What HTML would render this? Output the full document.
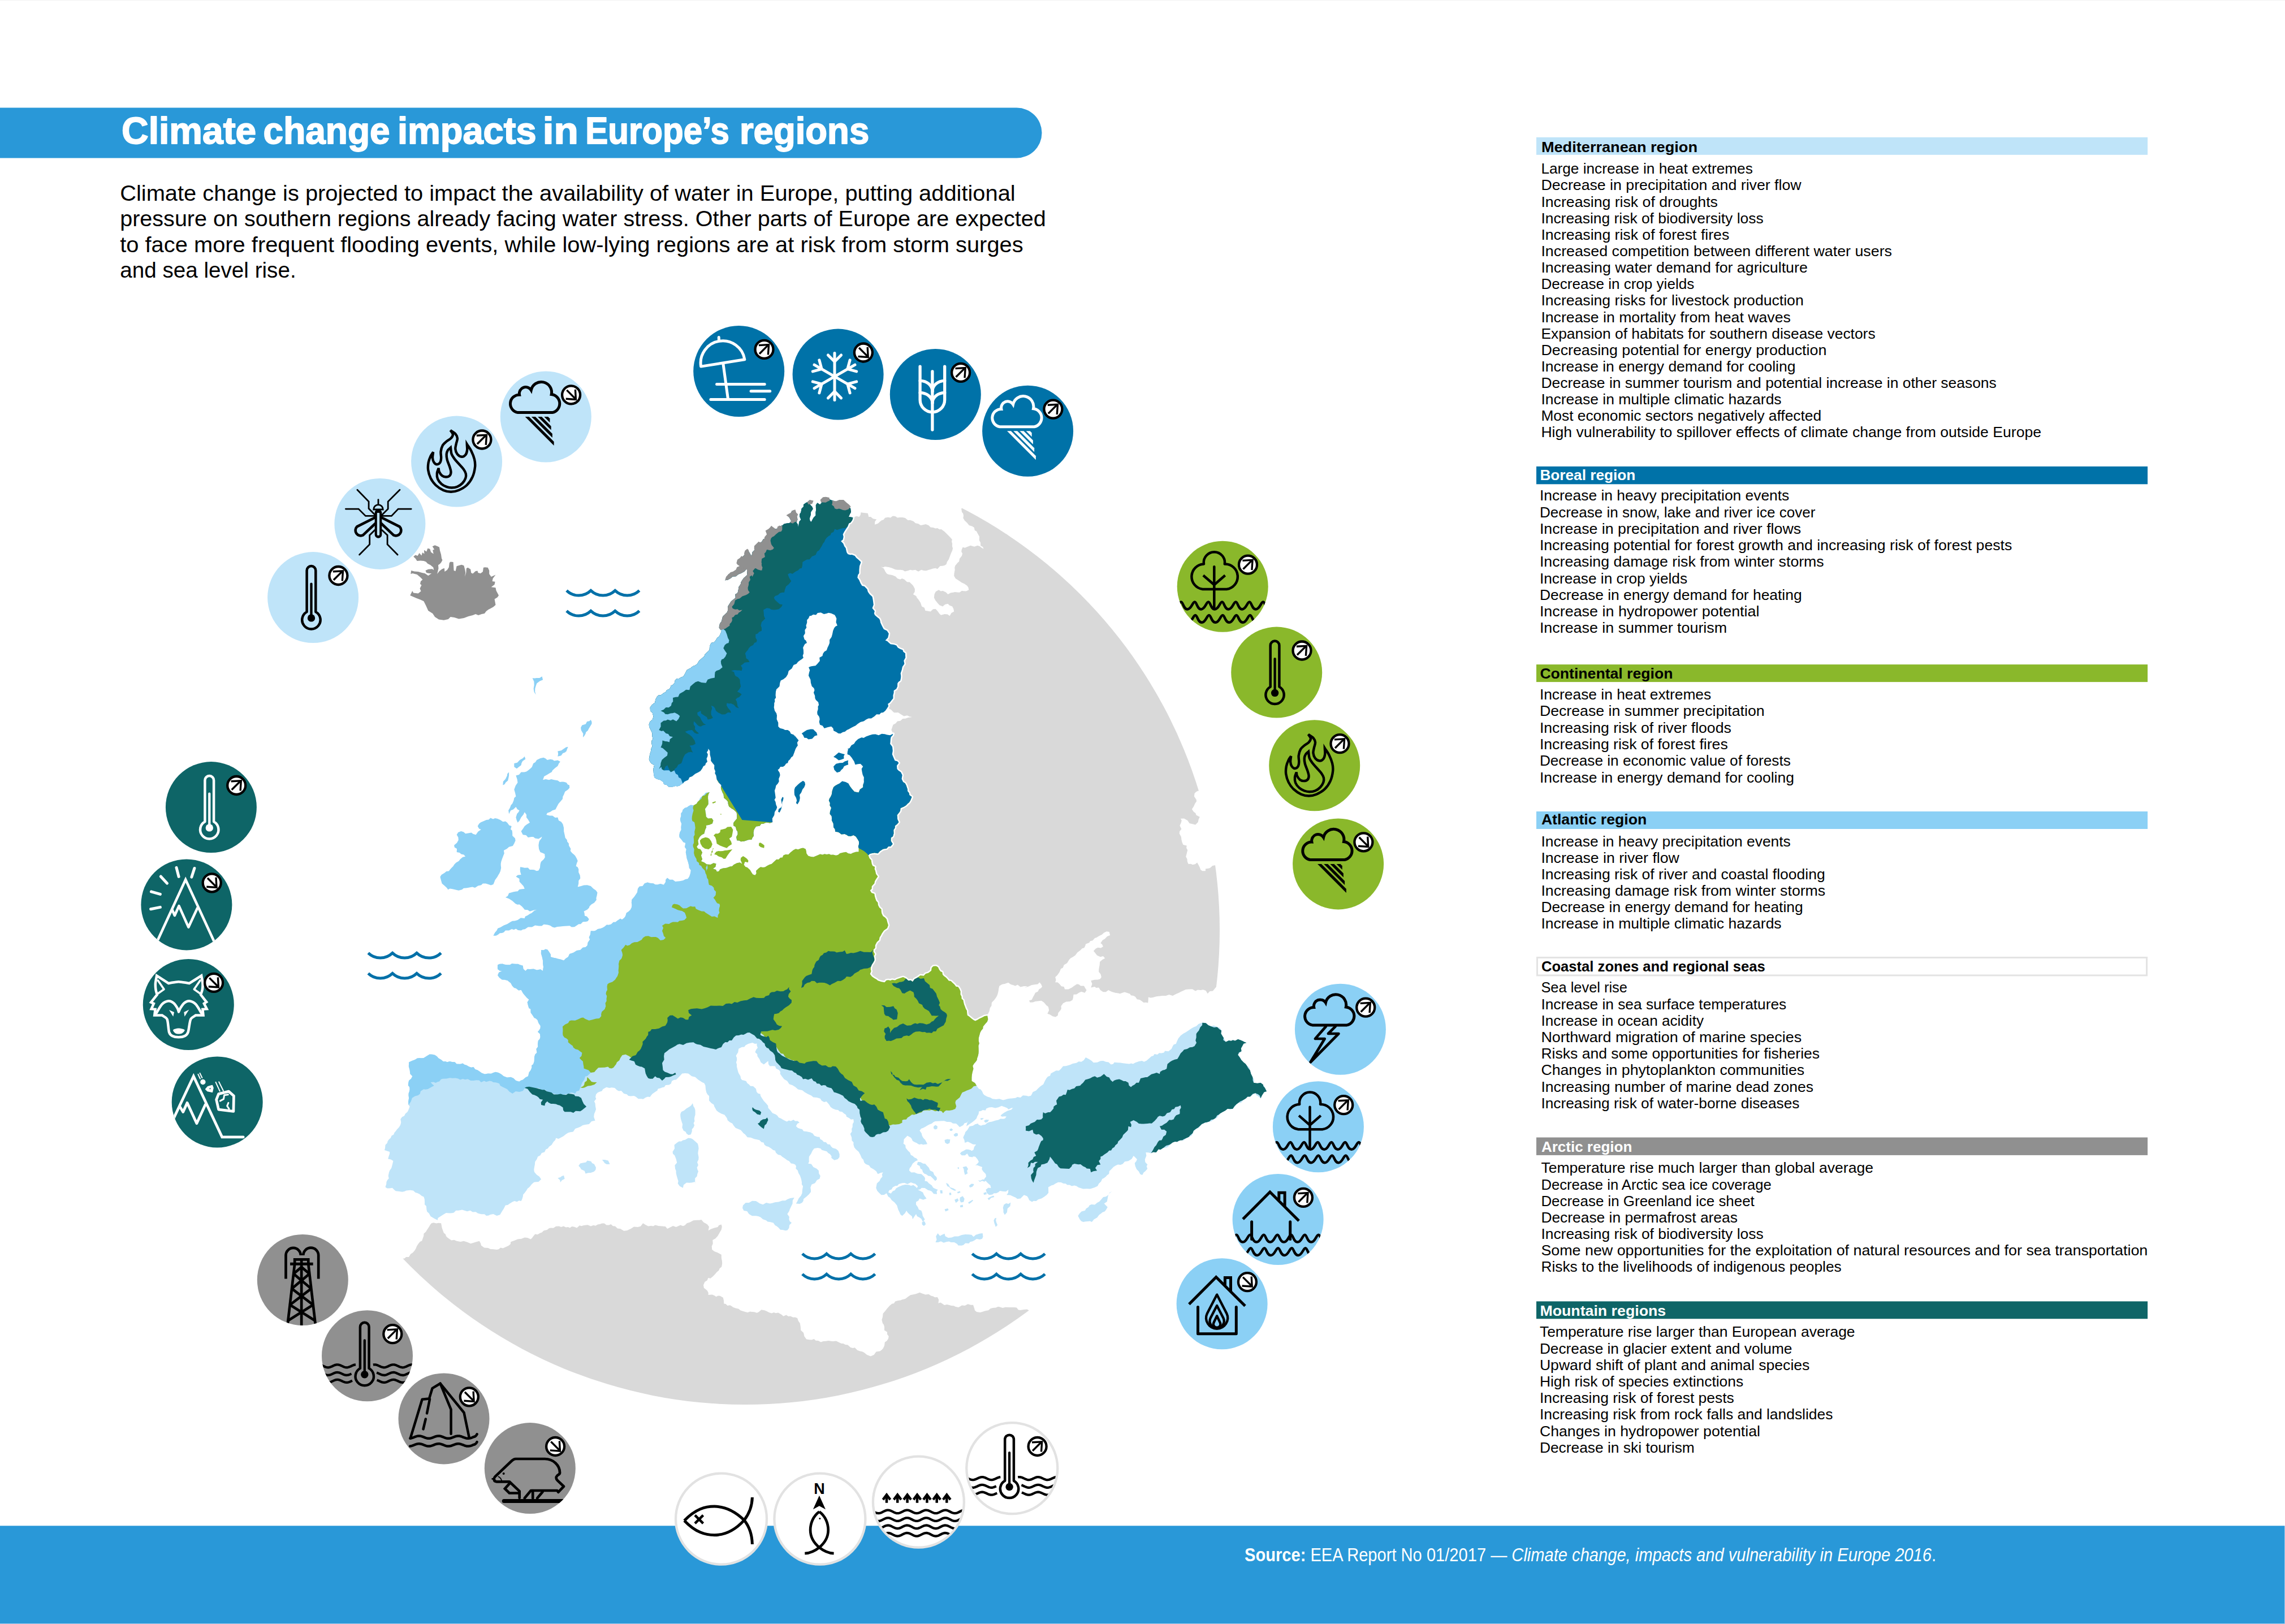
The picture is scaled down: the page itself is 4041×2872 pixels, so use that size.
<!DOCTYPE html>
<html lang="en"><head><meta charset="utf-8"><title>Climate change impacts in Europe’s regions</title>
<style>html,body{margin:0;padding:0;background:#fff}body{width:4041px;height:2872px;overflow:hidden}svg{display:block}text{font-family:"Liberation Sans", sans-serif;white-space:pre}</style></head><body>
<svg xmlns="http://www.w3.org/2000/svg" width="4041" height="2872" viewBox="0 0 4041 2872">
<rect width="4041" height="2872" fill="#fff"/>
<defs>
<clipPath id="globe"><circle cx="1318" cy="1645" r="839"/></clipPath>
<clipPath id="cscand"><path d="M1507.1,920 L1508.6,915.4 L1505.3,914.5 L1500.9,913.9 L1503,909.3 L1505.1,905.4 L1504,898.5 L1500,897.6 L1497,895.6 L1492.1,892.7 L1490.1,889.2 L1485.8,890.9 L1482.2,889.6 L1477.5,888 L1473.2,885.2 L1470.1,884.4 L1466.3,882.8 L1460.9,879.1 L1457.5,881.6 L1453.2,884 L1452.9,889.2 L1450.1,892.3 L1445.5,889.2 L1442.8,893 L1442.9,898.1 L1443.1,902 L1442.4,906.2 L1442.6,911.5 L1438.7,915.4 L1436.7,919 L1434.7,923.1 L1432.5,920.9 L1431.8,916.7 L1433.9,910.3 L1434.1,905.5 L1437.8,900 L1436.2,895.9 L1432.8,892.4 L1432.8,888.5 L1431.7,884.6 L1428.5,887.7 L1425.5,889 L1420.9,892.3 L1421,896 L1417.5,899.4 L1416.3,906.2 L1414.3,909 L1414.1,913.5 L1416.5,918.9 L1413.5,922.3 L1412.8,926 L1411.7,932.3 L1411,927.3 L1408.5,923.9 L1410.5,918.2 L1408.6,912.3 L1406.9,907.1 L1404.2,903.6 L1400.9,903.1 L1398.4,907.4 L1395.5,909.9 L1393.2,912.3 L1396.3,915.7 L1399.3,921.6 L1396.1,924.9 L1392.8,925.3 L1387,926.2 L1383.4,929.2 L1377.8,930.8 L1374.9,934.6 L1371.6,935.4 L1365.5,933.9 L1360.8,937.9 L1359.3,944.7 L1357.4,949.8 L1353.2,952.3 L1349.6,953.7 L1347,958.5 L1342.4,959.8 L1339.3,961.6 L1337.1,967.2 L1334.7,972.4 L1330.6,976.4 L1330.1,980.2 L1328.5,983.1 L1325.6,977.5 L1322.4,972.4 L1319.4,978.3 L1316.2,981.6 L1313.4,984.6 L1310.1,986.2 L1305.5,989.5 L1303.9,995.4 L1307.9,996.9 L1310.1,1001.6 L1306.2,1007.4 L1302.8,1010.4 L1297.8,1010.8 L1293.5,1013.6 L1288.5,1015.5 L1284.5,1020.8 L1282.4,1026.2 L1287,1025.5 L1291.6,1023.1 L1296,1019.5 L1301.4,1019.2 L1305.6,1015.7 L1310.1,1013.9 L1316.3,1010.8 L1319.1,1007.6 L1322.4,1004.7 L1321.5,1011.3 L1321,1017.3 L1317.8,1020.1 L1315.2,1022.2 L1313,1025.4 L1310.6,1029.3 L1310.1,1032.4 L1306.5,1038 L1305.5,1044.7 L1304.3,1048.7 L1300.4,1051 L1300.8,1057 L1297.4,1060 L1293.1,1063.2 L1289.9,1068.2 L1287.5,1072.1 L1287,1075.5 L1287.1,1079.7 L1285.7,1083.1 L1280.8,1087.8 L1278.3,1090.1 L1277.2,1093.8 L1276.2,1098.6 L1273.1,1102.7 L1271.6,1109.3 L1273.2,1112.7 L1276.2,1115.5 L1273.8,1121.7 L1271.6,1125.8 L1268.5,1127.8 L1265,1133.5 L1262.3,1136 L1257.7,1137 L1255,1143.1 L1254.7,1149.4 L1251.7,1152.6 L1246.9,1156.8 L1245.4,1160.7 L1242.3,1163.2 L1239.5,1165.7 L1236.1,1168.8 L1233.1,1174 L1229,1177 L1225.6,1178.1 L1220.8,1181.7 L1218.2,1183.1 L1214.6,1185 L1211.6,1190.9 L1208.5,1196.2 L1204.1,1197.9 L1200.8,1200.1 L1196.4,1200.3 L1193.4,1203.9 L1193.1,1207.3 L1190,1210.9 L1186.6,1212.4 L1185.3,1216.4 L1182.4,1219.2 L1179.2,1220.2 L1177.1,1223.9 L1174.1,1225.3 L1168.5,1229.4 L1165,1229.3 L1162,1232 L1159.2,1237.1 L1158.3,1242.6 L1153.1,1246.3 L1149.7,1251.1 L1150,1257.1 L1153.7,1260.6 L1155.6,1267 L1153.9,1272.4 L1149.4,1276.2 L1147.7,1281.1 L1148.1,1285.3 L1151,1291.6 L1153.5,1296.4 L1153.4,1301.7 L1154.6,1306.8 L1152.5,1310.1 L1152.4,1315.3 L1153.6,1319.8 L1151.7,1323.7 L1151,1328.5 L1149,1334.8 L1148.5,1339.2 L1147.7,1342.6 L1149.4,1347 L1152.2,1350.2 L1157.1,1353.2 L1155.6,1358.9 L1155.6,1365.5 L1156.4,1371.3 L1157.3,1375 L1161.7,1377.8 L1168,1379.6 L1172.9,1383 L1174.1,1387 L1179.2,1388.2 L1182.5,1391.4 L1189.4,1391.6 L1194.5,1390.1 L1198.2,1390.6 L1202.1,1389.3 L1204.8,1387 L1208,1385.3 L1210.2,1382.4 L1214.3,1380.5 L1217.2,1379.3 L1219.3,1374.7 L1224,1372.9 L1229.5,1368.6 L1235.1,1365.7 L1238.7,1363.4 L1241.8,1359.3 L1244,1354.9 L1247.2,1353.2 L1248.1,1350.1 L1251,1347 L1249.5,1341.7 L1251.4,1337.4 L1251.8,1333.7 L1249.9,1330.4 L1252.3,1327.1 L1252.6,1323.9 L1255.4,1327.9 L1255.6,1334.7 L1257.2,1340.9 L1257.2,1345.4 L1259.4,1348.6 L1263.3,1353.2 L1263.1,1359.4 L1265.1,1364.1 L1264.3,1367.4 L1266.4,1371.6 L1267.6,1378.4 L1271,1383.9 L1275.5,1388.6 L1274.8,1392.5 L1275.6,1396.3 L1277.6,1401.3 L1279.6,1404.9 L1280.2,1411 L1284.9,1414.7 L1287.5,1417.9 L1287.7,1421.7 L1289.2,1426.2 L1294.1,1430.1 L1297,1431.4 L1300.1,1434.3 L1302.6,1437 L1303.3,1440.9 L1303.2,1447.8 L1299.1,1452.5 L1297.2,1455.3 L1297,1460.1 L1301.1,1462.5 L1302.3,1467.7 L1304.5,1470.8 L1304.7,1475.5 L1302.2,1479.9 L1303.2,1486.2 L1307.4,1486.6 L1310.2,1488.3 L1315.5,1487.8 L1319.1,1486.8 L1322.9,1485.2 L1329.3,1484.7 L1330.7,1481.3 L1332.9,1478.6 L1332.4,1472.4 L1333.5,1467 L1337,1461.6 L1343.4,1460.7 L1346.3,1457 L1350.1,1456.8 L1355.1,1454.4 L1361.7,1455.5 L1366.3,1453.9 L1365.8,1447.4 L1369.3,1441.6 L1370,1436.1 L1373.1,1431.3 L1374.3,1427.6 L1372.4,1423.1 L1371.5,1417.9 L1369.6,1414.4 L1371.7,1410.7 L1370.9,1404.7 L1369.9,1398 L1371.4,1393.9 L1372.4,1389.3 L1375.6,1385.7 L1377.7,1382.1 L1377.2,1377.2 L1378.6,1373.9 L1379.6,1370.7 L1378.7,1366.5 L1375.5,1361.6 L1378.1,1359.6 L1380.1,1356 L1384.8,1356 L1387.8,1353.9 L1390.1,1350.4 L1393.2,1349.2 L1394.3,1345.6 L1397.1,1343.1 L1399.4,1339.2 L1402.2,1337.3 L1404.7,1330.8 L1406.9,1324.4 L1408.9,1321.1 L1410.9,1318.5 L1409.8,1313.3 L1412.4,1309.2 L1408,1304.1 L1404.7,1300 L1405.5,1303.3 L1403.9,1299.5 L1398.7,1297.5 L1396.8,1293.6 L1393.2,1291 L1388.4,1291 L1385.2,1289.2 L1379.3,1287.7 L1376.3,1284.8 L1376.3,1277.9 L1373.6,1272.1 L1374,1265.2 L1373.1,1261.6 L1370.1,1257.1 L1368.7,1251 L1369.2,1247 L1369.2,1243.6 L1370.4,1240.5 L1370,1236.4 L1372.2,1233.9 L1371.6,1229.4 L1372,1223.2 L1373.1,1219 L1375.3,1217 L1378.5,1213.8 L1379.3,1207.8 L1380.7,1203.6 L1385.4,1201.3 L1390.1,1197.6 L1393.2,1192.5 L1394.7,1186.5 L1400.3,1182.2 L1403.5,1176.1 L1408.6,1174 L1411.2,1170.5 L1414.9,1167.7 L1417.7,1165.9 L1420.9,1163.2 L1419.6,1159.8 L1421.1,1155.5 L1420.9,1149.4 L1420.1,1145.6 L1421.7,1142.1 L1423.6,1138.7 L1427,1137 L1425.3,1132.7 L1422.6,1130.7 L1420.9,1124.7 L1423.8,1120.1 L1423.4,1114 L1426.3,1109.9 L1425.5,1106.3 L1427.2,1101.2 L1427.2,1096.3 L1429.9,1093.5 L1431.7,1089.3 L1434.6,1088.9 L1438.2,1086.7 L1443.1,1087.6 L1445.9,1083.9 L1451.7,1083.2 L1457.1,1086 L1461.7,1084.9 L1465.3,1083.7 L1470.1,1084.7 L1476.1,1087.6 L1477.9,1090.5 L1479.4,1093.9 L1478.5,1100.6 L1480.9,1106.3 L1477.6,1107.8 L1475.3,1110.6 L1473.2,1115.5 L1472,1121.4 L1470.6,1126.5 L1467.1,1131.6 L1467.1,1137 L1465.7,1140.7 L1463.4,1145.6 L1461.9,1149.9 L1457.8,1152.4 L1455.4,1156 L1454.5,1160 L1449.2,1162.9 L1449.9,1168.8 L1445.5,1174 L1442.3,1177.2 L1438.2,1177.8 L1433.8,1178.6 L1430.1,1180.1 L1432.2,1185.3 L1430.9,1189.6 L1429.9,1194.8 L1431.7,1198.6 L1433.4,1202 L1433.9,1207.4 L1435.8,1213.7 L1439.4,1217.1 L1440.5,1220.4 L1438.9,1225 L1441.2,1230.6 L1441.4,1234.7 L1443,1238.1 L1447.1,1241.7 L1448.1,1246.8 L1446.5,1249.6 L1446.7,1254.1 L1445.2,1258.9 L1445.5,1263.3 L1448.7,1267.6 L1449.7,1271.8 L1448.7,1276.4 L1450.1,1281.7 L1454.7,1283.4 L1457.8,1287.9 L1464.1,1286 L1470.1,1284.8 L1473.4,1288 L1474.2,1292.2 L1478.9,1294.6 L1482.5,1297.1 L1486.4,1297.2 L1490.6,1294.8 L1494.2,1294 L1497.8,1291 L1501.2,1289.4 L1505.6,1287 L1509,1285.2 L1513.2,1283.3 L1516.7,1280.2 L1521.6,1277.1 L1527.9,1275.2 L1531.7,1272.5 L1535.9,1270.5 L1540.8,1270.6 L1546.2,1267 L1550.2,1263.3 L1555.4,1263.4 L1558.1,1260.6 L1561.9,1260.1 L1565.6,1257.1 L1568.8,1252.6 L1571.1,1248.7 L1570.2,1244.8 L1573.6,1242.5 L1576.6,1238.5 L1579.5,1235 L1579.4,1229.4 L1580.6,1225.3 L1580.6,1221.2 L1585.1,1218.2 L1587.1,1214 L1587.2,1208.6 L1588.8,1206 L1592.1,1203.6 L1593,1199.2 L1593.3,1195.5 L1592.6,1190.8 L1594.8,1184.3 L1595.8,1179.2 L1599.4,1174 L1598.3,1168.2 L1601.3,1163.1 L1601,1159.1 L1601,1155.5 L1597.3,1152.6 L1596.4,1149.4 L1591.9,1147.8 L1587.9,1145.6 L1585.2,1141.6 L1581,1140.1 L1574.9,1139.2 L1571.5,1136.3 L1569.2,1134.1 L1565.6,1132.4 L1570.2,1127.8 L1571.1,1123.7 L1571.8,1120.4 L1568.6,1115.5 L1562.9,1112.8 L1560.8,1109 L1559.4,1106.3 L1557,1100.9 L1556.3,1097 L1554.9,1094.2 L1551.6,1091.7 L1547.1,1087.8 L1545.8,1084.8 L1546.8,1080.7 L1542.5,1075.5 L1544.8,1069.4 L1544,1063.2 L1543.4,1059.3 L1542.5,1055.2 L1537.9,1050.9 L1534.9,1046.7 L1533.5,1041.9 L1528.6,1037 L1524.5,1035.9 L1522,1031.9 L1519.3,1025.7 L1516.3,1021.6 L1517.2,1016.8 L1519.4,1013.7 L1519.4,1007.8 L1520,1001 L1521.6,996.8 L1522.5,993.9 L1517.9,989.6 L1514.3,986.6 L1511.7,983.1 L1506.6,980.9 L1503.4,981.2 L1499.4,980.1 L1497.4,977 L1496.5,973.4 L1495.6,969.3 L1493.2,966.2 L1491.2,961.2 L1487.1,957 L1490.5,954.6 L1491.7,949.3 L1490.6,945.1 L1493.2,940 L1496,935.7 L1499.4,930.8 L1501.2,925.6 L1504.3,924Z"/></clipPath>
<clipPath id="cmain"><path d="M1579.4,1297.7 L1574,1300.2 L1568.9,1299.5 L1564.5,1298.2 L1559.4,1297.7 L1553.9,1300.3 L1548.3,1298.4 L1543,1298.7 L1537.9,1300.2 L1531.7,1302.6 L1527.4,1304.9 L1523.6,1304.3 L1517.6,1307 L1513.2,1311 L1510.3,1315.5 L1505.7,1318.1 L1502.6,1322.9 L1497.8,1324.8 L1500.2,1324.6 L1498.8,1329.5 L1498.6,1333.9 L1502.5,1335.6 L1506.3,1340 L1508.5,1343.4 L1510.4,1346.2 L1512.5,1352.3 L1516.9,1351.3 L1521.7,1350.8 L1526.3,1355.4 L1523.7,1359.8 L1524.8,1366.2 L1525.8,1370.5 L1527.9,1374.7 L1527.7,1378.8 L1527.9,1383.1 L1526.3,1388.3 L1526.3,1392.3 L1520.9,1396.1 L1518.6,1401.6 L1514,1400.8 L1510.9,1400 L1506.7,1395.3 L1503.3,1390.8 L1500.4,1385.4 L1495.6,1383.1 L1489.4,1381.6 L1484.6,1385.4 L1480.2,1387.7 L1476.4,1390.1 L1474,1392.3 L1471.8,1398.4 L1470.9,1404.7 L1468.9,1409.2 L1467,1412 L1465.8,1415.7 L1467.9,1420.1 L1467.5,1424.6 L1470.1,1428.8 L1467.9,1435.4 L1467.6,1439.5 L1470.8,1443.4 L1471,1447.3 L1470.9,1450.8 L1473.8,1456.4 L1474,1463.1 L1476.7,1466.4 L1477.1,1470.8 L1482.2,1471.5 L1484.8,1472.9 L1487.9,1475.5 L1493.7,1474.9 L1496.8,1476.3 L1500.2,1478.5 L1504.8,1478.7 L1509.4,1477 L1513.6,1479.5 L1517.1,1484.7 L1519.1,1488.6 L1519,1493 L1517.8,1497 L1518.6,1500.1 L1518.6,1506.2 L1513.8,1506.4 L1508.2,1508.2 L1504.9,1510.1 L1500.2,1509.3 L1496.2,1506.7 L1491.4,1507.4 L1485.4,1509 L1482.2,1511.8 L1478.5,1512.8 L1473.3,1511.4 L1469.4,1511.8 L1466.3,1510.3 L1462.2,1510.9 L1458.1,1510.3 L1454.8,1511.4 L1450.4,1510.5 L1444.8,1513 L1438.7,1515.6 L1434,1514.9 L1429.3,1513.4 L1426.3,1509.3 L1425.9,1505.4 L1424.8,1501.6 L1420.5,1499.4 L1417.1,1500.1 L1411.3,1502.2 L1407.2,1501.2 L1403.2,1503.2 L1397.9,1507.6 L1394.2,1511.2 L1389.4,1510.9 L1385.5,1512.6 L1383.7,1516.5 L1380.2,1516.7 L1377,1520.1 L1373.3,1519.8 L1369.5,1523.2 L1364.7,1527.8 L1360.7,1529 L1356.8,1530.9 L1352.8,1533.4 L1349.3,1533.9 L1345.1,1533.2 L1341.8,1535.5 L1337,1540.1 L1337.6,1544.5 L1335.5,1547.8 L1331.3,1546.3 L1329.3,1543.2 L1326.5,1538.6 L1321.6,1533.9 L1318.4,1532.9 L1315.5,1529.3 L1317.8,1523 L1321.6,1520.1 L1317.5,1518.2 L1315.5,1515.5 L1313.3,1518.6 L1309.3,1520.1 L1310.9,1523.7 L1312.4,1527.8 L1308.6,1525.2 L1303.2,1526.3 L1297.8,1529.1 L1294.7,1532 L1290.9,1532.4 L1284.9,1534.8 L1278.5,1535.5 L1273.5,1537.2 L1271.3,1540.7 L1267.8,1541.6 L1266.2,1538 L1260.9,1536.3 L1265.4,1532.9 L1266.5,1527.4 L1262,1526.3 L1256.5,1529.1 L1249.8,1528.5 L1245.4,1525.2 L1239.9,1523 L1242.1,1519.6 L1239.9,1513 L1242.1,1507.4 L1238.8,1501.9 L1234.3,1500.8 L1232.1,1497.5 L1235.4,1493 L1234.3,1486.4 L1236.2,1482.3 L1237.7,1479.7 L1241,1476.4 L1245.4,1474.2 L1247.1,1467.5 L1249.2,1463.1 L1248.7,1459.8 L1254.3,1458.7 L1259.8,1456.5 L1261.5,1450.9 L1258.7,1447 L1252.1,1447.6 L1248.7,1444.3 L1248.2,1439 L1247.6,1435.4 L1246.9,1430.6 L1249.8,1426.5 L1252.7,1422.2 L1252.6,1416.6 L1252.1,1412.3 L1252.1,1407.7 L1253.3,1403.8 L1254.8,1401.1 L1248,1401.9 L1245.1,1405.6 L1242.1,1407.7 L1238.1,1411.5 L1236.5,1415.5 L1233.5,1418.4 L1232.1,1421 L1226.6,1424.3 L1221.7,1423.5 L1217.7,1425.4 L1215.3,1427.4 L1211.1,1428.8 L1207.5,1431.9 L1206.6,1435.4 L1204.3,1438.6 L1204.4,1443.2 L1202.8,1448.2 L1203.3,1452 L1205.2,1456.4 L1204.4,1463.1 L1204.7,1467.4 L1202.2,1472 L1201.2,1476.9 L1201.6,1480.8 L1205.5,1485.3 L1208.3,1489.2 L1212.2,1490.8 L1211.6,1494.9 L1210.8,1497.7 L1213.8,1501.9 L1212.7,1506.9 L1213.8,1513 L1214.6,1517.9 L1216.6,1524.1 L1218.3,1530.2 L1218.8,1535.1 L1221.8,1539.1 L1221,1544 L1220.2,1547.1 L1218.8,1550.7 L1216.3,1554.2 L1212.2,1555.1 L1207.8,1557.3 L1201.1,1558.4 L1194.2,1559 L1189.7,1555.7 L1184.3,1555.8 L1180,1552.4 L1177.2,1555.9 L1177.1,1559.7 L1173.9,1564.7 L1168.1,1562.9 L1162.3,1564.4 L1158.7,1564.3 L1155.4,1562.2 L1149.3,1561.7 L1145.2,1560.5 L1139.9,1562.3 L1136.5,1567 L1130.8,1567.8 L1128,1571.5 L1127,1577.9 L1124.4,1581.9 L1121.5,1586.3 L1117.3,1591 L1116.8,1596.3 L1117.4,1600.7 L1116.9,1604.7 L1114.8,1609 L1111.6,1611.9 L1107.8,1614.6 L1106.2,1620.1 L1103.9,1623.2 L1100,1626.3 L1097.1,1624.6 L1091.5,1628.2 L1088.4,1630.8 L1084.8,1630.8 L1080.8,1634.5 L1076.5,1635.8 L1072.9,1635.5 L1069.4,1638.5 L1066.2,1640.4 L1062.3,1641.9 L1057.1,1643.1 L1053.6,1645.6 L1050.6,1646.6 L1044.8,1646.2 L1043.8,1652.9 L1041.6,1657.8 L1043.2,1661.6 L1039.6,1666.7 L1038.6,1672.3 L1035.5,1674.9 L1030.6,1675.7 L1026.3,1680 L1019.9,1681 L1014,1684.7 L1011,1685.7 L1007.2,1687.1 L1004.8,1692.3 L1000.5,1695.1 L997.1,1698.5 L991.2,1696.4 L986.3,1695.4 L983.3,1694.4 L979.2,1693.7 L974,1692.3 L974,1687.9 L970.9,1683.1 L968.1,1679.3 L964.7,1678.5 L961.6,1680.2 L957.1,1680 L956.8,1686.2 L958.6,1692.3 L960.1,1699 L960.1,1704.7 L961,1709.9 L960.3,1714 L960.1,1717 L955.9,1714.2 L949.4,1715.4 L943.8,1713.4 L937,1713.9 L932.7,1713.8 L929.3,1717 L925.5,1713.5 L924.7,1707.7 L919.4,1706.3 L916.3,1704.7 L912.4,1704.7 L908.7,1704.4 L905.4,1704.1 L901.8,1706.2 L897,1706.2 L892.6,1705.8 L888.9,1704.4 L883.7,1704.7 L880.1,1706.2 L879.9,1710.6 L880.1,1713.9 L884.1,1717 L887.8,1717 L882.2,1719.7 L880.1,1724.7 L883.1,1729 L887.8,1732.4 L892.4,1732.8 L897.6,1734.1 L900.6,1736.6 L903.2,1738.5 L905.9,1743.6 L909.2,1746.9 L912.4,1747.8 L917.2,1751.5 L921.7,1750.8 L924.9,1756.4 L927.8,1760.1 L931.9,1764.8 L935.5,1767.8 L932.5,1772.6 L934,1778.5 L935.4,1782.9 L938.4,1784.6 L938.6,1790.9 L941.7,1795.3 L944.7,1800.1 L947.6,1801.2 L950.6,1804.1 L952.4,1809.3 L955.8,1814.2 L955.5,1818.6 L953.2,1822.2 L950.9,1824.7 L954.9,1828.4 L955.5,1833.9 L954.5,1837.6 L951.8,1840.3 L950.9,1846.3 L951.2,1851.3 L948.4,1855.1 L949.4,1861.7 L946.4,1864.6 L945,1869.1 L944.9,1872.3 L944.7,1877 L943,1881.9 L940.1,1884.3 L940.5,1887.8 L938.6,1892.4 L935.6,1896.4 L934,1903.2 L929.6,1905.2 L924.7,1909.4 L921.1,1910.8 L918.3,1912.7 L912.4,1910.9 L908,1906.7 L903.2,1904.7 L897,1905.6 L890.9,1903.2 L885.8,1899.3 L881.6,1897.1 L876.4,1895.8 L872.4,1897.1 L868.5,1898.8 L863.2,1898.6 L857.2,1899.5 L851.8,1897.5 L848.1,1894.7 L844.7,1892.4 L840.4,1890.9 L837.4,1887 L833.4,1887.8 L829.3,1886.3 L825,1883.8 L821.5,1882.7 L818.3,1880.6 L813.9,1881.7 L807.5,1881.6 L804.4,1878.2 L799.5,1878 L795.4,1877 L790.8,1878.2 L787.7,1876.9 L784,1877.2 L780.1,1874 L775.3,1871.2 L772.8,1868.2 L769.1,1865.8 L764.7,1864.7 L759.8,1864.4 L755.2,1867.3 L749.3,1870.9 L745,1871.2 L742.2,1870.9 L737.9,1871.5 L733.9,1874 L728.5,1876 L723.1,1878.6 L723.1,1882 L722.8,1885.7 L724.6,1892.4 L725.4,1899.3 L729.3,1903.2 L727.2,1907.6 L723.1,1910.9 L722.1,1915.4 L721.8,1919.5 L724.2,1922.6 L724.6,1926.3 L723.9,1930 L722.6,1933.7 L722.5,1937.3 L723.1,1941.7 L722.1,1948.2 L722.3,1953 L724.6,1957.1 L722.2,1963.3 L720.5,1966.5 L716.9,1969.4 L714.9,1973.6 L711.1,1975.3 L708.3,1979.3 L709.3,1984.8 L708.2,1989.3 L705.7,1993.5 L702.1,1997.3 L700,2000.2 L697.5,2003 L696.2,2006.4 L692.5,2008.5 L690.8,2012.5 L687.9,2015.1 L685.6,2018.2 L684.8,2021.6 L681.5,2024.8 L681,2030.4 L680,2034 L684.6,2035.6 L689.2,2037.1 L689,2040.5 L687.8,2044 L686.2,2049.4 L691.2,2050.6 L695.4,2053.1 L693.9,2059.5 L692.3,2065.4 L689.2,2070 L687.9,2073.5 L686.7,2079.4 L687.7,2083.9 L685.4,2086.5 L683.5,2090.1 L683.2,2094.1 L681.5,2099.3 L684.6,2101.6 L688.6,2101.6 L693.9,2100.8 L697,2104.1 L699.8,2106.2 L706.2,2106.9 L711.3,2107.7 L715.2,2106.9 L718.5,2105.4 L725.4,2104.7 L730.8,2105.4 L734.7,2109.1 L737.6,2109.7 L741.6,2111.6 L745.9,2115 L749.4,2116.6 L750.8,2120.8 L751.1,2126.4 L750.9,2129.9 L753.9,2133.1 L754.4,2139.3 L755.4,2143 L758.5,2145.4 L761.7,2151.2 L767.7,2154.7 L773.9,2157.7 L774.5,2154.1 L778.4,2151.6 L783.1,2148.5 L788.9,2145.1 L795.4,2145.4 L799.6,2145.2 L802.7,2144.6 L806.3,2140.7 L810.8,2140.8 L817.2,2139.5 L821.5,2140.8 L826.2,2142.3 L831.6,2140.8 L836,2143.4 L841.5,2143.2 L844.7,2145.4 L848,2146.4 L851.6,2147.3 L856.8,2147.2 L860.1,2150 L864.2,2149.6 L867,2147.9 L872.4,2147 L878.6,2150 L884.3,2148.3 L887.8,2142.3 L891.2,2137 L893.9,2131.6 L898,2130.9 L901,2128.7 L906.3,2125.4 L909.8,2124.1 L914.2,2125.2 L917.9,2123.3 L921.7,2123.9 L923.4,2120.6 L924.7,2116.2 L925.2,2112.4 L927.7,2109.7 L930.9,2105.4 L933.1,2101.8 L935.5,2100.1 L937.9,2097.5 L940.1,2094.6 L944.3,2090.7 L948,2090.3 L952.4,2090 L957.1,2085.4 L953.6,2080.6 L949.4,2077.7 L945,2072.7 L944.3,2068.8 L944.7,2065.4 L945.9,2059.3 L946.3,2054.6 L949.4,2050 L951.1,2045.4 L955.5,2043.3 L958,2038.9 L963,2037.5 L965.2,2032.7 L969,2030.9 L970.9,2027.9 L975.5,2024.7 L978.7,2019.6 L982.1,2016 L983.2,2012.5 L987.6,2013.9 L991.5,2012.1 L996.5,2009.3 L1000.8,2005.8 L1004.8,2003.3 L1008.5,2002.3 L1013.6,2001.6 L1017.3,1996.1 L1023.2,1994 L1027.1,1992.2 L1030.5,1989.9 L1035,1989.1 L1041.7,1987.9 L1046.2,1983.1 L1052.5,1981.7 L1050.2,1975.2 L1050.9,1969.8 L1052.5,1966.3 L1054,1961.8 L1052.9,1955.5 L1052.6,1951.2 L1050.9,1947.8 L1054.3,1943.3 L1053.1,1940 L1054,1935.5 L1056.6,1932.4 L1059.5,1930.9 L1064.4,1929.5 L1066.3,1926.3 L1069.7,1924.2 L1072.5,1922.8 L1077.7,1924.1 L1081.7,1923.2 L1087.2,1924 L1091,1927.8 L1094.4,1929.5 L1098.7,1929.1 L1103.3,1934 L1108.6,1935.3 L1111.3,1938 L1115.6,1938.6 L1121.2,1937.9 L1124.7,1939.7 L1128.8,1943.3 L1134.1,1943.2 L1137.5,1943.8 L1141.6,1941.1 L1145.6,1939.6 L1149.4,1940.1 L1153.4,1934.8 L1158.7,1930.9 L1162.4,1928.8 L1163.6,1925.4 L1167.9,1924.4 L1171,1923.2 L1174.7,1922.5 L1177.1,1919.1 L1183.3,1918.6 L1186.6,1916.6 L1188.2,1911.8 L1192,1909.8 L1195.6,1909.4 L1198.8,1906.5 L1202.2,1903 L1206.4,1898.6 L1211.8,1897.9 L1217.2,1898.6 L1220.2,1900.7 L1223.3,1903.3 L1229.5,1904.7 L1234.5,1909.2 L1238,1911.4 L1241.8,1914 L1245.3,1915.5 L1247.4,1919.5 L1248,1926.3 L1249.2,1931.8 L1251,1935.3 L1254.1,1938.2 L1254.1,1941.7 L1253.9,1946.2 L1258,1950.7 L1262.3,1953.5 L1263.3,1957.1 L1265.6,1960.9 L1267.1,1963.7 L1270.4,1966.4 L1275.7,1969.4 L1281.3,1971.5 L1285.4,1977.1 L1286.8,1981.2 L1291,1984.8 L1295.1,1986.8 L1297.4,1990.5 L1300.9,1994.8 L1306.4,1997.1 L1310,1998.5 L1312.3,2000.9 L1314.7,2004 L1317.8,2006.2 L1321.8,2011.2 L1327.7,2011.7 L1333.9,2014.2 L1337.7,2015 L1343.1,2016.3 L1346.8,2019.9 L1350.4,2020.4 L1351.9,2024.4 L1355.4,2027 L1359.1,2028.1 L1363.8,2030.9 L1367.5,2033.9 L1370.8,2034.7 L1372.1,2038.6 L1376,2041.9 L1380.5,2043.1 L1383.1,2045.5 L1388.5,2049 L1392,2051.7 L1395.4,2053.2 L1399,2057.6 L1402.8,2057.9 L1406.2,2059.4 L1408,2062.5 L1407.3,2066.5 L1410.8,2070.1 L1412.1,2074.5 L1414.8,2079 L1417,2085.5 L1418,2091 L1417.9,2094.6 L1420.1,2097.8 L1419.6,2100.6 L1418.9,2104.7 L1418.5,2110.2 L1416.7,2114.3 L1412.4,2119.4 L1409.9,2125 L1407.7,2128.6 L1414.3,2129 L1418.5,2127.1 L1420.6,2124.1 L1421.1,2120.2 L1426.2,2116.3 L1430.8,2112 L1434.1,2107.8 L1433.9,2104 L1433.3,2100 L1435.4,2094.8 L1441.4,2092.3 L1444.7,2087.1 L1449.5,2084.5 L1450.8,2079.4 L1448.3,2075.5 L1447.8,2070.1 L1443.9,2066.6 L1438.5,2064 L1434.7,2058.6 L1429.3,2057.8 L1430.8,2054.6 L1430.6,2050.8 L1430.8,2045.5 L1434.3,2040.5 L1437,2034.7 L1440,2030.9 L1446.2,2030.1 L1451.1,2030.9 L1453.4,2033.7 L1457,2034.7 L1462.2,2036.2 L1464.5,2038.9 L1467.8,2040.9 L1470.5,2044.5 L1470.3,2047.7 L1475.5,2051.7 L1481.6,2050.1 L1484.6,2046.3 L1484.7,2040.9 L1482.6,2035.2 L1478.5,2031.7 L1472.5,2029.9 L1469.6,2027.3 L1467.8,2024 L1463.6,2023.6 L1460.7,2020 L1456.8,2019.4 L1453.9,2016.3 L1450.5,2014.6 L1449.4,2010.8 L1445.4,2010.4 L1440.1,2008.6 L1437.3,2004.5 L1433.2,2002.6 L1429.6,2001.7 L1426.2,2000.9 L1421.2,2000.6 L1418.7,1996.9 L1415.4,1996.3 L1411,1994.7 L1407.7,1991.6 L1410.2,1987.1 L1413.9,1985.5 L1410.8,1982.4 L1406.1,1982.5 L1403.5,1980.3 L1398.5,1982.4 L1395.2,1981.5 L1391.5,1983.6 L1386.2,1980.9 L1381.2,1977.9 L1377,1976.3 L1374.8,1973.1 L1371.8,1970.7 L1366.2,1968.6 L1362.1,1963.3 L1358.5,1959.3 L1358.3,1955.5 L1355.5,1952.1 L1350.8,1947 L1347.1,1941.5 L1345,1938.1 L1344.6,1934.7 L1340.6,1933.7 L1338.1,1930.9 L1336.9,1925.5 L1332,1920.9 L1326.9,1920.6 L1324.6,1917.8 L1321.4,1915.6 L1319.6,1912.1 L1316.6,1910.9 L1312.3,1910.1 L1310.1,1907.2 L1309.5,1903.2 L1306.2,1897.8 L1305.2,1894.9 L1304.2,1890.9 L1302.9,1886.1 L1303.1,1882.4 L1301.9,1878.8 L1303.2,1874.8 L1303.1,1870.8 L1301.5,1867 L1303.5,1863.7 L1305.3,1860.9 L1306.2,1854.7 L1312,1851.8 L1316.3,1851.4 L1318.5,1848.5 L1323.2,1846.1 L1326.7,1844.9 L1330.8,1843.9 L1335.1,1846.1 L1338.5,1845.4 L1338.4,1848.7 L1340,1853.1 L1337.4,1856.1 L1335.4,1860.8 L1339.2,1864.2 L1339.5,1867.9 L1343.1,1873.1 L1345.5,1878.7 L1350.8,1882.4 L1354.5,1879.6 L1358.5,1876.2 L1359,1882.1 L1361.6,1885.4 L1366.7,1885.3 L1370.8,1885.4 L1372.6,1889.7 L1377.8,1892.2 L1380.1,1895.8 L1379.6,1899.1 L1383.1,1903.9 L1386.7,1908.6 L1392.2,1911.8 L1395.8,1917.2 L1401.6,1919.3 L1406.4,1922.3 L1411.3,1926.5 L1415.6,1927.6 L1418.7,1927.9 L1423.1,1931.6 L1428.8,1934.8 L1434.8,1937.4 L1438.4,1940.4 L1444.7,1940.9 L1450.6,1942.8 L1453,1946.4 L1457.3,1949.1 L1461.6,1948 L1466.2,1953.2 L1468.9,1957.7 L1472.8,1960.6 L1477.7,1962.6 L1482.2,1962.9 L1484.7,1965.5 L1489.3,1966.2 L1492.3,1969.1 L1496.2,1971.5 L1497,1974.7 L1502.1,1977.6 L1504.9,1979.8 L1509.3,1979.3 L1509.9,1984.3 L1507.8,1988.1 L1507.7,1992.9 L1506.2,1996.3 L1506.5,2001.2 L1503.7,2005.3 L1506.2,2011.7 L1506.5,2016.9 L1509.5,2020.3 L1509.3,2024 L1510.9,2029.3 L1513.8,2032.7 L1518.7,2036.9 L1521.6,2042.4 L1523.9,2047.9 L1526.9,2050.9 L1528.3,2056.1 L1531.2,2058.7 L1537,2060.9 L1539.5,2064.8 L1544.5,2067.5 L1549.6,2071.3 L1552.4,2076.3 L1557.7,2074.1 L1561.7,2073.2 L1559.8,2076.7 L1560.5,2081.1 L1557.3,2084.4 L1555.5,2088.6 L1550.8,2092.8 L1550.1,2096.6 L1549.3,2100.9 L1551.4,2106 L1553.9,2108.8 L1558.6,2113.2 L1563.6,2113.1 L1567.8,2110.2 L1570.9,2116.3 L1574.1,2118.2 L1577,2122.5 L1581.8,2126.3 L1586.3,2131.7 L1587.2,2135 L1588.5,2139.2 L1590.9,2144 L1592.2,2147.6 L1595.5,2150.2 L1600.3,2145.8 L1603.2,2140.9 L1604.7,2143.8 L1607.8,2147.1 L1612.8,2151 L1614,2156.3 L1617.1,2151.3 L1620.1,2147.1 L1621.9,2151.1 L1626.3,2153.3 L1629.4,2155.4 L1631,2158.8 L1634,2164 L1633.4,2159.5 L1635.5,2156.3 L1633.3,2152.8 L1631.7,2149.9 L1631.1,2145.4 L1629.4,2140.9 L1624.9,2139.1 L1623.1,2134.5 L1619.9,2130.2 L1620.1,2125.5 L1624,2123.6 L1626.3,2119.4 L1632.7,2121.8 L1638.6,2119.4 L1636.1,2116.3 L1634,2113.2 L1632.2,2108.7 L1629.1,2107 L1623.2,2104 L1627,2103.6 L1629.9,2100.7 L1635.5,2100.9 L1641.2,2104.7 L1644.6,2105.4 L1647.8,2107.1 L1651.2,2111.2 L1657.1,2111.7 L1656.4,2107.1 L1658.6,2104 L1653.4,2102 L1650.2,2100.2 L1647.8,2096.3 L1642.8,2092.7 L1639.6,2089.2 L1635.5,2088.6 L1636,2083.5 L1634.1,2080.4 L1629.4,2076.3 L1625.1,2076.1 L1622.2,2075.4 L1617.1,2073.2 L1611.6,2073.5 L1607.8,2070.1 L1608.8,2065.8 L1611.3,2063 L1614,2057.8 L1619.1,2053.5 L1623.2,2051.7 L1620.8,2048.4 L1617.4,2047.2 L1614.2,2044.2 L1610.9,2042.4 L1609.1,2038.1 L1606.2,2035.4 L1601.7,2030.1 L1601.2,2025 L1597.6,2022.4 L1598.3,2019.2 L1598.6,2014.7 L1601.6,2011.7 L1604.7,2008.6 L1610.2,2011.6 L1612.3,2013.8 L1614,2017.8 L1617.9,2020.1 L1620.9,2021.2 L1626.3,2024 L1629.2,2023.2 L1633.3,2024.5 L1638.6,2020.9 L1636.4,2016.8 L1632.5,2011.7 L1630.7,2008.5 L1629.7,2004.2 L1626.3,1999.3 L1629.4,1995.8 L1632.5,1994.7 L1636.4,1992.8 L1639.5,1990.8 L1643.7,1988.5 L1647.8,1987 L1650.7,1984.6 L1653.9,1983.1 L1658.2,1982.7 L1663.2,1982.4 L1669.6,1982.2 L1674.6,1984 L1678.6,1983.9 L1681.9,1984.5 L1685.1,1986.7 L1690.9,1987 L1693.7,1989.5 L1697.1,1993.2 L1703.3,1990.1 L1705.8,1986.3 L1709.4,1985.5 L1714,1980.9 L1710.9,1984.6 L1709.5,1989.6 L1709,1993.1 L1706.3,1996.3 L1706.2,2000.3 L1704.7,2004.5 L1704.8,2008 L1703.3,2011.7 L1705.4,2016.1 L1706.3,2020.9 L1711.5,2019 L1715.6,2020.9 L1720.8,2023.8 L1726.3,2024 L1722.9,2028.2 L1721.7,2033.2 L1716.4,2036.8 L1712.5,2039.4 L1714.2,2043.3 L1718.7,2045 L1724.8,2045.5 L1728.8,2050.2 L1731,2054.7 L1728.4,2058.1 L1724.8,2060.9 L1727.8,2060.6 L1731.8,2062.1 L1737.1,2064 L1736.3,2067.6 L1738.4,2071.3 L1743.3,2076.3 L1744,2080.7 L1740.2,2085.5 L1743.1,2088.3 L1746.4,2091.7 L1751.4,2096.2 L1752.5,2100.9 L1747.8,2100.4 L1743.3,2104 L1745.6,2110.3 L1749.4,2113.2 L1755,2112.5 L1757.7,2110.2 L1761.7,2110.2 L1765.5,2108.5 L1768.3,2106.1 L1774.1,2107.1 L1779,2107.3 L1783.3,2104 L1782.9,2109.5 L1780.2,2113.2 L1786.5,2113.4 L1792.5,2116.3 L1796,2117.7 L1799.3,2120.3 L1804.8,2119.4 L1807.7,2116.5 L1811,2113.2 L1816.6,2115.4 L1818.6,2118.8 L1820.2,2122.5 L1825.1,2125.4 L1827.9,2123.7 L1832.5,2124 L1836,2121.2 L1841.8,2119.4 L1846.3,2116.8 L1851,2113.2 L1854.2,2109.6 L1854.1,2104 L1853.9,2099.4 L1859.8,2096.2 L1863,2095.6 L1866.2,2093.3 L1871.4,2090.8 L1876.5,2090.9 L1880.5,2092.9 L1884.7,2093.3 L1887.5,2095.4 L1891.6,2095.5 L1895.4,2097.5 L1900.1,2096.4 L1903.7,2097.4 L1907.5,2100.1 L1912.3,2101.6 L1915.5,2102.5 L1922.3,2102.3 L1927.8,2102.5 L1931.3,2101.6 L1935.9,2100.1 L1941.1,2097.6 L1943.2,2093.3 L1947.2,2089.6 L1949.2,2085 L1952.6,2083.2 L1955.5,2081 L1957.9,2078.3 L1961.2,2076 L1961.9,2071.1 L1964.7,2068.6 L1969.2,2063.7 L1972.6,2061.4 L1977,2059.4 L1981.6,2060 L1985.5,2058.6 L1989.1,2054.2 L1995.5,2053.3 L2001.4,2049.6 L2004.7,2044 L2008.1,2047.3 L2010.9,2050.2 L2009.5,2053.4 L2006.7,2056.9 L2007.8,2062.5 L2010.1,2067.8 L2014,2071.7 L2016.4,2076.4 L2020.1,2077.9 L2022.6,2073.6 L2025.5,2071.2 L2029.2,2066.9 L2027.7,2062.4 L2029.4,2059.4 L2025.3,2055.2 L2024.8,2050.2 L2027.4,2043.8 L2026.3,2037.9 L2030.9,2038.2 L2035.5,2039.4 L2039.1,2037.5 L2044.8,2037.9 L2048.7,2032.6 L2052.7,2033.2 L2057.1,2030.2 L2063.6,2029.2 L2067.1,2026.8 L2069.4,2024 L2073.8,2020.6 L2078,2018.9 L2081.7,2019.4 L2084.8,2017.5 L2088.4,2016.4 L2093.4,2016.7 L2097.1,2013.2 L2102.8,2010.5 L2107.2,2008.4 L2109.4,2004 L2110.9,1999.8 L2115.8,1996.3 L2120,1994.6 L2121.7,1991.7 L2125.3,1987.9 L2131,1985.5 L2134.2,1984.7 L2138.4,1983.6 L2142.7,1983.1 L2146.4,1979.4 L2152.1,1977.1 L2155.1,1972.4 L2157.3,1969.5 L2161.7,1967.1 L2166.7,1964.2 L2171,1960.9 L2175.6,1961.8 L2180.2,1960.9 L2183.7,1957.1 L2186.4,1953.2 L2190.6,1950 L2194.5,1950.5 L2198.7,1945.5 L2203.7,1942.2 L2206.4,1939.6 L2211,1939.4 L2215.2,1936.1 L2220.2,1933.2 L2221.4,1936.4 L2225.1,1938.8 L2229.5,1942.4 L2232.5,1936.3 L2235.5,1931.4 L2240.2,1930.1 L2237.2,1924 L2233.9,1918.2 L2229.5,1914.7 L2223.6,1915.8 L2217.2,1914.7 L2218,1909.9 L2215.6,1905.5 L2212.6,1899.4 L2211,1893.2 L2209.4,1888.1 L2204.8,1883.9 L2202.9,1881.4 L2199.4,1878.8 L2195.6,1874.7 L2193,1869.8 L2189.4,1865.5 L2192.4,1862.1 L2195.6,1859.3 L2194.8,1854.1 L2197.1,1850.1 L2199.3,1845.7 L2204.8,1843.9 L2202,1842.9 L2198.2,1841.3 L2193,1839 L2189.4,1837.8 L2184.2,1840.5 L2180.2,1839.3 L2177.3,1840.8 L2173.2,1840.1 L2167.9,1842.4 L2164.7,1836.3 L2161.7,1831.6 L2159.4,1828.1 L2160.2,1822.4 L2157.1,1817.5 L2152.5,1816.2 L2146.7,1813.4 L2141.6,1814.8 L2137.1,1813.1 L2133.1,1809.3 L2126.3,1808.5 L2119.8,1810.8 L2115.6,1814.7 L2110.6,1816.7 L2106.3,1819.3 L2101.7,1822.6 L2097.1,1825.5 L2092.5,1827.9 L2087.9,1831.6 L2083.8,1836.6 L2081.7,1840.9 L2079.7,1846 L2075.8,1847.3 L2074,1850.1 L2071.7,1855.1 L2066.3,1859.3 L2060.3,1858.6 L2058.4,1861.5 L2054,1862.4 L2050,1862.2 L2046.8,1865 L2041.7,1863.9 L2039.8,1866.9 L2036,1868.2 L2032.5,1871.6 L2027.6,1875.8 L2023.2,1877.8 L2019.6,1876.1 L2014.2,1877 L2007.8,1879.3 L2003.7,1881.5 L2000.6,1880.4 L1997.1,1881.4 L1992.4,1880.9 L1986.1,1880.2 L1981.6,1879.6 L1977,1879.3 L1970.7,1878.8 L1968.5,1881.8 L1964.7,1882.4 L1960.5,1878.5 L1955.5,1877.8 L1951.1,1876.1 L1946.3,1876.3 L1940.5,1878.7 L1933.9,1879.3 L1930.2,1875.8 L1926.3,1873.2 L1920.1,1870.1 L1916.6,1875 L1912.4,1877.8 L1907.7,1877.3 L1903.6,1879.7 L1897,1880.9 L1892.8,1883.1 L1888.6,1884.2 L1884.9,1885.3 L1880.1,1885.5 L1875.8,1890.7 L1872.5,1893.5 L1867.8,1893.2 L1862.4,1896.3 L1858.5,1898.3 L1857,1902.4 L1853,1903.9 L1850.5,1906.9 L1847.8,1911.7 L1845.2,1917.5 L1840.1,1920.9 L1835.7,1924.9 L1832.4,1928.6 L1826.5,1931.2 L1824.7,1935.2 L1823.1,1937.8 L1818.9,1938.7 L1815.1,1937.8 L1809,1937.3 L1804.7,1940.9 L1799.3,1939.9 L1795.8,1941.7 L1789.3,1942.4 L1785.4,1942.8 L1781,1943.6 L1778.1,1944.6 L1773.9,1945.5 L1767.3,1943.2 L1761.6,1944 L1755.1,1943.2 L1751.3,1941 L1746.2,1939.4 L1741.1,1936.8 L1738.8,1934.4 L1736.9,1930.1 L1734.2,1926.6 L1731.1,1925.4 L1727.7,1920.9 L1724.3,1915.3 L1718.5,1911.7 L1718.5,1905.5 L1718.9,1900.7 L1719.7,1896.4 L1721.5,1890.1 L1720.3,1885.1 L1722.5,1881.3 L1725.4,1878.1 L1727.7,1874.7 L1728.1,1871.5 L1729.6,1867.5 L1730.6,1862.7 L1730.8,1859.3 L1730.7,1854.2 L1730.5,1849.2 L1731.9,1845.3 L1730.8,1840.9 L1730.9,1835.4 L1732.5,1829.7 L1733.5,1826.1 L1735.4,1822.4 L1738.4,1818.9 L1738.6,1815.4 L1743.1,1810.1 L1745.9,1807 L1747.4,1802.4 L1746.2,1796.2 L1741.3,1797 L1737.1,1799.3 L1731.7,1801.8 L1728.5,1803.7 L1724.8,1805.5 L1721.8,1804 L1718.7,1801.7 L1714,1797.8 L1710.7,1795.5 L1710.1,1790.7 L1710,1787.4 L1707.9,1783.9 L1706.4,1779.8 L1705,1776.3 L1704.1,1772.5 L1703.3,1768.6 L1700.6,1766.5 L1700.3,1761.9 L1698.4,1758.7 L1698.6,1753.2 L1696.8,1749 L1694.3,1745.2 L1690.6,1744.7 L1687.9,1740.9 L1684.3,1737.7 L1681.6,1735.1 L1677.8,1734.5 L1675.5,1731.6 L1672.6,1728.5 L1669.1,1725.9 L1666.9,1723.6 L1666.3,1719.3 L1663.2,1717.9 L1660.8,1714.7 L1658.9,1710.4 L1655.5,1708.5 L1650.7,1708.7 L1647.8,1711.6 L1647,1716.8 L1641.7,1720.8 L1637.1,1722.1 L1633.6,1725.7 L1627.5,1725 L1623.2,1728.5 L1617.2,1731.7 L1614,1736.2 L1610.7,1733.7 L1606.3,1734.2 L1601.7,1730.1 L1597.1,1728.1 L1592.4,1729.6 L1586.3,1731.6 L1582.8,1733.6 L1577.9,1732.7 L1574.6,1733.9 L1570.9,1733.2 L1567.6,1733.7 L1564.4,1737.3 L1558.6,1736.2 L1552.6,1734.3 L1549.9,1731.9 L1546.3,1730.1 L1542,1727 L1538.6,1722.4 L1540.6,1717.6 L1539.8,1714.3 L1540.1,1710.1 L1541.9,1705.7 L1544.7,1701.5 L1546.4,1698.1 L1546.3,1694.7 L1545.5,1690.7 L1547.3,1687.3 L1544.8,1683 L1544.7,1679.3 L1547.7,1676.5 L1547.8,1671.6 L1550.7,1665.9 L1554.8,1662.3 L1555.5,1657.7 L1557.7,1654.5 L1559.4,1651 L1563.2,1645.4 L1568.9,1641.4 L1570.9,1636.2 L1569.4,1631.6 L1567.8,1625.4 L1565.1,1622.5 L1561.5,1619.9 L1559.3,1615.6 L1558.6,1611.6 L1558.5,1608.1 L1555,1604.9 L1552.8,1600.6 L1552.4,1596.2 L1549.5,1592.9 L1547.7,1587.7 L1546.8,1584.4 L1546.3,1580.8 L1541.3,1578.9 L1538.6,1574.6 L1541.5,1572.1 L1541.7,1567.3 L1546.3,1562.3 L1547,1558.4 L1549,1555 L1552.4,1550 L1549.2,1545.8 L1547.9,1540.1 L1546.6,1536.7 L1547.2,1533.1 L1543.3,1531.3 L1541.7,1527.8 L1540.6,1521 L1537.7,1517.9 L1535.6,1512.4 L1538.1,1510 L1542.1,1508.9 L1546.6,1508.2 L1552.5,1509.3 L1556.3,1505.1 L1561.7,1501.6 L1568,1500.5 L1571,1497 L1575.1,1496.8 L1578.7,1492.4 L1575.5,1487.3 L1575.6,1481.6 L1579,1479.3 L1580.5,1474.1 L1580.2,1467.8 L1582.7,1464 L1582.7,1460.4 L1586.5,1457.5 L1589.4,1453.9 L1587.1,1449 L1587,1445.2 L1586.4,1441.6 L1590,1436.9 L1592,1434.1 L1592.5,1429.3 L1598.8,1426.4 L1602.6,1424.1 L1604.8,1421.6 L1607.9,1419.1 L1610,1415.5 L1612.5,1409.3 L1608.3,1406.2 L1607.5,1402.2 L1605,1399.2 L1604.8,1395.4 L1602.6,1388.9 L1600.6,1385.2 L1597.1,1383.1 L1594.5,1377.5 L1595.6,1370.8 L1593,1365.5 L1588.9,1362.8 L1586.4,1360 L1586,1353.9 L1589.4,1349.3 L1586.8,1346.3 L1582.5,1345.3 L1580.2,1340 L1577.7,1333.9 L1578.7,1327.7 L1578,1320.8 L1574.1,1315.4 L1574.5,1312.1 L1574.8,1308 L1575.5,1303.6 L1578.7,1300Z"/></clipPath>
</defs>
<g clip-path="url(#globe)">
<path d="M1508.6,915.4 L1514.5,912.8 L1519.4,913.9 L1521.7,910.8 L1522.5,906.2 L1528.5,906.9 L1534.8,907.7 L1536.3,913.9 L1539.9,913.9 L1543.8,917.2 L1550.2,918.5 L1547.3,922.5 L1547.1,927.7 L1552.7,925.8 L1556.2,922.5 L1559.4,920 L1562.5,919.3 L1565.1,915.7 L1570.2,914.8 L1574.8,915.4 L1578.9,912.6 L1583.2,913 L1587.1,915.4 L1591.5,915 L1595.9,915.1 L1600.8,916.1 L1605.6,920 L1609.6,919.8 L1615.2,921.7 L1619.1,925.3 L1624.1,926.2 L1628.2,929.1 L1632,928.3 L1637.1,927 L1642.5,929.3 L1645.7,932.6 L1650.5,932.9 L1654.3,934.5 L1657.9,933.9 L1661.4,936.3 L1664.7,936.1 L1670.2,940 L1675,944.8 L1679.5,949.3 L1683.8,954 L1683,957.7 L1684.1,961.6 L1683.9,966 L1685,969.6 L1684.2,973.4 L1682.5,977 L1681.2,980.2 L1679.9,983.8 L1677.9,989.3 L1674.8,993.7 L1673.6,998.1 L1670.2,1000.1 L1667,1000.8 L1662.7,1001 L1659.8,1004.1 L1657.9,1006.2 L1654.4,1004.7 L1649.9,1005.6 L1645.5,1006.9 L1642.5,1007.8 L1638,1009.3 L1633.4,1008.9 L1629.3,1007.8 L1624.1,1010.8 L1618.8,1007.8 L1613.8,1008.5 L1609.6,1007.8 L1605.6,1009.3 L1600.3,1010.4 L1596.6,1008.3 L1592.5,1007.8 L1587.1,1007.8 L1583.4,1007.2 L1579.5,1005.4 L1575.4,1004.1 L1571.7,1003.1 L1565,1002.1 L1561.8,1003.6 L1557.9,1002.2 L1563.1,1005.6 L1565.6,1010.8 L1568.3,1014.5 L1571.6,1015.9 L1577.9,1017 L1583.8,1019.5 L1587.1,1023.1 L1592.1,1024.7 L1595.1,1023.1 L1599.4,1024.7 L1604.2,1029.3 L1608.7,1029.6 L1611.7,1032.4 L1614.9,1035.8 L1617.9,1041.6 L1617.7,1046.8 L1614.8,1050.9 L1620.2,1053.9 L1621.6,1057.3 L1624.1,1060.1 L1627.9,1065.8 L1630.2,1072.4 L1634.8,1074.8 L1636.4,1080.1 L1640.5,1080.4 L1645.6,1081.6 L1650.1,1077.3 L1654.8,1077 L1658.9,1081.8 L1661.5,1085.4 L1664.1,1087.8 L1670.6,1085.9 L1675.9,1086.4 L1679.5,1089.3 L1682.5,1084 L1687.2,1081.6 L1686.3,1076.7 L1684.1,1072.4 L1679,1070.6 L1676.4,1067.8 L1671.2,1068.9 L1667.2,1072.4 L1661.5,1070.2 L1657.9,1066.2 L1654.3,1061.7 L1651.8,1057 L1652.5,1051.1 L1654.8,1046.2 L1660.2,1043.2 L1663.9,1045.5 L1667.2,1044.7 L1673,1047.5 L1676.4,1050.9 L1681.5,1048.3 L1685.6,1047.8 L1688.7,1046.9 L1693.3,1047.5 L1696.9,1047.7 L1701,1044.7 L1704.2,1045.3 L1708.5,1045.5 L1713.3,1043.2 L1712.5,1039.1 L1710.3,1035.7 L1705.6,1032.4 L1700.3,1030 L1694.9,1026.2 L1689.8,1023.1 L1687.2,1018.5 L1687.5,1013.8 L1688.7,1007.8 L1688.3,1004.1 L1689.2,1000.5 L1693.3,995.4 L1696.1,993 L1697,987.9 L1701,983.1 L1702.1,978.8 L1700.2,975.8 L1700.7,972 L1702.6,967.7 L1706.5,968.8 L1710.6,966.9 L1716.4,964.7 L1723,966.7 L1728.7,964.7 L1732.7,965.9 L1735.2,968.3 L1739.5,970.8 L1738.2,967.3 L1734.2,965.1 L1734.1,959.8 L1731.8,955.4 L1732.1,949.1 L1728.7,943.1 L1727,939.6 L1723.8,938 L1722.8,933 L1719.5,930.8 L1713.8,929.1 L1710.2,924.6 L1705.9,920.5 L1703.3,916.1 L1704.1,912.3 L1703.2,908.1 L1701,905.6 L1700.2,899.8 L1703.9,894.1 L1707,891.2 L1707.4,887 L1706.3,882.9 L1706.8,879.5 L1708.9,874.9 L1708.3,870.7 L1709.8,867.9 L1710.4,863.6 L1707.6,859.9 L1707,855.3 L1710.1,850.2 L1711.7,845.6 L1709.7,840.4 L1710.5,833.7 L1711.1,827.7 L1714.2,822.4 L1712.3,817.2 L1715.2,814.5 L1715.3,810 L1718,805.3 L1720,800 L1724.5,800.3 L1728.4,802.3 L1731.8,801.8 L1736,802.6 L1740,802.4 L1742.7,799.3 L1747.3,800.3 L1751.5,800.1 L1758,800.9 L1762.2,802 L1764.9,803.8 L1768.6,804.2 L1771.9,805.5 L1776.2,804.6 L1780,803.1 L1785.7,802.5 L1789.6,800.2 L1793.7,801 L1799.9,800.4 L1804.6,800 L1809,799.3 L1813.2,801.2 L1818,804 L1821.8,804.2 L1827.4,805.3 L1833.5,802.9 L1840.5,803.8 L1847.8,800.2 L1853.8,802.8 L1862.1,801.6 L1865.1,803.3 L1869.3,804.1 L1875.5,803 L1879.6,801.9 L1885.1,801.3 L1888.9,801.1 L1893.9,803.1 L1898.3,804.5 L1901.7,802.7 L1908.5,802.6 L1911.7,802.2 L1916.2,803.7 L1919.2,803.7 L1923.5,803.2 L1926.5,801.8 L1931,801.1 L1937.4,801.4 L1943.6,798.2 L1946.9,797.2 L1951.9,798.1 L1955.6,798.7 L1959.3,799 L1965.4,800.5 L1969.6,798.4 L1974.9,797.6 L1979.5,798.7 L1985.5,797.3 L1989.9,796.3 L1998.3,795.7 L2004.6,798.5 L2011.1,799.3 L2016.4,801.2 L2021.1,802.3 L2025.5,801.5 L2032.6,804.6 L2039.8,802.9 L2044.1,800.4 L2050.1,800.7 L2054.5,800.8 L2058.7,802 L2062.6,800.5 L2066,801.3 L2073.5,800.9 L2079.4,797.6 L2085,797.4 L2088.8,799 L2093.2,801.3 L2097.4,802.1 L2104.4,801.9 L2110.5,803.8 L2116.7,800.7 L2121,801.7 L2125.4,800.3 L2130.1,799.1 L2135.1,801.3 L2140.9,800.2 L2145.6,801.4 L2150.1,799.3 L2157,797 L2165.2,797.8 L2172.6,797.2 L2176.7,796.5 L2180.4,797.3 L2184.5,797.7 L2187.6,799.5 L2192.9,802.2 L2198.4,800.4 L2203.1,799.2 L2206.6,798.4 L2213.1,795.4 L2219,796.6 L2224.6,798.1 L2228.6,798.8 L2236.6,798.2 L2244,801.2 L2248.9,801.3 L2254.6,800.6 L2258.8,800.4 L2263.2,800.7 L2269.3,799.5 L2276,800.3 L2282.8,801 L2288.9,801.6 L2293.7,800.3 L2300,800 L2299.5,805 L2296.8,810.9 L2296.4,814.7 L2296.8,818.5 L2297.5,822.4 L2297.5,826.7 L2297.6,833.6 L2296.9,838.8 L2296,845.4 L2295.1,850.9 L2295.8,856.2 L2297.5,860.7 L2296.9,865.3 L2297.4,869.5 L2296.4,875 L2298.8,878.9 L2297.8,884.8 L2298.7,889.1 L2297.7,894.4 L2296.8,901.4 L2296.6,905.7 L2295.8,911.8 L2297.1,917.5 L2298.2,922.2 L2298.1,928.9 L2299.1,934.6 L2299.9,938.5 L2298.9,943.1 L2299.4,947.5 L2301.3,951.5 L2301,957 L2302.2,961.1 L2301.2,964.7 L2301.6,971.1 L2302.1,975.8 L2301,979.9 L2302.5,986.7 L2304.1,993.3 L2302.4,998.5 L2299.4,1003.1 L2299.7,1009.4 L2300.4,1015.2 L2302.6,1021.7 L2301.6,1026.7 L2300.4,1030.7 L2299.8,1033.8 L2300,1037.9 L2299.6,1042.8 L2302.8,1046.7 L2301.3,1052.9 L2300.9,1056.2 L2300.6,1060.7 L2303.5,1066.7 L2302.6,1072.4 L2304.1,1076 L2303.3,1081.5 L2303.4,1088.7 L2304.3,1094 L2303.7,1099.5 L2304.8,1103.6 L2300.9,1110.3 L2301.9,1117.3 L2305.4,1124.6 L2304.8,1133.2 L2304.3,1139.8 L2303.7,1147.1 L2303,1152.3 L2305.3,1157.2 L2304.1,1162.7 L2303.6,1169.8 L2300.6,1174.5 L2300.3,1178.7 L2302,1184.9 L2302,1191.9 L2302,1197.3 L2301.4,1201.2 L2301.7,1207.9 L2301.4,1212.3 L2299,1215.3 L2301.9,1220.5 L2300.4,1226.7 L2300.2,1234.1 L2303.1,1238.8 L2305,1244.3 L2301.9,1251.6 L2302.5,1257.4 L2304,1261.9 L2302.4,1265.7 L2301.9,1270.3 L2302,1277 L2302.7,1282.6 L2300.2,1286 L2299.6,1291.3 L2299.7,1297.3 L2299.4,1300.3 L2299,1304.5 L2299.3,1311.4 L2299.1,1318.5 L2300.9,1324.1 L2300.1,1330.4 L2301.5,1335.4 L2303.5,1341.5 L2302.2,1346.1 L2300.1,1349.8 L2300.4,1353.2 L2300.6,1358.8 L2299.9,1362.6 L2303.1,1366.8 L2302.6,1371.9 L2302.7,1378 L2301.8,1383.1 L2299.1,1388.9 L2300,1398 L2295.9,1398.9 L2292.8,1397.6 L2288,1397.7 L2284.8,1399.7 L2280.6,1400.3 L2276.6,1399.1 L2272.6,1398.5 L2268.4,1396.5 L2263,1395.4 L2257.4,1395.8 L2253.3,1393.3 L2249.1,1393.4 L2245.1,1394.7 L2242.2,1395.9 L2238.1,1396.9 L2233.8,1395.2 L2229.7,1396.3 L2224.2,1398.1 L2217.6,1399.4 L2213.3,1399.6 L2210,1398.7 L2205.4,1400.6 L2201.7,1399.9 L2198.1,1401 L2193.7,1401 L2188.6,1399.9 L2185.3,1401.8 L2179.3,1402.1 L2174.2,1399 L2169.9,1399.1 L2165.1,1398 L2161.1,1399.1 L2155.2,1399.7 L2148.9,1397 L2144.9,1395.3 L2141.2,1396.6 L2135.3,1395 L2130.2,1398 L2125.3,1399.9 L2118.7,1398.5 L2115.1,1400.4 L2112.5,1403.2 L2111.9,1408.4 L2115.6,1413.9 L2116.1,1417.2 L2113.5,1420.8 L2111,1426.2 L2107.9,1430.9 L2111.2,1435.9 L2114.2,1437.7 L2115.6,1441.6 L2121.8,1444.7 L2119.7,1449.2 L2118.7,1454 L2114.1,1458.6 L2107.9,1457 L2103.6,1455.9 L2100.2,1450.9 L2094.1,1447.5 L2087.9,1447.8 L2089.8,1451.1 L2088.7,1455 L2086.4,1460.1 L2089.4,1466.3 L2086.2,1469.9 L2085.7,1474 L2088.9,1479.9 L2089.4,1484.8 L2090.8,1490.2 L2092.5,1494 L2098.7,1495.5 L2098.1,1499.5 L2100.2,1503.2 L2098.7,1509.4 L2097.2,1514.9 L2099.4,1519 L2099.9,1524.2 L2101.8,1527.9 L2106,1527.7 L2109.2,1529.3 L2113.7,1528.3 L2117.2,1525.4 L2119.5,1529.5 L2121.8,1534 L2123.3,1538.2 L2126.4,1540.2 L2131.9,1540.2 L2131.9,1536.5 L2138.7,1535.6 L2141.2,1533.9 L2144.3,1530.9 L2148.9,1530.3 L2155.3,1528.6 L2158.9,1531.2 L2162.6,1531 L2168,1532.1 L2173.2,1532.6 L2178.3,1531.1 L2183.1,1529.5 L2188.9,1529 L2195.6,1530.6 L2201.3,1531.7 L2206.7,1532.6 L2211.9,1531.1 L2216.5,1532.5 L2223.2,1532 L2229.4,1534.1 L2234.9,1532.1 L2239.6,1534.1 L2243.1,1533 L2249,1534 L2253.7,1535 L2260,1533.5 L2265.3,1533.5 L2272.1,1532.5 L2276.6,1531.5 L2281.5,1531.8 L2285.6,1529.1 L2289.3,1528.5 L2294.1,1529.6 L2300,1530 L2297.8,1536.2 L2297.7,1542.8 L2298.1,1546.2 L2295.6,1550 L2298.3,1555.9 L2299.7,1561.8 L2297.5,1565.5 L2296,1568.1 L2295.6,1571.8 L2297.9,1576.2 L2297.9,1580.4 L2298.5,1583.2 L2296.2,1588.8 L2297.3,1592.5 L2298.8,1596.3 L2297.7,1600.1 L2297.7,1605.4 L2298.4,1611 L2298.8,1615.3 L2296.2,1621.7 L2297.4,1627.1 L2295.9,1632.9 L2296,1636.4 L2298.8,1640.2 L2299.9,1644.1 L2299,1647.9 L2298.1,1653.4 L2295.6,1659.5 L2297.1,1663.6 L2298.2,1666.6 L2297.7,1670.9 L2297.6,1676.3 L2294.8,1679.9 L2295,1683.2 L2297.6,1689.2 L2298.4,1694.6 L2298.7,1699 L2296.7,1703 L2297.4,1708.5 L2299.3,1712.5 L2298.9,1716.8 L2299,1723.6 L2300,1728.2 L2301.2,1732.4 L2299.8,1736.9 L2300.7,1741.3 L2300,1745 L2295,1745.4 L2290.5,1747.4 L2286.9,1748.3 L2283.2,1746.3 L2278.7,1744.5 L2275.1,1745.1 L2271.5,1746.1 L2267.7,1745.9 L2261.5,1748.1 L2257.2,1748.8 L2253.7,1746.6 L2249.5,1745.1 L2244,1745 L2239.3,1746.5 L2234.7,1745.5 L2231.3,1747.8 L2226.3,1747.2 L2221.6,1746.4 L2218.5,1746.9 L2213.5,1746.2 L2210.3,1746.4 L2206.1,1745.4 L2199.6,1745 L2195,1742.5 L2190.9,1745 L2185.5,1744.4 L2182,1744.2 L2177.7,1741.9 L2171.6,1744.2 L2167.1,1745 L2160.7,1743.6 L2157,1742.8 L2152.6,1743.4 L2149,1747.6 L2144.9,1752.6 L2139.6,1753 L2135.6,1757.3 L2132.6,1752 L2127.8,1750.3 L2123.3,1751.1 L2118.3,1750.5 L2114.1,1752.6 L2108.6,1749.3 L2101.8,1749.6 L2096.7,1750.1 L2092.5,1752 L2088.5,1753.8 L2084.8,1755.7 L2079.5,1758.1 L2074,1761 L2067.5,1758.9 L2061.7,1761 L2055.4,1761.1 L2051.4,1761.4 L2046.3,1761.9 L2042.9,1762.7 L2038.9,1764.1 L2034.8,1764.6 L2030.9,1763.4 L2030.7,1768.3 L2030.3,1773.6 L2026.4,1772.7 L2022.5,1772.9 L2018.6,1770 L2015.5,1768 L2010.9,1767.2 L2007.8,1762.8 L2004.7,1761.1 L2000.1,1760.3 L1998.1,1757.5 L1994.2,1756.3 L1988.9,1754.5 L1984.8,1755.7 L1980.8,1757.3 L1977.6,1756.6 L1972.4,1755.7 L1966.2,1754 L1960.1,1751.1 L1955.8,1754.3 L1950.9,1754.2 L1946,1750.9 L1943.2,1746.5 L1938.6,1747.1 L1936,1744.9 L1929.3,1746.5 L1931.5,1740 L1929.3,1734.2 L1935.5,1732.8 L1941.6,1732.6 L1945.4,1731.4 L1947.8,1728 L1946.5,1722.7 L1943.2,1718.8 L1943.2,1715 L1943.7,1711.5 L1944.7,1706.5 L1945.1,1701 L1949.3,1697.2 L1954.8,1694.2 L1960.1,1695.7 L1955.3,1695.8 L1950.9,1691.1 L1946,1692.3 L1940.1,1689.5 L1937.2,1685.8 L1933.9,1681.8 L1937.9,1677.4 L1941.6,1675.7 L1946.8,1676.5 L1950.9,1674.1 L1949.1,1670 L1946.3,1668 L1949.8,1662.8 L1954,1660.3 L1958,1656.1 L1963.2,1654.1 L1961.7,1647.9 L1957,1647.3 L1952.4,1649.5 L1948.8,1652.7 L1943.2,1655.6 L1939.4,1658.1 L1936.1,1658.9 L1932.4,1663.3 L1928.1,1664.2 L1926.2,1667.3 L1920.1,1669.5 L1919.2,1672.7 L1917.4,1676.3 L1913.7,1677.3 L1910.9,1680.3 L1905.3,1684.4 L1901.6,1689.5 L1897.1,1692.6 L1893.1,1694.8 L1890.8,1697.2 L1889.1,1700.1 L1887.1,1703.3 L1881.6,1706.5 L1879.8,1711.6 L1876.1,1713.2 L1873.9,1718.8 L1870,1724.4 L1866.2,1728 L1867.5,1733 L1866.2,1737.2 L1870.3,1737.3 L1873.9,1740.3 L1877,1744.3 L1881.6,1744.9 L1883.1,1749.6 L1889.6,1749.5 L1895.5,1746.5 L1900,1743.3 L1904.7,1740.3 L1908.2,1740.9 L1911.1,1743.4 L1917,1743.4 L1919.2,1747.4 L1921.6,1751.1 L1918.5,1755.7 L1912.4,1753.7 L1907.8,1755.7 L1903.9,1758.6 L1898.5,1758.8 L1897.8,1764.7 L1896.7,1768.5 L1892.4,1771.1 L1885.5,1771.4 L1880.1,1774.2 L1876.5,1779.3 L1876.9,1783.7 L1875.4,1786.5 L1871.4,1791.3 L1870.8,1795.7 L1866.7,1798.4 L1861.6,1797.3 L1856.8,1794.2 L1852.3,1792.7 L1855.2,1786.7 L1853.9,1780.4 L1850.4,1777.7 L1846.2,1772.7 L1841.8,1769.7 L1837.2,1770.2 L1830.8,1771.1 L1826.8,1772.5 L1821.6,1772.7 L1820,1769.6 L1824.7,1767.9 L1827.5,1762.3 L1829.4,1759.1 L1830.8,1755.7 L1835.6,1753.5 L1837.4,1749.4 L1840.9,1747.5 L1843.1,1744.9 L1841.3,1740.7 L1838.5,1737.2 L1835.3,1740.5 L1831.2,1741.1 L1824.6,1741.9 L1818.5,1744.8 L1812.3,1746.5 L1817,1743.9 L1810.8,1743.9 L1804.7,1745.4 L1799.7,1741.6 L1795.5,1743.6 L1792.3,1742.3 L1787.7,1741 L1783.1,1737.7 L1777.6,1739.7 L1772.3,1740.8 L1767.3,1743.7 L1766.2,1748.5 L1765.7,1752.6 L1764.8,1756.6 L1763.7,1759.9 L1761.6,1763.9 L1758.3,1768.6 L1753.9,1773.1 L1753.4,1778.7 L1750.8,1782.4 L1749.5,1788.6 L1747.4,1792.8 L1746.2,1796.2 L1741.2,1798.9 L1734.4,1798.2 L1728.8,1801.1 L1725.8,1802 L1721.6,1802.9 L1717.4,1807.3 L1712.7,1808.7 L1707.2,1809.8 L1703.2,1811.1 L1700.2,1811.7 L1698.5,1809.1 L1694.7,1807 L1691.2,1803.5 L1686.1,1801.6 L1680.6,1799 L1677.8,1793.7 L1672.8,1792.7 L1669,1787.8 L1664,1784.6 L1660.9,1781.3 L1654.7,1778.1 L1649.5,1775.8 L1645.1,1772.4 L1640.2,1769.7 L1638.6,1765.5 L1634.6,1764.3 L1629.6,1765.1 L1625.1,1767.1 L1621.4,1765.7 L1617.4,1764.2 L1613.8,1765.7 L1608.1,1764 L1603.9,1764.5 L1600,1763 L1594.3,1764.8 L1590,1763.3 L1585.8,1761.8 L1583,1760 L1577,1759.3 L1572.5,1760.6 L1567.2,1758.6 L1563.8,1756.9 L1560.8,1755.3 L1556.6,1755.7 L1553.1,1754.4 L1546.9,1751.5 L1542.2,1749.3 L1538.1,1746.3 L1533.9,1747 L1530.2,1742.1 L1530,1736.3 L1530.1,1732.7 L1530.7,1727.5 L1531.4,1723.9 L1529.1,1719.7 L1527.6,1714.3 L1528.5,1710.1 L1527.8,1703.9 L1527.7,1700.3 L1527.3,1695.8 L1528.4,1691.3 L1530,1688.3 L1528.9,1683.1 L1531,1679.8 L1527.4,1673.8 L1528,1670 L1525.7,1666.1 L1524.5,1660.7 L1527.4,1656 L1528.7,1651.2 L1530.2,1648.3 L1527.8,1642.3 L1530.8,1638.7 L1530.6,1634.2 L1531.5,1629.7 L1529.3,1625.6 L1528.4,1621.6 L1528.9,1616.1 L1529.5,1611.1 L1529.3,1607.3 L1529.2,1602.2 L1529.7,1598.7 L1527.3,1592.2 L1529,1586.4 L1527.8,1580.8 L1524.7,1577.3 L1522.4,1572.6 L1522.7,1568.8 L1522.6,1565.3 L1523,1561 L1522.6,1557.7 L1521.9,1553.9 L1521.6,1550 L1521.8,1546.1 L1524.5,1542.6 L1523.2,1535.8 L1524.8,1530.9 L1528,1528.6 L1529.3,1525.2 L1529.7,1520.2 L1530.4,1514.8 L1534,1512.7 L1536.3,1510.4 L1539,1507.3 L1541.9,1502.3 L1543.6,1497 L1546.8,1494.4 L1549.6,1489.5 L1552.4,1486.3 L1555.6,1484.7 L1556.8,1479 L1555.1,1475.2 L1555.2,1470.4 L1551.8,1464.6 L1552.9,1459.2 L1551.3,1456.2 L1550,1452.6 L1551.1,1449.1 L1550.3,1444 L1551.2,1437.7 L1551,1432.2 L1552.8,1428.5 L1551.1,1423.7 L1548,1420.9 L1547.2,1415.6 L1546.2,1411.3 L1547.3,1405.7 L1545.1,1401.3 L1544.5,1397.9 L1546.4,1392.3 L1550.7,1389.3 L1550.5,1385.5 L1551.7,1382.1 L1549.4,1376.8 L1550.6,1372.4 L1551,1368 L1554.3,1365.3 L1554.4,1361.2 L1555.2,1357.6 L1554.5,1353.8 L1556.2,1349.2 L1559.4,1345.9 L1559.7,1341 L1560.4,1336.9 L1561.7,1330.8 L1564.9,1327.7 L1565.1,1323 L1566.6,1319.7 L1567,1315.7 L1570.2,1310.5 L1571.2,1305.7 L1577.4,1302.8 L1579.4,1297.7 L1578,1294.2 L1576.3,1291 L1577.8,1286.4 L1579.4,1281.7 L1583.9,1279.2 L1587.1,1275.6 L1592.4,1274.8 L1596.4,1270.9 L1601.4,1270.7 L1605.9,1269.1 L1610.1,1268.6 L1613.3,1267.9 L1608.4,1267.3 L1604.4,1265.3 L1598.5,1266.5 L1593.3,1263.3 L1588.3,1259.9 L1584.4,1260.3 L1581,1260.2 L1576.3,1255.6 L1573,1253.5 L1570.3,1251.3 L1566.1,1249.8 L1563.1,1247.7 L1559.4,1247.3 L1555.4,1248.6 L1550.2,1244.8 L1550.8,1240.3 L1555.2,1236.4 L1558.8,1230.5 L1557.4,1224.4 L1559.7,1219.6 L1558.1,1214.9 L1559.8,1210.3 L1562.3,1207.9 L1565.3,1204.3 L1568.1,1200 L1568.8,1195.2 L1571.4,1190.8 L1575.2,1186.9 L1574.8,1182.4 L1576.2,1179.5 L1579.3,1173.6 L1581,1167.8 L1575.8,1163.4 L1574.7,1158.8 L1571.5,1155.3 L1571.8,1151.2 L1567.7,1146.7 L1564.6,1141.3 L1560.9,1138.4 L1558.2,1134.8 L1556.3,1131 L1555.8,1127.2 L1553.4,1124.5 L1550.2,1121.7 L1546.6,1117.9 L1544,1115.1 L1543.5,1110 L1541.5,1106.4 L1541,1102.1 L1541.6,1096.8 L1537.2,1092.5 L1536.4,1086.6 L1533.3,1082.4 L1532.4,1078.2 L1534.2,1075.1 L1533.1,1071.7 L1529.2,1068.7 L1525.5,1064.7 L1522.4,1062.3 L1521.9,1057.5 L1519.2,1051.9 L1519.5,1048.7 L1519.4,1044.7 L1518.8,1039.9 L1517.6,1035 L1513.8,1030.5 L1511.3,1024.7 L1508.8,1018.4 L1505.7,1013.9 L1503.5,1007.4 L1505.3,1003.7 L1504,998.5 L1501.2,996.5 L1499.2,993.3 L1498,988.5 L1496.1,983.8 L1494.8,980.7 L1495.9,976.7 L1493,971.3 L1492.9,965.7 L1489.7,962.6 L1485.2,958.7 L1482.5,952.3 L1481.9,947.1 L1482.1,943.8 L1484.2,940.1 L1485.6,933.7 L1488.6,927.7 L1494.8,926.9 L1499.2,925.4 L1502.8,922.4 L1507.1,920Z" fill="#d9d9d9" />
<path d="M715.4,2225.5 L718.1,2222.9 L723.1,2222.9 L726.2,2217.8 L730.1,2215.3 L733.5,2211.3 L735.7,2207.6 L737,2203.9 L739.5,2200 L742.7,2196.1 L746.3,2194.2 L747.6,2190.3 L749.3,2185.4 L749.4,2181.7 L753.2,2178.3 L755.5,2174.4 L758.5,2170.1 L760.8,2165.9 L763.1,2163.3 L766.6,2162.3 L771.8,2163.4 L775.3,2162.7 L780.1,2163.3 L781,2168.3 L781.6,2171.6 L783.5,2176.8 L784.9,2180.6 L787.7,2182.4 L789,2186.2 L791.2,2188.5 L795.4,2191.6 L798.4,2193.6 L803,2192.7 L807.8,2194.7 L814.5,2196 L820.1,2194.7 L826.4,2196.8 L832.4,2199.3 L837.5,2197.8 L841.4,2196.6 L847.8,2194.7 L850.1,2198.9 L850.9,2202.4 L856.2,2206.6 L863.2,2207 L867.4,2209 L872.1,2209.2 L878.6,2210.1 L881.8,2209.2 L885.3,2206.6 L889.4,2207.6 L893.9,2205.5 L899.7,2202.7 L902.9,2199.9 L903.2,2196.2 L909.4,2193.9 L915.5,2191.6 L922.1,2190.8 L927.8,2188.5 L932.8,2189 L938.6,2191.6 L940.8,2189.6 L943.2,2186.2 L946.3,2182.4 L950.6,2183.2 L955.3,2180.6 L958.4,2179.5 L961.7,2176.2 L967.6,2174.9 L970.9,2172.2 L974,2171.6 L978.6,2171.8 L983.2,2168.8 L988.7,2168.4 L992.5,2170.1 L996.5,2168.6 L1000.9,2170.5 L1004.7,2170.1 L1007.8,2171.6 L1011.3,2168.9 L1015.1,2169.4 L1020.2,2171.6 L1024.9,2167.2 L1028.2,2168.2 L1032.5,2167 L1039.3,2166.2 L1044.8,2168.5 L1049.7,2166.7 L1053.1,2167.7 L1057.1,2165.4 L1061.2,2164.7 L1064.5,2163.5 L1068.7,2163.5 L1072.5,2166.4 L1077,2166.6 L1080.4,2165 L1083.9,2168.3 L1087.9,2168.5 L1092.1,2172.5 L1097.1,2173.1 L1099.9,2174.7 L1103.3,2176.8 L1109.2,2175.9 L1115.6,2173.1 L1121.1,2169.6 L1127.9,2170.1 L1132.9,2168.7 L1137.1,2163.3 L1141.4,2166.1 L1146.4,2168.5 L1151.7,2167.7 L1155.1,2168.5 L1158.7,2166.4 L1164.6,2168 L1171,2168.5 L1176.7,2168.9 L1180.2,2173.1 L1186.2,2170 L1190.3,2168.1 L1195.6,2170.1 L1200.2,2167.9 L1203.3,2166.4 L1207.8,2168.2 L1211,2167 L1214.8,2163.2 L1220.2,2161.4 L1226.3,2158.2 L1232.6,2157.7 L1236.9,2157.8 L1240.3,2157.1 L1244.5,2161.7 L1247.9,2163.4 L1251,2165.4 L1254,2169.4 L1252.6,2176.2 L1256.9,2173.8 L1263.3,2171.6 L1269.4,2169.9 L1271.4,2166.8 L1275.7,2165.4 L1276.8,2169.5 L1275.7,2174.7 L1272.6,2179.9 L1269.5,2185.4 L1265.3,2190.2 L1260.3,2193.1 L1260.7,2199.6 L1258.7,2203.9 L1259.3,2209.9 L1263.3,2213.1 L1269.7,2215.6 L1275.7,2218.7 L1275.9,2225.3 L1276.9,2230 L1277.2,2234.7 L1276.1,2240.6 L1272.8,2243 L1271,2247 L1267.8,2249.5 L1264.7,2253.2 L1260.3,2257.8 L1256.5,2260.7 L1252.3,2260.1 L1250.8,2264.3 L1246.4,2267 L1244,2272.5 L1244.9,2277.8 L1248,2279.9 L1250.8,2282.5 L1252.7,2286.2 L1252.6,2290.1 L1259.4,2289.4 L1263.7,2291.2 L1266.4,2293.2 L1269.8,2291.5 L1273.4,2291.8 L1278.7,2294.7 L1280,2299.9 L1280.3,2305.5 L1283.5,2305.9 L1286.5,2309 L1291,2308.2 L1294.1,2310.1 L1296.7,2312.1 L1301.1,2313.5 L1306.4,2314.7 L1309.3,2317.3 L1312.9,2318.6 L1318.8,2320.3 L1322.3,2321 L1326.3,2319.6 L1330.2,2320 L1334.1,2320.3 L1338.5,2321.8 L1341.8,2320.3 L1346.5,2316.3 L1352.9,2317.4 L1356.1,2318.9 L1360,2320.9 L1364.5,2322.5 L1368.7,2320.9 L1371.7,2322.2 L1376.2,2321.6 L1382.1,2324.7 L1385.4,2327.8 L1390.4,2325.4 L1394.3,2327.9 L1397.6,2327.5 L1402.7,2329.7 L1406.1,2329.6 L1410.1,2330.9 L1411.9,2336.2 L1414.7,2340.1 L1415.8,2346.3 L1416.2,2352.4 L1421.1,2356.9 L1422.4,2363.2 L1426.3,2368.4 L1431.6,2369.3 L1435.3,2369.5 L1439.6,2368 L1442.7,2370.7 L1447,2370.9 L1451.7,2373.4 L1455.9,2372 L1460,2371.8 L1465.5,2370.9 L1469.8,2371.8 L1473,2371.9 L1478.8,2371.4 L1483.9,2374 L1488.1,2375.9 L1491.3,2376.1 L1495,2378.1 L1499.3,2378.6 L1504.2,2383 L1508.2,2383.9 L1511.7,2383.2 L1516.2,2387.8 L1520.9,2389.4 L1524.8,2390.3 L1528,2391.7 L1533.2,2396.1 L1539.7,2398.6 L1545.5,2396.1 L1549.5,2390.6 L1556.3,2389.4 L1559.6,2387.1 L1561.6,2384.7 L1564,2380.1 L1564.8,2373.7 L1568.6,2370.9 L1571,2367.2 L1571.7,2363.2 L1568.9,2359.5 L1569,2355.7 L1564,2352.4 L1564,2346.6 L1563.1,2342.9 L1560.9,2340.1 L1559.4,2334 L1560.9,2329.3 L1561.6,2323 L1565.5,2318.6 L1568.7,2314.2 L1573.2,2309.3 L1577.3,2305.8 L1581,2305.1 L1583.1,2301.6 L1588.6,2300.1 L1592.6,2299.6 L1595.6,2298.3 L1600.9,2297 L1605.8,2293.3 L1610.2,2290.2 L1614.1,2289.4 L1619.9,2288.3 L1626.3,2285.8 L1631.7,2287.8 L1636.7,2289.5 L1642.3,2288.7 L1646.4,2291.4 L1650.2,2292.4 L1653.2,2294.3 L1657.9,2293.9 L1660.2,2298.8 L1659.4,2304.7 L1663.2,2303.6 L1666.5,2305.5 L1670.1,2307.9 L1674.8,2306.9 L1679,2307.9 L1682.1,2309 L1686.5,2309.3 L1690.2,2310.9 L1695.2,2311.9 L1701.1,2308.4 L1706.3,2308.9 L1711.7,2306.2 L1716.8,2307.7 L1721,2307.8 L1723.2,2314 L1723.9,2317.2 L1727.1,2320.1 L1733.3,2321 L1738.5,2319.6 L1742.4,2318.3 L1747.9,2317.2 L1751.8,2313.9 L1756,2313.1 L1761.4,2312.5 L1765.2,2310.8 L1768.5,2311.6 L1773.3,2313 L1778.1,2311.7 L1784.9,2312.1 L1790.5,2312 L1793.9,2312 L1797.9,2312.4 L1800.7,2316.2 L1804.1,2317 L1810.6,2315.9 L1816.4,2315.5 L1820.1,2317.8 L1825,2317 L1828.9,2317.9 L1833.7,2316.5 L1838.6,2318.3 L1843.4,2317.4 L1848.6,2317.6 L1852.3,2318.8 L1858.9,2320.8 L1861.7,2324 L1864.8,2324.6 L1870.4,2325.7 L1875.3,2327.8 L1879,2327.5 L1884.3,2328.5 L1890.1,2327.8 L1894.5,2328.3 L1900,2330 L1899.6,2335.1 L1901.9,2338.2 L1901,2342.9 L1902.3,2347.6 L1900.2,2353.1 L1901.4,2359.2 L1903,2362.6 L1902.3,2366.9 L1900.9,2373.6 L1901.3,2379.5 L1900.3,2383 L1897.8,2386 L1899.5,2389.5 L1899.5,2394.2 L1898.7,2398.5 L1898.7,2403.6 L1898.1,2410.1 L1901,2416.3 L1899.6,2420.3 L1898.6,2423.3 L1899.4,2428.8 L1898.8,2433.2 L1895.7,2438.4 L1897.7,2444.6 L1897.8,2451.2 L1897.6,2457.1 L1896.7,2464 L1896,2467 L1895.2,2471.4 L1898.6,2477.4 L1897.8,2482.2 L1898.3,2488.1 L1900,2492.1 L1900.5,2495.6 L1898.3,2499.1 L1900.1,2502.1 L1899.9,2506.6 L1898.3,2509.9 L1897.4,2514.9 L1899.1,2518.4 L1899.1,2522.4 L1896.3,2527.5 L1897.6,2532.2 L1899.9,2538.2 L1898.8,2542.5 L1899.1,2545.9 L1901.4,2549.1 L1901.5,2553.1 L1902.6,2557.8 L1899.9,2563.7 L1902,2567.1 L1903.2,2570.5 L1901,2575.7 L1902,2579.7 L1899.2,2583.7 L1899.9,2589.8 L1901.7,2595.5 L1900,2600 L1890,2598.4 L1883.2,2599.6 L1872.3,2600.6 L1863.2,2598.8 L1853.7,2601.3 L1844.6,2598.8 L1837.6,2601.2 L1828.3,2600.8 L1820.2,2599.3 L1811.9,2599.9 L1804.5,2602.4 L1798.4,2600.2 L1792.3,2599.1 L1783.3,2598.7 L1778.7,2601 L1771.8,2600.5 L1760.9,2599.9 L1748,2598.7 L1738.6,2601.9 L1730.9,2601.7 L1724.6,2598.6 L1718.1,2599.7 L1710.7,2600.2 L1702.7,2599.7 L1696.4,2598.1 L1688.8,2598.5 L1680.4,2596.6 L1669.9,2598.9 L1661.3,2600.2 L1652.7,2600.5 L1645.3,2598.2 L1635.9,2600.3 L1627.3,2601.8 L1618.6,2600.1 L1608.1,2601.3 L1597.5,2599.4 L1587,2600.6 L1577.5,2598.3 L1567.1,2596.3 L1554.1,2597.9 L1543.2,2597.9 L1529.7,2595.7 L1519.9,2594.8 L1508.6,2597.6 L1498.2,2600.5 L1485.7,2600.6 L1477.9,2600.5 L1468.6,2598.4 L1463.1,2597.2 L1455.5,2596.6 L1445.6,2599.3 L1436.1,2598.3 L1427.8,2598.1 L1421.8,2598.7 L1411.7,2597.4 L1401.5,2597.7 L1389.3,2596.2 L1381,2599.2 L1367.9,2599.6 L1357,2597.1 L1348.7,2595.6 L1340.5,2596.3 L1334,2599 L1325.3,2599.3 L1315.3,2600.6 L1302.8,2598.8 L1288.8,2598.1 L1278,2597.9 L1265.5,2598.8 L1247.8,2602.2 L1237.7,2600.8 L1226.6,2601.5 L1215.2,2600.1 L1204.5,2601.6 L1192.7,2600.7 L1182.9,2601.9 L1172.5,2602.7 L1158.5,2603.6 L1141.8,2605 L1122.6,2602.6 L1107.2,2605.6 L1093.6,2604.1 L1081.7,2603.3 L1066,2601.5 L1053.6,2602.4 L1044.9,2602.8 L1036.2,2603.2 L1026.4,2602.1 L1011.3,2603.2 L1000.8,2602.9 L989.6,2600.5 L980.6,2599.8 L972.2,2597 L959.5,2598.8 L947.8,2601.4 L938.6,2602 L928.3,2601.5 L917.3,2600.4 L909,2598.4 L897.8,2599.3 L880.8,2598.5 L868,2602.2 L855.4,2600.4 L840.3,2600.2 L831.1,2598.6 L821.4,2601.1 L815.3,2598.3 L806.5,2599.4 L797.7,2601.3 L786.2,2600.6 L772.7,2604.5 L757.6,2603.5 L748.9,2603.5 L742.7,2602.7 L735.5,2604.3 L728.1,2602 L717.8,2599.6 L708,2602.2 L697.1,2601.9 L685.7,2601.9 L671.7,2602.6 L658.9,2599.9 L647.8,2602.4 L635.1,2601.1 L624.8,2599.6 L616,2603 L608.9,2601.3 L600,2600 L599.7,2593.5 L601.2,2588.7 L602.8,2584.3 L603.7,2580.3 L601.5,2576.1 L601.4,2572.1 L599.9,2565.8 L598.9,2560.1 L598.8,2555.3 L598.2,2550.8 L599.2,2544.1 L599.8,2539.3 L600.5,2532.7 L598.8,2527 L600.5,2523.5 L601.4,2520.1 L600.1,2514.5 L599.5,2510.5 L601.9,2504.5 L600.5,2500.6 L601.4,2497.1 L601.9,2492.8 L602.2,2489.9 L602.9,2486 L601.5,2482.1 L602.3,2475.7 L603.9,2470.3 L604.2,2463.5 L602,2459 L601.5,2453.9 L602.8,2450.5 L601.4,2446.8 L600.4,2441.2 L602.1,2437.1 L601.3,2433.8 L601.7,2429 L603.6,2422.8 L601.2,2416.4 L598.5,2411.2 L597.4,2406.8 L599.7,2402.8 L601.4,2397.2 L602.3,2394.2 L602.7,2390.1 L601,2383.5 L601.6,2378.3 L601.1,2374.2 L600.8,2369.1 L600.1,2365.3 L599.4,2361.6 L599.5,2355.4 L601.7,2351.1 L601.6,2344.9 L600.7,2341.5 L598.9,2337.7 L600.2,2333.7 L601.9,2328.5 L601,2324.2 L600.9,2319.6 L600,2315.5 L602.1,2310.6 L602.6,2307.7 L601.9,2303.5 L599.4,2301.3 L598.1,2297.4 L598.8,2291.5 L596.8,2287.7 L596.2,2283.6 L598.8,2277.8 L599.1,2273.4 L599.8,2267.5 L598.6,2262.9 L601.4,2257.5 L602.8,2250.7 L602.5,2245.5 L603.4,2241.7 L602.3,2238.1 L599.9,2233.5 L600.1,2227.9 L600.3,2223.7 L602.8,2220.6 L600.3,2216.7 L601.4,2211.6 L602.2,2206.4 L600,2200 L605.2,2198.1 L609.3,2198.7 L611.7,2201.2 L616,2203.4 L619.2,2205 L622.9,2207.2 L627.5,2208.8 L633.9,2207.4 L637.3,2206.2 L641.7,2208.4 L645,2210.9 L648.2,2212.2 L652.3,2212.1 L655.1,2214 L660.7,2212 L663.9,2213.6 L668.4,2212.1 L673.9,2216.3 L679,2218.4 L682.4,2221 L685.7,2220.2 L689.4,2221.6 L695.6,2222.9 L699.8,2225.2 L704.3,2224.2 L709.1,2226.1Z" fill="#d9d9d9" />
</g>
<path d="M1579.4,1297.7 L1574,1300.2 L1568.9,1299.5 L1564.5,1298.2 L1559.4,1297.7 L1553.9,1300.3 L1548.3,1298.4 L1543,1298.7 L1537.9,1300.2 L1531.7,1302.6 L1527.4,1304.9 L1523.6,1304.3 L1517.6,1307 L1513.2,1311 L1510.3,1315.5 L1505.7,1318.1 L1502.6,1322.9 L1497.8,1324.8 L1500.2,1324.6 L1498.8,1329.5 L1498.6,1333.9 L1502.5,1335.6 L1506.3,1340 L1508.5,1343.4 L1510.4,1346.2 L1512.5,1352.3 L1516.9,1351.3 L1521.7,1350.8 L1526.3,1355.4 L1523.7,1359.8 L1524.8,1366.2 L1525.8,1370.5 L1527.9,1374.7 L1527.7,1378.8 L1527.9,1383.1 L1526.3,1388.3 L1526.3,1392.3 L1520.9,1396.1 L1518.6,1401.6 L1514,1400.8 L1510.9,1400 L1506.7,1395.3 L1503.3,1390.8 L1500.4,1385.4 L1495.6,1383.1 L1489.4,1381.6 L1484.6,1385.4 L1480.2,1387.7 L1476.4,1390.1 L1474,1392.3 L1471.8,1398.4 L1470.9,1404.7 L1468.9,1409.2 L1467,1412 L1465.8,1415.7 L1467.9,1420.1 L1467.5,1424.6 L1470.1,1428.8 L1467.9,1435.4 L1467.6,1439.5 L1470.8,1443.4 L1471,1447.3 L1470.9,1450.8 L1473.8,1456.4 L1474,1463.1 L1476.7,1466.4 L1477.1,1470.8 L1482.2,1471.5 L1484.8,1472.9 L1487.9,1475.5 L1493.7,1474.9 L1496.8,1476.3 L1500.2,1478.5 L1504.8,1478.7 L1509.4,1477 L1513.6,1479.5 L1517.1,1484.7 L1519.1,1488.6 L1519,1493 L1517.8,1497 L1518.6,1500.1 L1518.6,1506.2 L1513.8,1506.4 L1508.2,1508.2 L1504.9,1510.1 L1500.2,1509.3 L1496.2,1506.7 L1491.4,1507.4 L1485.4,1509 L1482.2,1511.8 L1478.5,1512.8 L1473.3,1511.4 L1469.4,1511.8 L1466.3,1510.3 L1462.2,1510.9 L1458.1,1510.3 L1454.8,1511.4 L1450.4,1510.5 L1444.8,1513 L1438.7,1515.6 L1434,1514.9 L1429.3,1513.4 L1426.3,1509.3 L1425.9,1505.4 L1424.8,1501.6 L1420.5,1499.4 L1417.1,1500.1 L1411.3,1502.2 L1407.2,1501.2 L1403.2,1503.2 L1397.9,1507.6 L1394.2,1511.2 L1389.4,1510.9 L1385.5,1512.6 L1383.7,1516.5 L1380.2,1516.7 L1377,1520.1 L1373.3,1519.8 L1369.5,1523.2 L1364.7,1527.8 L1360.7,1529 L1356.8,1530.9 L1352.8,1533.4 L1349.3,1533.9 L1345.1,1533.2 L1341.8,1535.5 L1337,1540.1 L1337.6,1544.5 L1335.5,1547.8 L1331.3,1546.3 L1329.3,1543.2 L1326.5,1538.6 L1321.6,1533.9 L1318.4,1532.9 L1315.5,1529.3 L1317.8,1523 L1321.6,1520.1 L1317.5,1518.2 L1315.5,1515.5 L1313.3,1518.6 L1309.3,1520.1 L1310.9,1523.7 L1312.4,1527.8 L1308.6,1525.2 L1303.2,1526.3 L1297.8,1529.1 L1294.7,1532 L1290.9,1532.4 L1284.9,1534.8 L1278.5,1535.5 L1273.5,1537.2 L1271.3,1540.7 L1267.8,1541.6 L1266.2,1538 L1260.9,1536.3 L1265.4,1532.9 L1266.5,1527.4 L1262,1526.3 L1256.5,1529.1 L1249.8,1528.5 L1245.4,1525.2 L1239.9,1523 L1242.1,1519.6 L1239.9,1513 L1242.1,1507.4 L1238.8,1501.9 L1234.3,1500.8 L1232.1,1497.5 L1235.4,1493 L1234.3,1486.4 L1236.2,1482.3 L1237.7,1479.7 L1241,1476.4 L1245.4,1474.2 L1247.1,1467.5 L1249.2,1463.1 L1248.7,1459.8 L1254.3,1458.7 L1259.8,1456.5 L1261.5,1450.9 L1258.7,1447 L1252.1,1447.6 L1248.7,1444.3 L1248.2,1439 L1247.6,1435.4 L1246.9,1430.6 L1249.8,1426.5 L1252.7,1422.2 L1252.6,1416.6 L1252.1,1412.3 L1252.1,1407.7 L1253.3,1403.8 L1254.8,1401.1 L1248,1401.9 L1245.1,1405.6 L1242.1,1407.7 L1238.1,1411.5 L1236.5,1415.5 L1233.5,1418.4 L1232.1,1421 L1226.6,1424.3 L1221.7,1423.5 L1217.7,1425.4 L1215.3,1427.4 L1211.1,1428.8 L1207.5,1431.9 L1206.6,1435.4 L1204.3,1438.6 L1204.4,1443.2 L1202.8,1448.2 L1203.3,1452 L1205.2,1456.4 L1204.4,1463.1 L1204.7,1467.4 L1202.2,1472 L1201.2,1476.9 L1201.6,1480.8 L1205.5,1485.3 L1208.3,1489.2 L1212.2,1490.8 L1211.6,1494.9 L1210.8,1497.7 L1213.8,1501.9 L1212.7,1506.9 L1213.8,1513 L1214.6,1517.9 L1216.6,1524.1 L1218.3,1530.2 L1218.8,1535.1 L1221.8,1539.1 L1221,1544 L1220.2,1547.1 L1218.8,1550.7 L1216.3,1554.2 L1212.2,1555.1 L1207.8,1557.3 L1201.1,1558.4 L1194.2,1559 L1189.7,1555.7 L1184.3,1555.8 L1180,1552.4 L1177.2,1555.9 L1177.1,1559.7 L1173.9,1564.7 L1168.1,1562.9 L1162.3,1564.4 L1158.7,1564.3 L1155.4,1562.2 L1149.3,1561.7 L1145.2,1560.5 L1139.9,1562.3 L1136.5,1567 L1130.8,1567.8 L1128,1571.5 L1127,1577.9 L1124.4,1581.9 L1121.5,1586.3 L1117.3,1591 L1116.8,1596.3 L1117.4,1600.7 L1116.9,1604.7 L1114.8,1609 L1111.6,1611.9 L1107.8,1614.6 L1106.2,1620.1 L1103.9,1623.2 L1100,1626.3 L1097.1,1624.6 L1091.5,1628.2 L1088.4,1630.8 L1084.8,1630.8 L1080.8,1634.5 L1076.5,1635.8 L1072.9,1635.5 L1069.4,1638.5 L1066.2,1640.4 L1062.3,1641.9 L1057.1,1643.1 L1053.6,1645.6 L1050.6,1646.6 L1044.8,1646.2 L1043.8,1652.9 L1041.6,1657.8 L1043.2,1661.6 L1039.6,1666.7 L1038.6,1672.3 L1035.5,1674.9 L1030.6,1675.7 L1026.3,1680 L1019.9,1681 L1014,1684.7 L1011,1685.7 L1007.2,1687.1 L1004.8,1692.3 L1000.5,1695.1 L997.1,1698.5 L991.2,1696.4 L986.3,1695.4 L983.3,1694.4 L979.2,1693.7 L974,1692.3 L974,1687.9 L970.9,1683.1 L968.1,1679.3 L964.7,1678.5 L961.6,1680.2 L957.1,1680 L956.8,1686.2 L958.6,1692.3 L960.1,1699 L960.1,1704.7 L961,1709.9 L960.3,1714 L960.1,1717 L955.9,1714.2 L949.4,1715.4 L943.8,1713.4 L937,1713.9 L932.7,1713.8 L929.3,1717 L925.5,1713.5 L924.7,1707.7 L919.4,1706.3 L916.3,1704.7 L912.4,1704.7 L908.7,1704.4 L905.4,1704.1 L901.8,1706.2 L897,1706.2 L892.6,1705.8 L888.9,1704.4 L883.7,1704.7 L880.1,1706.2 L879.9,1710.6 L880.1,1713.9 L884.1,1717 L887.8,1717 L882.2,1719.7 L880.1,1724.7 L883.1,1729 L887.8,1732.4 L892.4,1732.8 L897.6,1734.1 L900.6,1736.6 L903.2,1738.5 L905.9,1743.6 L909.2,1746.9 L912.4,1747.8 L917.2,1751.5 L921.7,1750.8 L924.9,1756.4 L927.8,1760.1 L931.9,1764.8 L935.5,1767.8 L932.5,1772.6 L934,1778.5 L935.4,1782.9 L938.4,1784.6 L938.6,1790.9 L941.7,1795.3 L944.7,1800.1 L947.6,1801.2 L950.6,1804.1 L952.4,1809.3 L955.8,1814.2 L955.5,1818.6 L953.2,1822.2 L950.9,1824.7 L954.9,1828.4 L955.5,1833.9 L954.5,1837.6 L951.8,1840.3 L950.9,1846.3 L951.2,1851.3 L948.4,1855.1 L949.4,1861.7 L946.4,1864.6 L945,1869.1 L944.9,1872.3 L944.7,1877 L943,1881.9 L940.1,1884.3 L940.5,1887.8 L938.6,1892.4 L935.6,1896.4 L934,1903.2 L929.6,1905.2 L924.7,1909.4 L921.1,1910.8 L918.3,1912.7 L912.4,1910.9 L908,1906.7 L903.2,1904.7 L897,1905.6 L890.9,1903.2 L885.8,1899.3 L881.6,1897.1 L876.4,1895.8 L872.4,1897.1 L868.5,1898.8 L863.2,1898.6 L857.2,1899.5 L851.8,1897.5 L848.1,1894.7 L844.7,1892.4 L840.4,1890.9 L837.4,1887 L833.4,1887.8 L829.3,1886.3 L825,1883.8 L821.5,1882.7 L818.3,1880.6 L813.9,1881.7 L807.5,1881.6 L804.4,1878.2 L799.5,1878 L795.4,1877 L790.8,1878.2 L787.7,1876.9 L784,1877.2 L780.1,1874 L775.3,1871.2 L772.8,1868.2 L769.1,1865.8 L764.7,1864.7 L759.8,1864.4 L755.2,1867.3 L749.3,1870.9 L745,1871.2 L742.2,1870.9 L737.9,1871.5 L733.9,1874 L728.5,1876 L723.1,1878.6 L723.1,1882 L722.8,1885.7 L724.6,1892.4 L725.4,1899.3 L729.3,1903.2 L727.2,1907.6 L723.1,1910.9 L722.1,1915.4 L721.8,1919.5 L724.2,1922.6 L724.6,1926.3 L723.9,1930 L722.6,1933.7 L722.5,1937.3 L723.1,1941.7 L722.1,1948.2 L722.3,1953 L724.6,1957.1 L722.2,1963.3 L720.5,1966.5 L716.9,1969.4 L714.9,1973.6 L711.1,1975.3 L708.3,1979.3 L709.3,1984.8 L708.2,1989.3 L705.7,1993.5 L702.1,1997.3 L700,2000.2 L697.5,2003 L696.2,2006.4 L692.5,2008.5 L690.8,2012.5 L687.9,2015.1 L685.6,2018.2 L684.8,2021.6 L681.5,2024.8 L681,2030.4 L680,2034 L684.6,2035.6 L689.2,2037.1 L689,2040.5 L687.8,2044 L686.2,2049.4 L691.2,2050.6 L695.4,2053.1 L693.9,2059.5 L692.3,2065.4 L689.2,2070 L687.9,2073.5 L686.7,2079.4 L687.7,2083.9 L685.4,2086.5 L683.5,2090.1 L683.2,2094.1 L681.5,2099.3 L684.6,2101.6 L688.6,2101.6 L693.9,2100.8 L697,2104.1 L699.8,2106.2 L706.2,2106.9 L711.3,2107.7 L715.2,2106.9 L718.5,2105.4 L725.4,2104.7 L730.8,2105.4 L734.7,2109.1 L737.6,2109.7 L741.6,2111.6 L745.9,2115 L749.4,2116.6 L750.8,2120.8 L751.1,2126.4 L750.9,2129.9 L753.9,2133.1 L754.4,2139.3 L755.4,2143 L758.5,2145.4 L761.7,2151.2 L767.7,2154.7 L773.9,2157.7 L774.5,2154.1 L778.4,2151.6 L783.1,2148.5 L788.9,2145.1 L795.4,2145.4 L799.6,2145.2 L802.7,2144.6 L806.3,2140.7 L810.8,2140.8 L817.2,2139.5 L821.5,2140.8 L826.2,2142.3 L831.6,2140.8 L836,2143.4 L841.5,2143.2 L844.7,2145.4 L848,2146.4 L851.6,2147.3 L856.8,2147.2 L860.1,2150 L864.2,2149.6 L867,2147.9 L872.4,2147 L878.6,2150 L884.3,2148.3 L887.8,2142.3 L891.2,2137 L893.9,2131.6 L898,2130.9 L901,2128.7 L906.3,2125.4 L909.8,2124.1 L914.2,2125.2 L917.9,2123.3 L921.7,2123.9 L923.4,2120.6 L924.7,2116.2 L925.2,2112.4 L927.7,2109.7 L930.9,2105.4 L933.1,2101.8 L935.5,2100.1 L937.9,2097.5 L940.1,2094.6 L944.3,2090.7 L948,2090.3 L952.4,2090 L957.1,2085.4 L953.6,2080.6 L949.4,2077.7 L945,2072.7 L944.3,2068.8 L944.7,2065.4 L945.9,2059.3 L946.3,2054.6 L949.4,2050 L951.1,2045.4 L955.5,2043.3 L958,2038.9 L963,2037.5 L965.2,2032.7 L969,2030.9 L970.9,2027.9 L975.5,2024.7 L978.7,2019.6 L982.1,2016 L983.2,2012.5 L987.6,2013.9 L991.5,2012.1 L996.5,2009.3 L1000.8,2005.8 L1004.8,2003.3 L1008.5,2002.3 L1013.6,2001.6 L1017.3,1996.1 L1023.2,1994 L1027.1,1992.2 L1030.5,1989.9 L1035,1989.1 L1041.7,1987.9 L1046.2,1983.1 L1052.5,1981.7 L1050.2,1975.2 L1050.9,1969.8 L1052.5,1966.3 L1054,1961.8 L1052.9,1955.5 L1052.6,1951.2 L1050.9,1947.8 L1054.3,1943.3 L1053.1,1940 L1054,1935.5 L1056.6,1932.4 L1059.5,1930.9 L1064.4,1929.5 L1066.3,1926.3 L1069.7,1924.2 L1072.5,1922.8 L1077.7,1924.1 L1081.7,1923.2 L1087.2,1924 L1091,1927.8 L1094.4,1929.5 L1098.7,1929.1 L1103.3,1934 L1108.6,1935.3 L1111.3,1938 L1115.6,1938.6 L1121.2,1937.9 L1124.7,1939.7 L1128.8,1943.3 L1134.1,1943.2 L1137.5,1943.8 L1141.6,1941.1 L1145.6,1939.6 L1149.4,1940.1 L1153.4,1934.8 L1158.7,1930.9 L1162.4,1928.8 L1163.6,1925.4 L1167.9,1924.4 L1171,1923.2 L1174.7,1922.5 L1177.1,1919.1 L1183.3,1918.6 L1186.6,1916.6 L1188.2,1911.8 L1192,1909.8 L1195.6,1909.4 L1198.8,1906.5 L1202.2,1903 L1206.4,1898.6 L1211.8,1897.9 L1217.2,1898.6 L1220.2,1900.7 L1223.3,1903.3 L1229.5,1904.7 L1234.5,1909.2 L1238,1911.4 L1241.8,1914 L1245.3,1915.5 L1247.4,1919.5 L1248,1926.3 L1249.2,1931.8 L1251,1935.3 L1254.1,1938.2 L1254.1,1941.7 L1253.9,1946.2 L1258,1950.7 L1262.3,1953.5 L1263.3,1957.1 L1265.6,1960.9 L1267.1,1963.7 L1270.4,1966.4 L1275.7,1969.4 L1281.3,1971.5 L1285.4,1977.1 L1286.8,1981.2 L1291,1984.8 L1295.1,1986.8 L1297.4,1990.5 L1300.9,1994.8 L1306.4,1997.1 L1310,1998.5 L1312.3,2000.9 L1314.7,2004 L1317.8,2006.2 L1321.8,2011.2 L1327.7,2011.7 L1333.9,2014.2 L1337.7,2015 L1343.1,2016.3 L1346.8,2019.9 L1350.4,2020.4 L1351.9,2024.4 L1355.4,2027 L1359.1,2028.1 L1363.8,2030.9 L1367.5,2033.9 L1370.8,2034.7 L1372.1,2038.6 L1376,2041.9 L1380.5,2043.1 L1383.1,2045.5 L1388.5,2049 L1392,2051.7 L1395.4,2053.2 L1399,2057.6 L1402.8,2057.9 L1406.2,2059.4 L1408,2062.5 L1407.3,2066.5 L1410.8,2070.1 L1412.1,2074.5 L1414.8,2079 L1417,2085.5 L1418,2091 L1417.9,2094.6 L1420.1,2097.8 L1419.6,2100.6 L1418.9,2104.7 L1418.5,2110.2 L1416.7,2114.3 L1412.4,2119.4 L1409.9,2125 L1407.7,2128.6 L1414.3,2129 L1418.5,2127.1 L1420.6,2124.1 L1421.1,2120.2 L1426.2,2116.3 L1430.8,2112 L1434.1,2107.8 L1433.9,2104 L1433.3,2100 L1435.4,2094.8 L1441.4,2092.3 L1444.7,2087.1 L1449.5,2084.5 L1450.8,2079.4 L1448.3,2075.5 L1447.8,2070.1 L1443.9,2066.6 L1438.5,2064 L1434.7,2058.6 L1429.3,2057.8 L1430.8,2054.6 L1430.6,2050.8 L1430.8,2045.5 L1434.3,2040.5 L1437,2034.7 L1440,2030.9 L1446.2,2030.1 L1451.1,2030.9 L1453.4,2033.7 L1457,2034.7 L1462.2,2036.2 L1464.5,2038.9 L1467.8,2040.9 L1470.5,2044.5 L1470.3,2047.7 L1475.5,2051.7 L1481.6,2050.1 L1484.6,2046.3 L1484.7,2040.9 L1482.6,2035.2 L1478.5,2031.7 L1472.5,2029.9 L1469.6,2027.3 L1467.8,2024 L1463.6,2023.6 L1460.7,2020 L1456.8,2019.4 L1453.9,2016.3 L1450.5,2014.6 L1449.4,2010.8 L1445.4,2010.4 L1440.1,2008.6 L1437.3,2004.5 L1433.2,2002.6 L1429.6,2001.7 L1426.2,2000.9 L1421.2,2000.6 L1418.7,1996.9 L1415.4,1996.3 L1411,1994.7 L1407.7,1991.6 L1410.2,1987.1 L1413.9,1985.5 L1410.8,1982.4 L1406.1,1982.5 L1403.5,1980.3 L1398.5,1982.4 L1395.2,1981.5 L1391.5,1983.6 L1386.2,1980.9 L1381.2,1977.9 L1377,1976.3 L1374.8,1973.1 L1371.8,1970.7 L1366.2,1968.6 L1362.1,1963.3 L1358.5,1959.3 L1358.3,1955.5 L1355.5,1952.1 L1350.8,1947 L1347.1,1941.5 L1345,1938.1 L1344.6,1934.7 L1340.6,1933.7 L1338.1,1930.9 L1336.9,1925.5 L1332,1920.9 L1326.9,1920.6 L1324.6,1917.8 L1321.4,1915.6 L1319.6,1912.1 L1316.6,1910.9 L1312.3,1910.1 L1310.1,1907.2 L1309.5,1903.2 L1306.2,1897.8 L1305.2,1894.9 L1304.2,1890.9 L1302.9,1886.1 L1303.1,1882.4 L1301.9,1878.8 L1303.2,1874.8 L1303.1,1870.8 L1301.5,1867 L1303.5,1863.7 L1305.3,1860.9 L1306.2,1854.7 L1312,1851.8 L1316.3,1851.4 L1318.5,1848.5 L1323.2,1846.1 L1326.7,1844.9 L1330.8,1843.9 L1335.1,1846.1 L1338.5,1845.4 L1338.4,1848.7 L1340,1853.1 L1337.4,1856.1 L1335.4,1860.8 L1339.2,1864.2 L1339.5,1867.9 L1343.1,1873.1 L1345.5,1878.7 L1350.8,1882.4 L1354.5,1879.6 L1358.5,1876.2 L1359,1882.1 L1361.6,1885.4 L1366.7,1885.3 L1370.8,1885.4 L1372.6,1889.7 L1377.8,1892.2 L1380.1,1895.8 L1379.6,1899.1 L1383.1,1903.9 L1386.7,1908.6 L1392.2,1911.8 L1395.8,1917.2 L1401.6,1919.3 L1406.4,1922.3 L1411.3,1926.5 L1415.6,1927.6 L1418.7,1927.9 L1423.1,1931.6 L1428.8,1934.8 L1434.8,1937.4 L1438.4,1940.4 L1444.7,1940.9 L1450.6,1942.8 L1453,1946.4 L1457.3,1949.1 L1461.6,1948 L1466.2,1953.2 L1468.9,1957.7 L1472.8,1960.6 L1477.7,1962.6 L1482.2,1962.9 L1484.7,1965.5 L1489.3,1966.2 L1492.3,1969.1 L1496.2,1971.5 L1497,1974.7 L1502.1,1977.6 L1504.9,1979.8 L1509.3,1979.3 L1509.9,1984.3 L1507.8,1988.1 L1507.7,1992.9 L1506.2,1996.3 L1506.5,2001.2 L1503.7,2005.3 L1506.2,2011.7 L1506.5,2016.9 L1509.5,2020.3 L1509.3,2024 L1510.9,2029.3 L1513.8,2032.7 L1518.7,2036.9 L1521.6,2042.4 L1523.9,2047.9 L1526.9,2050.9 L1528.3,2056.1 L1531.2,2058.7 L1537,2060.9 L1539.5,2064.8 L1544.5,2067.5 L1549.6,2071.3 L1552.4,2076.3 L1557.7,2074.1 L1561.7,2073.2 L1559.8,2076.7 L1560.5,2081.1 L1557.3,2084.4 L1555.5,2088.6 L1550.8,2092.8 L1550.1,2096.6 L1549.3,2100.9 L1551.4,2106 L1553.9,2108.8 L1558.6,2113.2 L1563.6,2113.1 L1567.8,2110.2 L1570.9,2116.3 L1574.1,2118.2 L1577,2122.5 L1581.8,2126.3 L1586.3,2131.7 L1587.2,2135 L1588.5,2139.2 L1590.9,2144 L1592.2,2147.6 L1595.5,2150.2 L1600.3,2145.8 L1603.2,2140.9 L1604.7,2143.8 L1607.8,2147.1 L1612.8,2151 L1614,2156.3 L1617.1,2151.3 L1620.1,2147.1 L1621.9,2151.1 L1626.3,2153.3 L1629.4,2155.4 L1631,2158.8 L1634,2164 L1633.4,2159.5 L1635.5,2156.3 L1633.3,2152.8 L1631.7,2149.9 L1631.1,2145.4 L1629.4,2140.9 L1624.9,2139.1 L1623.1,2134.5 L1619.9,2130.2 L1620.1,2125.5 L1624,2123.6 L1626.3,2119.4 L1632.7,2121.8 L1638.6,2119.4 L1636.1,2116.3 L1634,2113.2 L1632.2,2108.7 L1629.1,2107 L1623.2,2104 L1627,2103.6 L1629.9,2100.7 L1635.5,2100.9 L1641.2,2104.7 L1644.6,2105.4 L1647.8,2107.1 L1651.2,2111.2 L1657.1,2111.7 L1656.4,2107.1 L1658.6,2104 L1653.4,2102 L1650.2,2100.2 L1647.8,2096.3 L1642.8,2092.7 L1639.6,2089.2 L1635.5,2088.6 L1636,2083.5 L1634.1,2080.4 L1629.4,2076.3 L1625.1,2076.1 L1622.2,2075.4 L1617.1,2073.2 L1611.6,2073.5 L1607.8,2070.1 L1608.8,2065.8 L1611.3,2063 L1614,2057.8 L1619.1,2053.5 L1623.2,2051.7 L1620.8,2048.4 L1617.4,2047.2 L1614.2,2044.2 L1610.9,2042.4 L1609.1,2038.1 L1606.2,2035.4 L1601.7,2030.1 L1601.2,2025 L1597.6,2022.4 L1598.3,2019.2 L1598.6,2014.7 L1601.6,2011.7 L1604.7,2008.6 L1610.2,2011.6 L1612.3,2013.8 L1614,2017.8 L1617.9,2020.1 L1620.9,2021.2 L1626.3,2024 L1629.2,2023.2 L1633.3,2024.5 L1638.6,2020.9 L1636.4,2016.8 L1632.5,2011.7 L1630.7,2008.5 L1629.7,2004.2 L1626.3,1999.3 L1629.4,1995.8 L1632.5,1994.7 L1636.4,1992.8 L1639.5,1990.8 L1643.7,1988.5 L1647.8,1987 L1650.7,1984.6 L1653.9,1983.1 L1658.2,1982.7 L1663.2,1982.4 L1669.6,1982.2 L1674.6,1984 L1678.6,1983.9 L1681.9,1984.5 L1685.1,1986.7 L1690.9,1987 L1693.7,1989.5 L1697.1,1993.2 L1703.3,1990.1 L1705.8,1986.3 L1709.4,1985.5 L1714,1980.9 L1710.9,1984.6 L1709.5,1989.6 L1709,1993.1 L1706.3,1996.3 L1706.2,2000.3 L1704.7,2004.5 L1704.8,2008 L1703.3,2011.7 L1705.4,2016.1 L1706.3,2020.9 L1711.5,2019 L1715.6,2020.9 L1720.8,2023.8 L1726.3,2024 L1722.9,2028.2 L1721.7,2033.2 L1716.4,2036.8 L1712.5,2039.4 L1714.2,2043.3 L1718.7,2045 L1724.8,2045.5 L1728.8,2050.2 L1731,2054.7 L1728.4,2058.1 L1724.8,2060.9 L1727.8,2060.6 L1731.8,2062.1 L1737.1,2064 L1736.3,2067.6 L1738.4,2071.3 L1743.3,2076.3 L1744,2080.7 L1740.2,2085.5 L1743.1,2088.3 L1746.4,2091.7 L1751.4,2096.2 L1752.5,2100.9 L1747.8,2100.4 L1743.3,2104 L1745.6,2110.3 L1749.4,2113.2 L1755,2112.5 L1757.7,2110.2 L1761.7,2110.2 L1765.5,2108.5 L1768.3,2106.1 L1774.1,2107.1 L1779,2107.3 L1783.3,2104 L1782.9,2109.5 L1780.2,2113.2 L1786.5,2113.4 L1792.5,2116.3 L1796,2117.7 L1799.3,2120.3 L1804.8,2119.4 L1807.7,2116.5 L1811,2113.2 L1816.6,2115.4 L1818.6,2118.8 L1820.2,2122.5 L1825.1,2125.4 L1827.9,2123.7 L1832.5,2124 L1836,2121.2 L1841.8,2119.4 L1846.3,2116.8 L1851,2113.2 L1854.2,2109.6 L1854.1,2104 L1853.9,2099.4 L1859.8,2096.2 L1863,2095.6 L1866.2,2093.3 L1871.4,2090.8 L1876.5,2090.9 L1880.5,2092.9 L1884.7,2093.3 L1887.5,2095.4 L1891.6,2095.5 L1895.4,2097.5 L1900.1,2096.4 L1903.7,2097.4 L1907.5,2100.1 L1912.3,2101.6 L1915.5,2102.5 L1922.3,2102.3 L1927.8,2102.5 L1931.3,2101.6 L1935.9,2100.1 L1941.1,2097.6 L1943.2,2093.3 L1947.2,2089.6 L1949.2,2085 L1952.6,2083.2 L1955.5,2081 L1957.9,2078.3 L1961.2,2076 L1961.9,2071.1 L1964.7,2068.6 L1969.2,2063.7 L1972.6,2061.4 L1977,2059.4 L1981.6,2060 L1985.5,2058.6 L1989.1,2054.2 L1995.5,2053.3 L2001.4,2049.6 L2004.7,2044 L2008.1,2047.3 L2010.9,2050.2 L2009.5,2053.4 L2006.7,2056.9 L2007.8,2062.5 L2010.1,2067.8 L2014,2071.7 L2016.4,2076.4 L2020.1,2077.9 L2022.6,2073.6 L2025.5,2071.2 L2029.2,2066.9 L2027.7,2062.4 L2029.4,2059.4 L2025.3,2055.2 L2024.8,2050.2 L2027.4,2043.8 L2026.3,2037.9 L2030.9,2038.2 L2035.5,2039.4 L2039.1,2037.5 L2044.8,2037.9 L2048.7,2032.6 L2052.7,2033.2 L2057.1,2030.2 L2063.6,2029.2 L2067.1,2026.8 L2069.4,2024 L2073.8,2020.6 L2078,2018.9 L2081.7,2019.4 L2084.8,2017.5 L2088.4,2016.4 L2093.4,2016.7 L2097.1,2013.2 L2102.8,2010.5 L2107.2,2008.4 L2109.4,2004 L2110.9,1999.8 L2115.8,1996.3 L2120,1994.6 L2121.7,1991.7 L2125.3,1987.9 L2131,1985.5 L2134.2,1984.7 L2138.4,1983.6 L2142.7,1983.1 L2146.4,1979.4 L2152.1,1977.1 L2155.1,1972.4 L2157.3,1969.5 L2161.7,1967.1 L2166.7,1964.2 L2171,1960.9 L2175.6,1961.8 L2180.2,1960.9 L2183.7,1957.1 L2186.4,1953.2 L2190.6,1950 L2194.5,1950.5 L2198.7,1945.5 L2203.7,1942.2 L2206.4,1939.6 L2211,1939.4 L2215.2,1936.1 L2220.2,1933.2 L2221.4,1936.4 L2225.1,1938.8 L2229.5,1942.4 L2232.5,1936.3 L2235.5,1931.4 L2240.2,1930.1 L2237.2,1924 L2233.9,1918.2 L2229.5,1914.7 L2223.6,1915.8 L2217.2,1914.7 L2218,1909.9 L2215.6,1905.5 L2212.6,1899.4 L2211,1893.2 L2209.4,1888.1 L2204.8,1883.9 L2202.9,1881.4 L2199.4,1878.8 L2195.6,1874.7 L2193,1869.8 L2189.4,1865.5 L2192.4,1862.1 L2195.6,1859.3 L2194.8,1854.1 L2197.1,1850.1 L2199.3,1845.7 L2204.8,1843.9 L2202,1842.9 L2198.2,1841.3 L2193,1839 L2189.4,1837.8 L2184.2,1840.5 L2180.2,1839.3 L2177.3,1840.8 L2173.2,1840.1 L2167.9,1842.4 L2164.7,1836.3 L2161.7,1831.6 L2159.4,1828.1 L2160.2,1822.4 L2157.1,1817.5 L2152.5,1816.2 L2146.7,1813.4 L2141.6,1814.8 L2137.1,1813.1 L2133.1,1809.3 L2126.3,1808.5 L2119.8,1810.8 L2115.6,1814.7 L2110.6,1816.7 L2106.3,1819.3 L2101.7,1822.6 L2097.1,1825.5 L2092.5,1827.9 L2087.9,1831.6 L2083.8,1836.6 L2081.7,1840.9 L2079.7,1846 L2075.8,1847.3 L2074,1850.1 L2071.7,1855.1 L2066.3,1859.3 L2060.3,1858.6 L2058.4,1861.5 L2054,1862.4 L2050,1862.2 L2046.8,1865 L2041.7,1863.9 L2039.8,1866.9 L2036,1868.2 L2032.5,1871.6 L2027.6,1875.8 L2023.2,1877.8 L2019.6,1876.1 L2014.2,1877 L2007.8,1879.3 L2003.7,1881.5 L2000.6,1880.4 L1997.1,1881.4 L1992.4,1880.9 L1986.1,1880.2 L1981.6,1879.6 L1977,1879.3 L1970.7,1878.8 L1968.5,1881.8 L1964.7,1882.4 L1960.5,1878.5 L1955.5,1877.8 L1951.1,1876.1 L1946.3,1876.3 L1940.5,1878.7 L1933.9,1879.3 L1930.2,1875.8 L1926.3,1873.2 L1920.1,1870.1 L1916.6,1875 L1912.4,1877.8 L1907.7,1877.3 L1903.6,1879.7 L1897,1880.9 L1892.8,1883.1 L1888.6,1884.2 L1884.9,1885.3 L1880.1,1885.5 L1875.8,1890.7 L1872.5,1893.5 L1867.8,1893.2 L1862.4,1896.3 L1858.5,1898.3 L1857,1902.4 L1853,1903.9 L1850.5,1906.9 L1847.8,1911.7 L1845.2,1917.5 L1840.1,1920.9 L1835.7,1924.9 L1832.4,1928.6 L1826.5,1931.2 L1824.7,1935.2 L1823.1,1937.8 L1818.9,1938.7 L1815.1,1937.8 L1809,1937.3 L1804.7,1940.9 L1799.3,1939.9 L1795.8,1941.7 L1789.3,1942.4 L1785.4,1942.8 L1781,1943.6 L1778.1,1944.6 L1773.9,1945.5 L1767.3,1943.2 L1761.6,1944 L1755.1,1943.2 L1751.3,1941 L1746.2,1939.4 L1741.1,1936.8 L1738.8,1934.4 L1736.9,1930.1 L1734.2,1926.6 L1731.1,1925.4 L1727.7,1920.9 L1724.3,1915.3 L1718.5,1911.7 L1718.5,1905.5 L1718.9,1900.7 L1719.7,1896.4 L1721.5,1890.1 L1720.3,1885.1 L1722.5,1881.3 L1725.4,1878.1 L1727.7,1874.7 L1728.1,1871.5 L1729.6,1867.5 L1730.6,1862.7 L1730.8,1859.3 L1730.7,1854.2 L1730.5,1849.2 L1731.9,1845.3 L1730.8,1840.9 L1730.9,1835.4 L1732.5,1829.7 L1733.5,1826.1 L1735.4,1822.4 L1738.4,1818.9 L1738.6,1815.4 L1743.1,1810.1 L1745.9,1807 L1747.4,1802.4 L1746.2,1796.2 L1741.3,1797 L1737.1,1799.3 L1731.7,1801.8 L1728.5,1803.7 L1724.8,1805.5 L1721.8,1804 L1718.7,1801.7 L1714,1797.8 L1710.7,1795.5 L1710.1,1790.7 L1710,1787.4 L1707.9,1783.9 L1706.4,1779.8 L1705,1776.3 L1704.1,1772.5 L1703.3,1768.6 L1700.6,1766.5 L1700.3,1761.9 L1698.4,1758.7 L1698.6,1753.2 L1696.8,1749 L1694.3,1745.2 L1690.6,1744.7 L1687.9,1740.9 L1684.3,1737.7 L1681.6,1735.1 L1677.8,1734.5 L1675.5,1731.6 L1672.6,1728.5 L1669.1,1725.9 L1666.9,1723.6 L1666.3,1719.3 L1663.2,1717.9 L1660.8,1714.7 L1658.9,1710.4 L1655.5,1708.5 L1650.7,1708.7 L1647.8,1711.6 L1647,1716.8 L1641.7,1720.8 L1637.1,1722.1 L1633.6,1725.7 L1627.5,1725 L1623.2,1728.5 L1617.2,1731.7 L1614,1736.2 L1610.7,1733.7 L1606.3,1734.2 L1601.7,1730.1 L1597.1,1728.1 L1592.4,1729.6 L1586.3,1731.6 L1582.8,1733.6 L1577.9,1732.7 L1574.6,1733.9 L1570.9,1733.2 L1567.6,1733.7 L1564.4,1737.3 L1558.6,1736.2 L1552.6,1734.3 L1549.9,1731.9 L1546.3,1730.1 L1542,1727 L1538.6,1722.4 L1540.6,1717.6 L1539.8,1714.3 L1540.1,1710.1 L1541.9,1705.7 L1544.7,1701.5 L1546.4,1698.1 L1546.3,1694.7 L1545.5,1690.7 L1547.3,1687.3 L1544.8,1683 L1544.7,1679.3 L1547.7,1676.5 L1547.8,1671.6 L1550.7,1665.9 L1554.8,1662.3 L1555.5,1657.7 L1557.7,1654.5 L1559.4,1651 L1563.2,1645.4 L1568.9,1641.4 L1570.9,1636.2 L1569.4,1631.6 L1567.8,1625.4 L1565.1,1622.5 L1561.5,1619.9 L1559.3,1615.6 L1558.6,1611.6 L1558.5,1608.1 L1555,1604.9 L1552.8,1600.6 L1552.4,1596.2 L1549.5,1592.9 L1547.7,1587.7 L1546.8,1584.4 L1546.3,1580.8 L1541.3,1578.9 L1538.6,1574.6 L1541.5,1572.1 L1541.7,1567.3 L1546.3,1562.3 L1547,1558.4 L1549,1555 L1552.4,1550 L1549.2,1545.8 L1547.9,1540.1 L1546.6,1536.7 L1547.2,1533.1 L1543.3,1531.3 L1541.7,1527.8 L1540.6,1521 L1537.7,1517.9 L1535.6,1512.4 L1538.1,1510 L1542.1,1508.9 L1546.6,1508.2 L1552.5,1509.3 L1556.3,1505.1 L1561.7,1501.6 L1568,1500.5 L1571,1497 L1575.1,1496.8 L1578.7,1492.4 L1575.5,1487.3 L1575.6,1481.6 L1579,1479.3 L1580.5,1474.1 L1580.2,1467.8 L1582.7,1464 L1582.7,1460.4 L1586.5,1457.5 L1589.4,1453.9 L1587.1,1449 L1587,1445.2 L1586.4,1441.6 L1590,1436.9 L1592,1434.1 L1592.5,1429.3 L1598.8,1426.4 L1602.6,1424.1 L1604.8,1421.6 L1607.9,1419.1 L1610,1415.5 L1612.5,1409.3 L1608.3,1406.2 L1607.5,1402.2 L1605,1399.2 L1604.8,1395.4 L1602.6,1388.9 L1600.6,1385.2 L1597.1,1383.1 L1594.5,1377.5 L1595.6,1370.8 L1593,1365.5 L1588.9,1362.8 L1586.4,1360 L1586,1353.9 L1589.4,1349.3 L1586.8,1346.3 L1582.5,1345.3 L1580.2,1340 L1577.7,1333.9 L1578.7,1327.7 L1578,1320.8 L1574.1,1315.4 L1574.5,1312.1 L1574.8,1308 L1575.5,1303.6 L1578.7,1300Z" fill="#fff" stroke="#fff" stroke-width="5" stroke-linejoin="round"/>
<path d="M1507.1,920 L1508.6,915.4 L1505.3,914.5 L1500.9,913.9 L1503,909.3 L1505.1,905.4 L1504,898.5 L1500,897.6 L1497,895.6 L1492.1,892.7 L1490.1,889.2 L1485.8,890.9 L1482.2,889.6 L1477.5,888 L1473.2,885.2 L1470.1,884.4 L1466.3,882.8 L1460.9,879.1 L1457.5,881.6 L1453.2,884 L1452.9,889.2 L1450.1,892.3 L1445.5,889.2 L1442.8,893 L1442.9,898.1 L1443.1,902 L1442.4,906.2 L1442.6,911.5 L1438.7,915.4 L1436.7,919 L1434.7,923.1 L1432.5,920.9 L1431.8,916.7 L1433.9,910.3 L1434.1,905.5 L1437.8,900 L1436.2,895.9 L1432.8,892.4 L1432.8,888.5 L1431.7,884.6 L1428.5,887.7 L1425.5,889 L1420.9,892.3 L1421,896 L1417.5,899.4 L1416.3,906.2 L1414.3,909 L1414.1,913.5 L1416.5,918.9 L1413.5,922.3 L1412.8,926 L1411.7,932.3 L1411,927.3 L1408.5,923.9 L1410.5,918.2 L1408.6,912.3 L1406.9,907.1 L1404.2,903.6 L1400.9,903.1 L1398.4,907.4 L1395.5,909.9 L1393.2,912.3 L1396.3,915.7 L1399.3,921.6 L1396.1,924.9 L1392.8,925.3 L1387,926.2 L1383.4,929.2 L1377.8,930.8 L1374.9,934.6 L1371.6,935.4 L1365.5,933.9 L1360.8,937.9 L1359.3,944.7 L1357.4,949.8 L1353.2,952.3 L1349.6,953.7 L1347,958.5 L1342.4,959.8 L1339.3,961.6 L1337.1,967.2 L1334.7,972.4 L1330.6,976.4 L1330.1,980.2 L1328.5,983.1 L1325.6,977.5 L1322.4,972.4 L1319.4,978.3 L1316.2,981.6 L1313.4,984.6 L1310.1,986.2 L1305.5,989.5 L1303.9,995.4 L1307.9,996.9 L1310.1,1001.6 L1306.2,1007.4 L1302.8,1010.4 L1297.8,1010.8 L1293.5,1013.6 L1288.5,1015.5 L1284.5,1020.8 L1282.4,1026.2 L1287,1025.5 L1291.6,1023.1 L1296,1019.5 L1301.4,1019.2 L1305.6,1015.7 L1310.1,1013.9 L1316.3,1010.8 L1319.1,1007.6 L1322.4,1004.7 L1321.5,1011.3 L1321,1017.3 L1317.8,1020.1 L1315.2,1022.2 L1313,1025.4 L1310.6,1029.3 L1310.1,1032.4 L1306.5,1038 L1305.5,1044.7 L1304.3,1048.7 L1300.4,1051 L1300.8,1057 L1297.4,1060 L1293.1,1063.2 L1289.9,1068.2 L1287.5,1072.1 L1287,1075.5 L1287.1,1079.7 L1285.7,1083.1 L1280.8,1087.8 L1278.3,1090.1 L1277.2,1093.8 L1276.2,1098.6 L1273.1,1102.7 L1271.6,1109.3 L1273.2,1112.7 L1276.2,1115.5 L1273.8,1121.7 L1271.6,1125.8 L1268.5,1127.8 L1265,1133.5 L1262.3,1136 L1257.7,1137 L1255,1143.1 L1254.7,1149.4 L1251.7,1152.6 L1246.9,1156.8 L1245.4,1160.7 L1242.3,1163.2 L1239.5,1165.7 L1236.1,1168.8 L1233.1,1174 L1229,1177 L1225.6,1178.1 L1220.8,1181.7 L1218.2,1183.1 L1214.6,1185 L1211.6,1190.9 L1208.5,1196.2 L1204.1,1197.9 L1200.8,1200.1 L1196.4,1200.3 L1193.4,1203.9 L1193.1,1207.3 L1190,1210.9 L1186.6,1212.4 L1185.3,1216.4 L1182.4,1219.2 L1179.2,1220.2 L1177.1,1223.9 L1174.1,1225.3 L1168.5,1229.4 L1165,1229.3 L1162,1232 L1159.2,1237.1 L1158.3,1242.6 L1153.1,1246.3 L1149.7,1251.1 L1150,1257.1 L1153.7,1260.6 L1155.6,1267 L1153.9,1272.4 L1149.4,1276.2 L1147.7,1281.1 L1148.1,1285.3 L1151,1291.6 L1153.5,1296.4 L1153.4,1301.7 L1154.6,1306.8 L1152.5,1310.1 L1152.4,1315.3 L1153.6,1319.8 L1151.7,1323.7 L1151,1328.5 L1149,1334.8 L1148.5,1339.2 L1147.7,1342.6 L1149.4,1347 L1152.2,1350.2 L1157.1,1353.2 L1155.6,1358.9 L1155.6,1365.5 L1156.4,1371.3 L1157.3,1375 L1161.7,1377.8 L1168,1379.6 L1172.9,1383 L1174.1,1387 L1179.2,1388.2 L1182.5,1391.4 L1189.4,1391.6 L1194.5,1390.1 L1198.2,1390.6 L1202.1,1389.3 L1204.8,1387 L1208,1385.3 L1210.2,1382.4 L1214.3,1380.5 L1217.2,1379.3 L1219.3,1374.7 L1224,1372.9 L1229.5,1368.6 L1235.1,1365.7 L1238.7,1363.4 L1241.8,1359.3 L1244,1354.9 L1247.2,1353.2 L1248.1,1350.1 L1251,1347 L1249.5,1341.7 L1251.4,1337.4 L1251.8,1333.7 L1249.9,1330.4 L1252.3,1327.1 L1252.6,1323.9 L1255.4,1327.9 L1255.6,1334.7 L1257.2,1340.9 L1257.2,1345.4 L1259.4,1348.6 L1263.3,1353.2 L1263.1,1359.4 L1265.1,1364.1 L1264.3,1367.4 L1266.4,1371.6 L1267.6,1378.4 L1271,1383.9 L1275.5,1388.6 L1274.8,1392.5 L1275.6,1396.3 L1277.6,1401.3 L1279.6,1404.9 L1280.2,1411 L1284.9,1414.7 L1287.5,1417.9 L1287.7,1421.7 L1289.2,1426.2 L1294.1,1430.1 L1297,1431.4 L1300.1,1434.3 L1302.6,1437 L1303.3,1440.9 L1303.2,1447.8 L1299.1,1452.5 L1297.2,1455.3 L1297,1460.1 L1301.1,1462.5 L1302.3,1467.7 L1304.5,1470.8 L1304.7,1475.5 L1302.2,1479.9 L1303.2,1486.2 L1307.4,1486.6 L1310.2,1488.3 L1315.5,1487.8 L1319.1,1486.8 L1322.9,1485.2 L1329.3,1484.7 L1330.7,1481.3 L1332.9,1478.6 L1332.4,1472.4 L1333.5,1467 L1337,1461.6 L1343.4,1460.7 L1346.3,1457 L1350.1,1456.8 L1355.1,1454.4 L1361.7,1455.5 L1366.3,1453.9 L1365.8,1447.4 L1369.3,1441.6 L1370,1436.1 L1373.1,1431.3 L1374.3,1427.6 L1372.4,1423.1 L1371.5,1417.9 L1369.6,1414.4 L1371.7,1410.7 L1370.9,1404.7 L1369.9,1398 L1371.4,1393.9 L1372.4,1389.3 L1375.6,1385.7 L1377.7,1382.1 L1377.2,1377.2 L1378.6,1373.9 L1379.6,1370.7 L1378.7,1366.5 L1375.5,1361.6 L1378.1,1359.6 L1380.1,1356 L1384.8,1356 L1387.8,1353.9 L1390.1,1350.4 L1393.2,1349.2 L1394.3,1345.6 L1397.1,1343.1 L1399.4,1339.2 L1402.2,1337.3 L1404.7,1330.8 L1406.9,1324.4 L1408.9,1321.1 L1410.9,1318.5 L1409.8,1313.3 L1412.4,1309.2 L1408,1304.1 L1404.7,1300 L1405.5,1303.3 L1403.9,1299.5 L1398.7,1297.5 L1396.8,1293.6 L1393.2,1291 L1388.4,1291 L1385.2,1289.2 L1379.3,1287.7 L1376.3,1284.8 L1376.3,1277.9 L1373.6,1272.1 L1374,1265.2 L1373.1,1261.6 L1370.1,1257.1 L1368.7,1251 L1369.2,1247 L1369.2,1243.6 L1370.4,1240.5 L1370,1236.4 L1372.2,1233.9 L1371.6,1229.4 L1372,1223.2 L1373.1,1219 L1375.3,1217 L1378.5,1213.8 L1379.3,1207.8 L1380.7,1203.6 L1385.4,1201.3 L1390.1,1197.6 L1393.2,1192.5 L1394.7,1186.5 L1400.3,1182.2 L1403.5,1176.1 L1408.6,1174 L1411.2,1170.5 L1414.9,1167.7 L1417.7,1165.9 L1420.9,1163.2 L1419.6,1159.8 L1421.1,1155.5 L1420.9,1149.4 L1420.1,1145.6 L1421.7,1142.1 L1423.6,1138.7 L1427,1137 L1425.3,1132.7 L1422.6,1130.7 L1420.9,1124.7 L1423.8,1120.1 L1423.4,1114 L1426.3,1109.9 L1425.5,1106.3 L1427.2,1101.2 L1427.2,1096.3 L1429.9,1093.5 L1431.7,1089.3 L1434.6,1088.9 L1438.2,1086.7 L1443.1,1087.6 L1445.9,1083.9 L1451.7,1083.2 L1457.1,1086 L1461.7,1084.9 L1465.3,1083.7 L1470.1,1084.7 L1476.1,1087.6 L1477.9,1090.5 L1479.4,1093.9 L1478.5,1100.6 L1480.9,1106.3 L1477.6,1107.8 L1475.3,1110.6 L1473.2,1115.5 L1472,1121.4 L1470.6,1126.5 L1467.1,1131.6 L1467.1,1137 L1465.7,1140.7 L1463.4,1145.6 L1461.9,1149.9 L1457.8,1152.4 L1455.4,1156 L1454.5,1160 L1449.2,1162.9 L1449.9,1168.8 L1445.5,1174 L1442.3,1177.2 L1438.2,1177.8 L1433.8,1178.6 L1430.1,1180.1 L1432.2,1185.3 L1430.9,1189.6 L1429.9,1194.8 L1431.7,1198.6 L1433.4,1202 L1433.9,1207.4 L1435.8,1213.7 L1439.4,1217.1 L1440.5,1220.4 L1438.9,1225 L1441.2,1230.6 L1441.4,1234.7 L1443,1238.1 L1447.1,1241.7 L1448.1,1246.8 L1446.5,1249.6 L1446.7,1254.1 L1445.2,1258.9 L1445.5,1263.3 L1448.7,1267.6 L1449.7,1271.8 L1448.7,1276.4 L1450.1,1281.7 L1454.7,1283.4 L1457.8,1287.9 L1464.1,1286 L1470.1,1284.8 L1473.4,1288 L1474.2,1292.2 L1478.9,1294.6 L1482.5,1297.1 L1486.4,1297.2 L1490.6,1294.8 L1494.2,1294 L1497.8,1291 L1501.2,1289.4 L1505.6,1287 L1509,1285.2 L1513.2,1283.3 L1516.7,1280.2 L1521.6,1277.1 L1527.9,1275.2 L1531.7,1272.5 L1535.9,1270.5 L1540.8,1270.6 L1546.2,1267 L1550.2,1263.3 L1555.4,1263.4 L1558.1,1260.6 L1561.9,1260.1 L1565.6,1257.1 L1568.8,1252.6 L1571.1,1248.7 L1570.2,1244.8 L1573.6,1242.5 L1576.6,1238.5 L1579.5,1235 L1579.4,1229.4 L1580.6,1225.3 L1580.6,1221.2 L1585.1,1218.2 L1587.1,1214 L1587.2,1208.6 L1588.8,1206 L1592.1,1203.6 L1593,1199.2 L1593.3,1195.5 L1592.6,1190.8 L1594.8,1184.3 L1595.8,1179.2 L1599.4,1174 L1598.3,1168.2 L1601.3,1163.1 L1601,1159.1 L1601,1155.5 L1597.3,1152.6 L1596.4,1149.4 L1591.9,1147.8 L1587.9,1145.6 L1585.2,1141.6 L1581,1140.1 L1574.9,1139.2 L1571.5,1136.3 L1569.2,1134.1 L1565.6,1132.4 L1570.2,1127.8 L1571.1,1123.7 L1571.8,1120.4 L1568.6,1115.5 L1562.9,1112.8 L1560.8,1109 L1559.4,1106.3 L1557,1100.9 L1556.3,1097 L1554.9,1094.2 L1551.6,1091.7 L1547.1,1087.8 L1545.8,1084.8 L1546.8,1080.7 L1542.5,1075.5 L1544.8,1069.4 L1544,1063.2 L1543.4,1059.3 L1542.5,1055.2 L1537.9,1050.9 L1534.9,1046.7 L1533.5,1041.9 L1528.6,1037 L1524.5,1035.9 L1522,1031.9 L1519.3,1025.7 L1516.3,1021.6 L1517.2,1016.8 L1519.4,1013.7 L1519.4,1007.8 L1520,1001 L1521.6,996.8 L1522.5,993.9 L1517.9,989.6 L1514.3,986.6 L1511.7,983.1 L1506.6,980.9 L1503.4,981.2 L1499.4,980.1 L1497.4,977 L1496.5,973.4 L1495.6,969.3 L1493.2,966.2 L1491.2,961.2 L1487.1,957 L1490.5,954.6 L1491.7,949.3 L1490.6,945.1 L1493.2,940 L1496,935.7 L1499.4,930.8 L1501.2,925.6 L1504.3,924Z" fill="#fff" stroke="#fff" stroke-width="5" stroke-linejoin="round"/>
<path d="M731.2,984.5 L734.6,981.5 L738.6,983 L741.5,978.1 L745.5,982.5 L747,977.1 L750.4,979.6 L749.9,972.7 L754.3,975.6 L756.3,969.7 L760.3,970.7 L762.2,976.6 L766.7,979.6 L765.2,972.7 L768.1,971.7 L764.7,966.3 L769.1,964.3 L774.1,966.3 L777,967.7 L778,973.7 L780,980.5 L781,987.4 L782.4,990.4 L780.5,994.3 L778,997.3 L775,999.3 L775.5,1005.2 L774.1,1011.1 L773.1,1015 L777,1010.1 L781.9,1006.2 L785.9,1004.7 L786.4,1011.1 L790.8,1008.1 L793.8,1003.2 L794.8,995.3 L796.7,993.4 L801.6,993.9 L802.1,1001.2 L802.6,1009.1 L805.6,1010.1 L807.6,1001.2 L812.5,999.8 L816.4,998.8 L820.4,1000.3 L822.3,1007.2 L823.3,1013.1 L821.9,1020 L824.3,1013.1 L824.8,1005.2 L827.3,1003.7 L832.2,1006.7 L833.2,1013.1 L836.1,1014.5 L841.1,1010.1 L844.5,1009.6 L845.5,1013.1 L849.9,1014.1 L853.9,1011.1 L854.9,1003.7 L857.8,1003.2 L862.7,1003.7 L865.2,1009.1 L865.2,1015 L868.7,1020 L876.5,1016.5 L871.6,1022.9 L870.6,1027.9 L875.6,1028.8 L874.6,1033.8 L868.7,1038.2 L876.5,1039.2 L877.5,1044.6 L882,1053 L879.5,1056.4 L874.6,1059.4 L876.5,1069.7 L872.6,1073.2 L867.7,1076.1 L863.7,1078.1 L859.8,1081.1 L856.8,1085 L851.9,1086 L846,1088 L841.1,1086 L836.1,1088 L828.3,1089.9 L820.4,1092.9 L811.5,1094.4 L803.6,1091.9 L796.7,1090.9 L792.8,1094.9 L784.9,1096.8 L776,1095.4 L769.1,1090.9 L765.2,1085 L757.3,1080.1 L753.4,1071.2 L749.4,1063.3 L743.5,1060.4 L735.6,1057.4 L725.3,1053 L729.2,1045.1 L731.2,1048.5 L739.6,1049.5 L744.5,1045.6 L742.5,1040.7 L745.5,1034.8 L743,1032.8 L744,1027.9 L747.4,1024.9 L743.5,1021 L737.6,1016 L729.7,1014.1 L726.3,1015 L727.2,1009.1 L732.7,1010.6 L739.6,1011.1 L746.5,1013.1 L751.4,1014.1 L757.3,1018 L763.2,1014.1 L759.3,1014.1 L754.3,1013.1 L752.4,1009.1 L757.3,1006.7 L764.2,1006.2 L767.2,1008.1 L766.2,1003.2 L761.2,999.3 L756.3,996.8 L753.4,993.4 L749.4,991.9 L743.5,991.4 L737.6,991.9 L734.6,987.4Z" fill="#909090" />
<g clip-path="url(#cscand)">
<rect x="1050" y="800" width="700" height="750" fill="#0072a8"/>
<path d="M1268.7,1379.4 L1312.4,1449.9 L1367.2,1454.5 L1377,1515.5 L1253.9,1515.5 L1253.9,1379.4Z" fill="#8ab82b" />
<path d="M1500.9,926.2 L1498.7,930.8 L1494.8,933.9 L1490.8,934 L1485.2,935.4 L1480.2,937.3 L1476.3,935.4 L1473.9,941 L1470.1,942.4 L1468.6,946.2 L1465.4,947.9 L1461.9,951.1 L1459.1,955.1 L1457.8,958.5 L1455.5,960.9 L1453.5,965.2 L1450.1,970.8 L1448.5,973.2 L1445,975.6 L1442.4,981.6 L1436,983.9 L1431.7,989.3 L1427.1,989.5 L1424.2,990.9 L1419.3,993.9 L1419,1000 L1417.8,1004.7 L1414.6,1005.3 L1411.6,1008.5 L1407,1010.8 L1401.5,1014.7 L1397.3,1013.4 L1393.2,1015.5 L1395.4,1021.5 L1397.2,1024.5 L1399.3,1027.8 L1395.1,1033.1 L1390.1,1037 L1387.9,1043.2 L1387,1047.8 L1383.7,1047.7 L1379.6,1048.8 L1375.8,1052.3 L1370.8,1054 L1368.6,1057 L1370.7,1061.1 L1375.1,1065 L1379,1068.5 L1383.9,1069.3 L1382.1,1073.1 L1377.8,1077 L1373.8,1078.1 L1368.4,1078.6 L1364.1,1077.9 L1361.1,1076.1 L1356.2,1075.3 L1350.1,1078.6 L1350.8,1085 L1351.1,1089.4 L1353.2,1093.9 L1349.4,1097.7 L1346.9,1100.2 L1345.5,1106.3 L1346.9,1110 L1347,1115.5 L1342.4,1117.6 L1339.9,1120.4 L1336.2,1121.7 L1336.3,1127.7 L1338.7,1131.9 L1337.8,1135.5 L1334.1,1137 L1332,1140.8 L1327,1143.2 L1324.3,1146.2 L1322.5,1149.5 L1319.9,1152.5 L1317.8,1155.5 L1319.1,1160.2 L1319.6,1164.2 L1323.1,1166.6 L1325.5,1170.9 L1322,1171 L1316.8,1171.7 L1313.5,1174.7 L1310.1,1177.1 L1312.8,1181.6 L1311.6,1186.3 L1307.9,1185.5 L1304,1185.6 L1298.8,1185.1 L1293.1,1186.3 L1298.2,1188.5 L1299.2,1192.8 L1300.8,1195.5 L1305.2,1197.7 L1308.5,1201.7 L1308.8,1207.5 L1310.1,1214 L1307.8,1218.6 L1303.9,1223.2 L1308.2,1225.2 L1311.6,1227.9 L1307.1,1233.1 L1304.1,1233.9 L1300.8,1237.1 L1302.9,1240.6 L1303.9,1245.7 L1304.4,1249.1 L1307,1252.5 L1301.7,1250.7 L1297.8,1246.3 L1292.8,1244 L1289.3,1244.2 L1285.4,1243.2 L1284.9,1247.4 L1287.6,1252.2 L1291.1,1256 L1293.1,1260.2 L1287.3,1259.9 L1282.4,1263.3 L1276.8,1263.4 L1273.9,1261.9 L1270.1,1260.2 L1266.3,1257.3 L1264.2,1252.1 L1261.3,1249 L1257.7,1247.9 L1259.3,1252.6 L1257.6,1258.2 L1257.6,1263.7 L1260.8,1269.4 L1256.6,1271.5 L1251.6,1272.5 L1250.2,1268.3 L1245.3,1265.3 L1240,1261.8 L1239.3,1257.1 L1233.1,1260.2 L1233.7,1264.7 L1237.9,1268.3 L1240.7,1274.2 L1244.3,1279.3 L1248.5,1281.7 L1243.6,1282.6 L1239.3,1284.8 L1236.2,1284.2 L1232.9,1281.4 L1230.4,1278.5 L1227,1275.6 L1226.6,1281.1 L1229.3,1285 L1228.9,1289.6 L1231.4,1293.1 L1236.2,1297.1 L1232.4,1297.7 L1228.3,1296 L1223.9,1291 L1217.5,1291.7 L1211.6,1294 L1214.9,1296.8 L1219.1,1299.1 L1223.9,1303.3 L1226.5,1306.9 L1228.5,1309.8 L1230,1315.6 L1225.5,1317.7 L1219.3,1318.7 L1222.1,1322.1 L1222.6,1325.7 L1225.4,1331 L1222.2,1329.7 L1217.2,1330.6 L1211.6,1334.1 L1208.3,1340 L1206.9,1344.8 L1205,1349.8 L1199.3,1352.5 L1196.9,1356.9 L1193.1,1359.9 L1192.5,1362.4 L1186.4,1365.5 L1183,1359.6 L1180.2,1353.2 L1176.6,1356.1 L1174.1,1362.4 L1170.9,1360.7 L1169.4,1356.2 L1165.3,1360 L1159.3,1362.8 L1153.3,1364.9 L1147.6,1365.4 L1145,1368.5 L1140.6,1370.1 L1137.8,1374.3 L1133.3,1376.1 L1128.2,1380 L1122.8,1382.6 L1118.8,1381.8 L1115.2,1383 L1111.6,1384.9 L1107.5,1386.4 L1104,1388.5 L1099.6,1390.8 L1095.8,1392.3 L1092.6,1393.8 L1089.8,1396.8 L1087.5,1398.8 L1083.7,1397.9 L1080,1400 L1081.7,1395.2 L1081.3,1390.4 L1079,1386.4 L1079.6,1382.1 L1076.3,1376.8 L1077.9,1373.8 L1077.9,1369 L1079.1,1364.3 L1076.6,1358.8 L1074.8,1354.1 L1076,1350.4 L1079.8,1345 L1082.7,1338.6 L1084.2,1333.6 L1083.3,1328.6 L1083.8,1321.9 L1083.7,1316.4 L1082,1312.9 L1081,1306.4 L1079.7,1301.5 L1079.4,1295.5 L1080,1291.5 L1082.1,1288.4 L1079.8,1283.7 L1081,1278.6 L1083.5,1273.6 L1081.5,1268.1 L1083.2,1263 L1083.2,1258.6 L1083.7,1252.2 L1082.4,1246 L1081.3,1240 L1083.9,1235.5 L1084.1,1231.4 L1084.6,1228.1 L1082.1,1225.7 L1081,1221.7 L1079.2,1216.9 L1078.9,1210.6 L1080.5,1204.4 L1080,1200 L1080,1195.7 L1082.5,1191.6 L1083.4,1186.3 L1085.4,1182.5 L1086.8,1177.9 L1088,1174.4 L1090.3,1171 L1090.5,1167 L1093.8,1162.1 L1096.8,1158 L1100,1151.8 L1101.5,1147.3 L1104.4,1144.4 L1107.2,1138.6 L1107.8,1134.1 L1108.8,1128.2 L1110.4,1124.5 L1113.3,1122.5 L1114.3,1117.2 L1116.7,1113.8 L1116.1,1107 L1116.1,1102.7 L1117.8,1098.2 L1122.4,1093.1 L1121.9,1087.3 L1126.2,1082.4 L1127.2,1077.6 L1128.7,1072.8 L1131.1,1069.4 L1134,1064.5 L1133.6,1058.7 L1135.2,1053.9 L1138.4,1050 L1138.5,1043.3 L1142.2,1041.5 L1143.9,1037.3 L1146,1034.8 L1148.5,1031.2 L1148.3,1024.4 L1150.9,1019.9 L1153.8,1014.8 L1156.1,1010.8 L1158.3,1005.4 L1159.9,1000.9 L1160.2,996.6 L1163.6,993.8 L1164.2,988.1 L1165.4,981.3 L1167.9,976 L1170.6,972.9 L1172.6,969.2 L1173.6,965.8 L1176.2,962.1 L1177.5,958 L1180.5,954.5 L1183.1,951 L1182.9,944.9 L1184.7,941.5 L1184.8,937.1 L1185.2,932.4 L1187,927.6 L1187.1,922.9 L1190.5,918.6 L1191.1,915.3 L1194.4,912.4 L1195.5,909.1 L1198.8,906.2 L1200,900 L1205.9,898.4 L1211.4,896.5 L1214.3,896.1 L1217.7,893.6 L1222.7,894.5 L1226.2,893.3 L1231.5,893.2 L1235.1,892.2 L1239,892.2 L1243.3,890.7 L1248.5,890.1 L1252.7,888.7 L1256,883.9 L1260.7,883.2 L1266.4,879.9 L1272.9,879.7 L1278.4,875.4 L1285.4,875.8 L1288.8,876.2 L1292.6,873.9 L1297.5,872 L1300.5,870 L1304.5,870.6 L1309.6,866.7 L1315.2,865.5 L1319.3,864.6 L1321.9,861.7 L1327.5,862.4 L1331.5,859.6 L1336.1,859.8 L1339,858.3 L1343.5,857.5 L1346.8,854.3 L1350.6,850.4 L1357.3,849.9 L1361.6,849.3 L1365.3,847.4 L1369.7,847.7 L1373.6,848.5 L1380.2,847.2 L1383.2,844.1 L1386.3,843.3 L1393,842.9 L1396.4,841 L1400,840 L1404.9,840 L1411.1,840.5 L1417.1,837.7 L1420.8,837.3 L1425.6,837.6 L1427.8,835.4 L1432.3,835.3 L1435.7,835.7 L1439.4,836.4 L1443,837.4 L1446.7,839.1 L1449.4,837.6 L1453.6,837.6 L1457.8,840.5 L1463.9,838.7 L1467.6,840.6 L1472.5,841 L1476.1,843 L1480.7,842.1 L1484.3,840.3 L1489.1,840.2 L1494.5,840.8 L1498.1,840 L1503.1,841.2 L1506.3,839.8 L1510.6,841.7 L1514.2,838.9 L1518.4,839.3 L1523.4,841.7 L1530,840 L1529,845.3 L1526.5,849.7 L1524.4,855.9 L1526.6,860.6 L1527,864.5 L1528.8,868.8 L1529.3,872.8 L1526.8,876.5 L1527.5,882.1 L1524.6,887.5 L1525.8,894.1 L1527.1,899.2 L1527.6,905.6 L1528.5,909.9 L1527.4,915.4 L1527.8,920.7 L1530,925 L1524,924.8 L1520.8,924 L1516.1,924.5 L1512.5,924.3 L1507.7,925.6Z" fill="#0e6567" />
<path d="M1279.3,1112.4 L1282.9,1115.6 L1285.4,1121.7 L1287.3,1128.2 L1289.5,1132.2 L1288.5,1137 L1285.1,1137.9 L1281.8,1140.7 L1279.3,1146.3 L1281.9,1150.6 L1285.4,1155.5 L1282.8,1161.2 L1279.6,1165 L1276.2,1166.3 L1274.8,1169.7 L1275.3,1174.2 L1277.7,1180.1 L1272.6,1184.2 L1267,1186.3 L1264.6,1188.6 L1264.1,1193 L1263.9,1198.6 L1257.2,1199.7 L1251.6,1201.7 L1248.5,1207.8 L1245.1,1207.6 L1240.4,1207.1 L1234.6,1204.7 L1230,1206.3 L1225.6,1209.7 L1220.8,1214 L1219.3,1220.2 L1213.2,1219.8 L1208.5,1223.2 L1205.3,1225.1 L1201.8,1227.1 L1199.3,1232.5 L1194.7,1232.8 L1190,1234 L1190.3,1240.8 L1187.9,1243.2 L1186.9,1247.9 L1182.7,1251.3 L1177.7,1250.9 L1173.6,1254.9 L1168.5,1257.1 L1174.3,1259.9 L1176.4,1262.8 L1180.8,1263.3 L1186.1,1261.5 L1189.4,1261.3 L1193.1,1260.2 L1198.5,1263 L1202.3,1266.3 L1199.9,1271.5 L1196.2,1275.6 L1190.1,1272.2 L1186,1274.2 L1180.8,1272.5 L1177.7,1274.2 L1173.8,1274.5 L1168.5,1278.6 L1168.6,1285.1 L1165.4,1291 L1169.7,1293 L1173.1,1292.2 L1177.7,1297.1 L1181.8,1297.9 L1184.4,1301.9 L1190,1303.3 L1184.7,1307.2 L1183.9,1312.5 L1179.8,1311.3 L1176.5,1311.1 L1171.5,1309.4 L1171.2,1315 L1170.2,1318 L1168.5,1321.7 L1171.9,1323.1 L1176.2,1326.7 L1180.8,1331 L1180,1336.2 L1174.6,1340.2 L1170.6,1343.8 L1168.5,1349.4 L1168.2,1354.1 L1165.4,1359.9 L1169.4,1356.2 L1170.4,1360.2 L1174.1,1362.4 L1179.5,1362.2 L1183.2,1362.3 L1186.4,1365.5 L1192.5,1362.4 L1195,1368.2 L1198.9,1370.4 L1200.2,1374.7 L1204.2,1377.1 L1205.9,1381.4 L1207.9,1387 L1207.2,1391.2 L1204.7,1394.9 L1207.3,1398.6 L1206.5,1403.3 L1206.1,1408.7 L1208.6,1413.4 L1209.8,1416.9 L1207.9,1420.9 L1202.6,1420.5 L1198.5,1423.6 L1195.5,1421 L1191.9,1420.8 L1187.6,1421.1 L1184.6,1423.1 L1180.3,1423.8 L1177.3,1422.7 L1171.4,1420.7 L1167.1,1422.2 L1163.5,1420.5 L1160,1419.9 L1155.8,1421.1 L1152.6,1420.8 L1147,1419.1 L1142,1419.5 L1139.7,1422.4 L1135.8,1420 L1129.9,1420.9 L1126.1,1421.3 L1122.3,1418.5 L1118.7,1419.3 L1115.6,1420.9 L1118.1,1417.4 L1118.3,1413.9 L1119.5,1408.7 L1117.4,1404 L1118.6,1398.8 L1118.2,1392.8 L1118.1,1388.6 L1118.2,1384.6 L1114.7,1379 L1116.4,1372.3 L1114.4,1366.2 L1111.9,1360.4 L1113.3,1357 L1113.1,1353.4 L1114,1349.2 L1114.6,1344.5 L1115.2,1338.5 L1112.7,1332.1 L1114.7,1328.8 L1113.4,1323.9 L1114,1319.4 L1116.9,1316.3 L1119.1,1312.7 L1118.5,1307.6 L1117.3,1303.7 L1116.8,1300.6 L1117.3,1295 L1115.5,1291.2 L1116.1,1285.8 L1117.1,1282.6 L1118.2,1279.1 L1117.8,1274.6 L1118.8,1270.4 L1117.7,1263.5 L1116.9,1257.7 L1116.3,1251.3 L1114.9,1246.3 L1115.6,1242.3 L1117.8,1238.7 L1116.9,1235 L1119.2,1229.4 L1122.1,1226.5 L1126.4,1223 L1129.4,1220 L1130.8,1215.4 L1135.6,1212.1 L1136.7,1208.6 L1140.7,1206.2 L1145.5,1204.8 L1148.7,1200.2 L1152.6,1195.5 L1156.3,1189.8 L1158.9,1185.2 L1163.1,1183 L1168.4,1178.8 L1169.4,1174.2 L1175,1170.7 L1179.1,1170 L1181.7,1167.8 L1184.1,1162.6 L1189.8,1159.4 L1192.4,1155.6 L1194.4,1151.8 L1197.8,1150.2 L1202.6,1146.9 L1205.7,1143.7 L1208.2,1139.4 L1211,1137.2 L1214.8,1132.3 L1217.8,1129.5 L1221.2,1127.9 L1223.6,1125.4 L1226.7,1123.2 L1226.9,1117.6 L1229.9,1114.5 L1235.2,1110.7 L1237.4,1104.4 L1242.3,1100.1 L1247.1,1102.3 L1253.8,1103.8 L1259,1104.6 L1261.3,1107.5 L1265.6,1110.4 L1271.2,1112.8 L1274.8,1111.2Z" fill="#8bd0f5" />
<path d="M1413.7,888.8 L1411.4,892.5 L1411.3,895.7 L1410.5,901.6 L1410.4,907.4 L1412.1,911.2 L1413.7,917.1 L1410.5,922.5 L1405.6,922.6 L1402.5,925.7 L1396.1,924.1 L1392.4,923.4 L1388.1,925.7 L1383.3,928.9 L1383.4,932.5 L1383.3,936.9 L1381.5,939.9 L1377.4,940.8 L1372.1,944.9 L1368.8,948.3 L1365.7,949.7 L1363.6,952.1 L1362.5,956.1 L1363.9,962.3 L1365.7,965.3 L1368.9,968.9 L1366.5,971.7 L1362.2,973.3 L1356.1,972.1 L1354.2,976.5 L1351.8,978.8 L1352.9,984.9 L1347.3,988.1 L1346.7,992.4 L1346.5,996.1 L1347.1,1000.7 L1348.5,1003.5 L1347.3,1008.9 L1342.4,1005.1 L1339.3,1005.5 L1335.3,1004.9 L1331.3,1009.7 L1330.6,1014.9 L1328.5,1018 L1325.7,1020.1 L1327,1025.6 L1324.1,1029.8 L1324,1034.3 L1322.5,1039.4 L1323,1043.8 L1325.7,1047.4 L1322.9,1050.3 L1319.3,1052.2 L1312.8,1054.6 L1308,1058.6 L1304.4,1059.2 L1300,1061.8 L1298.4,1068.2 L1294.4,1073 L1295.7,1076.1 L1300,1077.8 L1304.4,1077.2 L1307.2,1079.6 L1312.8,1078.6 L1309.8,1081.5 L1306.4,1083.4 L1304.6,1086.4 L1300,1087.4 L1297.4,1091 L1294.4,1092.2 L1295,1096.7 L1293.6,1100.2 L1290.5,1103.4 L1290.4,1106.6 L1285.6,1109.8 L1282.8,1111.7 L1279.2,1113 L1272.9,1114.7 L1268,1116.2 L1266.2,1111.4 L1264.2,1108.4 L1263.6,1102.6 L1264.3,1098.5 L1265.3,1092.7 L1265.9,1085.9 L1262.9,1082.3 L1263.1,1076.3 L1261.9,1073.1 L1263.1,1068.6 L1261.6,1063.5 L1262.1,1057.9 L1261.9,1053.6 L1262.3,1047.7 L1263.3,1041.4 L1258.9,1036.2 L1259.1,1029.3 L1260.9,1025.5 L1260,1020.1 L1260.7,1014.2 L1263.5,1008.7 L1268.3,1005.7 L1269.1,1001.4 L1273.7,997.5 L1277.5,994.3 L1279.6,989.5 L1282.3,983.9 L1285.7,980.4 L1285.7,975.9 L1288.9,971.1 L1289.7,966.7 L1293.6,963.3 L1297.7,959 L1298.9,954.6 L1301.4,950.4 L1304.3,947.6 L1305.2,944 L1307.4,941 L1309.1,936.9 L1311.3,934.7 L1312.3,928.3 L1313.6,921.7 L1319.1,918.2 L1320.6,912.2 L1324.1,908 L1328.5,906.3 L1332.1,905.9 L1337.3,902.2 L1341.6,903.7 L1344.4,902.1 L1349.6,898.5 L1354.6,894.6 L1359.5,894.2 L1365.1,893.9 L1369.1,889.8 L1373.9,890 L1377.9,888.1 L1383.4,886.5 L1388.5,883.2 L1393.6,881.9 L1397.4,879.8 L1399.5,876.8 L1404.1,876 L1407.8,878.9 L1409.4,882.6 L1410.8,885.4Z" fill="#909090" />
</g>
<path d="M1471.4,885.6 L1474.8,885.8 L1478.8,886.2 L1484.2,884 L1488.5,884 L1491.9,884.1 L1497,888.8 L1501.7,892.4 L1504.7,896 L1500.2,900.8 L1494.9,902.4 L1490.6,902 L1487,900.5 L1483.9,899.5 L1479.9,900.4 L1476.2,899.2 L1474.7,895.6 L1471.1,892.8 L1472.2,889Z" fill="#909090" />
<path d="M1450.6,884 L1455.4,879.2 L1460.3,878.7 L1466.6,880 L1467.4,885.6 L1464.2,886.4 L1460.2,888.8 L1456.4,888.5 L1452.2,888.5Z" fill="#909090" />
<path d="M1427.3,888 L1432.2,884 L1438.6,885.6 L1436.2,891.2 L1429.8,892Z" fill="#909090" />
<path d="M1390.5,911.2 L1394.6,908.8 L1399.3,906.4 L1402.6,902.3 L1406.5,901.3 L1408.1,906.4 L1411.3,909.6 L1408.9,916 L1409.7,921.7 L1404.1,924.1 L1398.5,922.5 L1400.9,916 L1396.1,915.2Z" fill="#909090" />
<path d="M1353.7,938.5 L1359.3,935.3 L1361.8,932.7 L1364.1,929.7 L1366.8,932 L1370.5,934.5 L1367,937 L1365.7,940.1 L1368.2,941.9 L1372.1,943.3 L1366.5,947.3 L1362.5,947.3 L1359.3,952.9 L1357.8,955.9 L1356.1,959.3 L1351.3,956.1 L1352.1,949.7 L1356.1,944.9Z" fill="#909090" />
<path d="M1374.5,932.1 L1378.5,929.2 L1382,932.9 L1379.3,936.5 L1375.3,935.6Z" fill="#909090" />
<path d="M1282.4,1026.5 L1284,1020.1 L1288.2,1015.8 L1292,1012.1 L1296.5,1010.7 L1301.6,1007.3 L1303.3,1002.9 L1308,1000.9 L1304.4,998.8 L1302.4,996.1 L1304,989.7 L1308.3,987 L1311.2,983.3 L1316.9,986.5 L1316.6,982.2 L1316,978.5 L1317.5,973.7 L1321.7,970.5 L1324.1,972.9 L1324.5,978.3 L1322.5,981.7 L1327.3,986.5 L1332.1,981.7 L1332.7,977.5 L1335.3,975.3 L1333.7,970.5 L1333.9,965.6 L1336.9,962.5 L1341.7,957.7 L1344.7,959.6 L1347.3,962.5 L1351.3,959.3 L1356.1,964.1 L1362.5,962.5 L1367.3,967.3 L1362.5,970.5 L1356.1,970.5 L1351.3,975.3 L1350.4,978.7 L1352.1,983.3 L1347.3,986.5 L1346.2,991 L1343.3,992.9 L1347.3,996.1 L1344.9,1002.5 L1346.5,1008.9 L1340.1,1007.3 L1335.3,1004.1 L1330.5,1008.9 L1333.7,1013.7 L1332.3,1016.4 L1330.5,1020.1 L1328.1,1015 L1324.1,1013.7 L1321.5,1011.1 L1320.9,1007.3 L1317.4,1006.9 L1314.4,1004.1 L1311.5,1005.1 L1308,1007.3 L1304.2,1009.2 L1300,1013.7 L1296.2,1017.6 L1292,1018.5 L1287.7,1022.8Z" fill="#909090" />
<g clip-path="url(#cmain)">
<rect x="600" y="1250" width="1700" height="1000" fill="#bfe4f9"/>
<path d="M600,1960 L603.4,1959.6 L607.3,1957.3 L611.5,1957.8 L616.8,1958.1 L622.2,1959.4 L627,1957.6 L632.2,1956.1 L637.7,1959.4 L642.9,1960.6 L647.1,1959.2 L651.4,1958.9 L653.9,1956.3 L657.7,1955.8 L660.9,1955.5 L666.1,1957.2 L671.7,1956 L676,1957.4 L679.6,1956.6 L683.6,1958.4 L687.1,1959.6 L690.3,1957.4 L693.8,1957.5 L700.2,1955.7 L706.5,1957 L710.5,1956.8 L714.7,1955.8 L719.1,1955.1 L723.1,1957.1 L723.6,1952.4 L726.7,1948.1 L728.8,1941.7 L733.9,1938.6 L739.5,1937.1 L742.7,1934.6 L743.9,1929.7 L749.3,1926.3 L752.5,1926.7 L756.7,1926.1 L761.6,1923.2 L767.7,1920.1 L764,1916.8 L761.6,1914 L766.8,1913.5 L770.4,1915.1 L773.9,1913.3 L777,1912.4 L779.9,1908.7 L783.1,1907.8 L789.9,1907.5 L795.4,1906.3 L800.5,1906.7 L805.3,1906.4 L810.2,1907.5 L813.9,1909.4 L818.5,1908.1 L822.5,1909.3 L827.2,1908.3 L832.4,1910.9 L837.6,1910.9 L842.6,1910.3 L847.4,1910.4 L850.9,1914 L856.1,1911.5 L859.9,1913.2 L865.8,1911.6 L869.5,1912.2 L872.4,1914 L876.5,1914.2 L879.5,1915 L883,1916.3 L884.7,1920.1 L888.3,1922 L892,1923.8 L897,1926.3 L900.7,1930.5 L906.3,1934 L911.9,1930.1 L918.6,1930.9 L924.7,1929.2 L927.8,1924.8 L931.7,1925.5 L936.1,1923.5 L939.4,1924.4 L943.2,1924.8 L949.5,1924.2 L953.2,1924 L956.2,1926.7 L959.7,1927.4 L965,1927.5 L967.1,1930.1 L970.9,1931.8 L974.7,1932.2 L978.8,1933.9 L982.1,1934.6 L986.3,1936.1 L989.7,1937.8 L994.3,1937.4 L999.1,1935.1 L1004.8,1934.6 L1009.9,1931.9 L1013.6,1932.5 L1017.1,1934 L1019.6,1930 L1024.1,1928.8 L1026.3,1923.2 L1027.8,1919.6 L1029.5,1914.7 L1033.3,1909.2 L1035.2,1903.4 L1038.5,1903 L1041.7,1900.1 L1044.8,1897.1 L1048.2,1891.2 L1052,1887.5 L1054.4,1883.9 L1055.3,1880.9 L1060.2,1877 L1066.2,1874.2 L1067.5,1869.7 L1071,1866.8 L1076,1863.6 L1078.5,1858.3 L1081.8,1853.1 L1083.3,1849.5 L1088.3,1847.4 L1092.2,1845.6 L1096.2,1841.2 L1101.5,1837.7 L1106.6,1835.3 L1110.5,1831.6 L1111.6,1827.2 L1112.6,1823.1 L1116.4,1820 L1120,1819 L1121.7,1815.5 L1124.7,1813.3 L1126,1809.5 L1130.8,1806.6 L1136,1805.4 L1138.1,1801.5 L1144,1798.1 L1148.5,1795.8 L1154.1,1793 L1157.3,1790.7 L1161.1,1789.1 L1163.8,1786 L1166.4,1782 L1172.5,1780.2 L1176.4,1775.1 L1180.4,1771.8 L1184.5,1771 L1190.7,1767.7 L1193.9,1768.4 L1197.8,1766.6 L1202.1,1764.9 L1205.5,1759.9 L1209.6,1757.9 L1211.7,1753.1 L1216.2,1751.5 L1220.4,1750.2 L1223.4,1746.5 L1229.6,1744.1 L1234.6,1740.4 L1238.3,1735.1 L1243,1733.8 L1245.2,1730.5 L1251.2,1730.7 L1256.9,1728.2 L1259.9,1723.6 L1264.7,1719.4 L1270.1,1718.8 L1275.2,1716.5 L1279,1714.6 L1281.9,1712 L1287.8,1710.5 L1292,1705.4 L1296.7,1703.8 L1300,1700 L1302.3,1694.2 L1302.9,1687.4 L1301.5,1682.6 L1303.5,1678 L1303.7,1673.9 L1304.3,1669.5 L1302.4,1663.9 L1302.8,1657.8 L1302.4,1652.8 L1299.6,1647.2 L1299.2,1642.9 L1297.9,1640 L1297.8,1635.9 L1299.3,1631 L1298.6,1625.7 L1299.2,1622.1 L1302.2,1619.6 L1299.6,1616.4 L1299.9,1612.8 L1298.3,1608.5 L1300.4,1603.4 L1300.2,1599 L1302.9,1595.8 L1302.5,1590.6 L1301.9,1585.4 L1303.1,1579.1 L1302.9,1575.1 L1301.3,1571.1 L1299.7,1564.9 L1300.5,1558.9 L1299.8,1554.1 L1300.8,1550.1 L1300.5,1543.8 L1301.5,1537.3 L1300.5,1533.8 L1297.4,1530.7 L1296.8,1526.4 L1298.1,1520.6 L1299.2,1516.2 L1298.6,1511.9 L1299,1505.4 L1300,1500 L1297.3,1494.8 L1298.3,1490.1 L1297.2,1487.3 L1296.3,1483.3 L1292.6,1481.7 L1291.3,1478 L1290.8,1471.5 L1287.3,1467.7 L1285.2,1464 L1285.6,1459.5 L1284.3,1455.5 L1282.4,1448.7 L1280,1444.5 L1279.8,1439.7 L1278.6,1434.7 L1276.1,1430.8 L1276.9,1427.2 L1274.4,1423.5 L1273.3,1419.4 L1271.7,1414.4 L1271.1,1410.5 L1270.6,1406 L1269.9,1402.3 L1268.5,1397.8 L1265.9,1394.7 L1265.6,1391.1 L1264.8,1386.4 L1261.7,1383.8 L1260,1380 L1253.6,1378.2 L1249.3,1378 L1245.2,1379.9 L1238.9,1380.6 L1234,1382 L1230,1382.4 L1226.6,1381.5 L1222.9,1381.8 L1217.8,1379.8 L1212.8,1379.9 L1207.2,1381.8 L1203.3,1380.5 L1199,1381.5 L1196.2,1380 L1191.6,1378.9 L1184.9,1377.5 L1178.7,1377.1 L1173.6,1379.6 L1167.8,1380.8 L1163.6,1381.1 L1159.4,1381 L1157.1,1378.6 L1153.4,1380.3 L1150,1380 L1145.6,1378.9 L1140.1,1378.5 L1135.8,1378.7 L1130,1378.7 L1124.3,1377.9 L1120.8,1378.5 L1116.3,1379.5 L1111.1,1380 L1107.6,1381.8 L1103.2,1379.6 L1099.9,1379.2 L1094.5,1379.4 L1087.6,1381.3 L1082.4,1382.3 L1076.5,1379.6 L1069.1,1380.4 L1059.5,1381.5 L1053.2,1379.8 L1045.3,1379.1 L1039.1,1378.5 L1031,1380.9 L1024.2,1381.1 L1015.9,1380.7 L1009.4,1381.4 L1001.2,1381.8 L994.8,1382.3 L988.8,1380.5 L982.5,1382.4 L977.8,1379.6 L972.9,1380.3 L967.8,1381.8 L964.5,1380.9 L960.2,1382.7 L954.6,1383.6 L949.4,1383.3 L945.2,1383.3 L941.7,1381.1 L935.9,1381 L930.6,1379.1 L926.7,1379.3 L921.4,1380.2 L917,1379.7 L910.4,1379.7 L905.9,1382 L901.5,1380.8 L897.6,1382.3 L893.6,1382.2 L890.6,1380.9 L884.5,1380.5 L880.3,1381.5 L876.3,1380.3 L872,1380.3 L865.9,1379 L860.4,1379.8 L852.6,1380 L847.4,1379.7 L841,1380.6 L837.3,1380.6 L832,1382.2 L829.2,1379.8 L824,1380 L819.7,1376.5 L815.7,1378 L812.3,1377.2 L807.2,1377.7 L803.6,1376.5 L800.3,1377.3 L796.2,1378.4 L792.1,1380.9 L788.8,1381.9 L783.1,1380 L778.7,1381.1 L774,1379.8 L770.8,1378.8 L766.7,1379.4 L760.4,1381.5 L756,1379.8 L751.3,1381.2 L744.6,1380.8 L738.7,1378.5 L733.4,1380.1 L729.8,1382.3 L723.9,1383.7 L719.7,1381.7 L714.5,1383.5 L707.6,1384.6 L703,1383.9 L696.8,1383.2 L692.7,1383.4 L688.2,1382.8 L684.2,1382.9 L679,1382.1 L672.5,1383.7 L666.8,1383 L662.1,1383.3 L658,1384.5 L651,1384.2 L644.8,1383.7 L639.2,1381.9 L634.1,1381.5 L630.9,1379.4 L624.1,1378.3 L619.4,1381.4 L616.3,1379.6 L611.4,1378.9 L605.8,1377.7 L600,1380 L600.1,1384.4 L599.1,1389.6 L601.5,1395.9 L602.6,1400.7 L601.4,1406.8 L601.4,1410.3 L599.8,1414.8 L600.9,1419.5 L599.8,1425 L600.1,1427.9 L601.2,1432.1 L601.8,1437.4 L602.1,1443.4 L601.2,1447.6 L598.9,1453.5 L598.2,1459.3 L599.8,1462.6 L601.2,1467.2 L600,1473.9 L602.8,1478 L602.7,1482.6 L601.3,1486.8 L602.1,1492 L601.9,1496.2 L602.1,1500.1 L601.8,1504.8 L601.8,1512.5 L599.6,1517.7 L600.7,1524.1 L601.6,1530 L598.7,1535.5 L599.7,1541.5 L600.9,1546.4 L601.4,1552.1 L600.3,1556.1 L602,1559.8 L603,1564.6 L600,1569.8 L600.4,1576.2 L598.6,1582.7 L597.7,1588.1 L600.9,1593.1 L600.6,1596.9 L600.1,1600.6 L598.6,1607.1 L600.9,1611.4 L601,1615.3 L601.6,1619.8 L600.5,1624.7 L597.9,1627.8 L600.1,1633.8 L599.2,1639.8 L598,1646.6 L601.9,1651.2 L602.1,1655.7 L601.4,1659.7 L598.9,1663.8 L598.6,1668.3 L600.1,1672.3 L601,1677.7 L597.9,1684.4 L597.9,1690.1 L599.7,1696.3 L598.1,1699.8 L599.5,1704.1 L598.7,1710.1 L599.4,1715.5 L600,1721.8 L601.9,1724.7 L601.4,1729 L604.4,1734.4 L604.3,1738.9 L602.7,1743.2 L602.3,1746.3 L600.4,1750.6 L602.2,1756.7 L602.6,1761.5 L604,1765.5 L601.2,1767.8 L600.6,1772.9 L600.7,1777.5 L601.5,1782.8 L601.8,1787.1 L601.8,1791.9 L602.7,1796.4 L600.9,1802.1 L599,1808.5 L600.7,1817.1 L599.9,1821.4 L600.3,1827.2 L600.3,1832 L600.4,1837.4 L601.4,1841 L600.6,1844.5 L600.6,1848.2 L599.7,1852.6 L599.5,1857.7 L601.4,1860.6 L603.9,1866.2 L602.1,1871.4 L599.2,1878.9 L600.8,1885.6 L600.9,1891.5 L600,1897.7 L601.5,1902.7 L601,1906.8 L601.8,1910.7 L602.3,1914 L601.5,1918.5 L598.7,1922.3 L598.3,1927.6 L599.5,1933.6 L599.6,1939.4 L598.8,1944.5 L597.6,1948.6 L597.5,1952.4 L598.3,1956.3Z" fill="#8bd0f5" />
<path d="M1255.4,1400.5 L1259.6,1398.2 L1265.5,1399.1 L1269.3,1400.4 L1273.6,1398.9 L1277.5,1399 L1282.5,1397.9 L1286.1,1398.9 L1289.3,1399.4 L1291.7,1396.6 L1296.2,1395.9 L1300.4,1397.8 L1304.9,1396 L1308.8,1397.8 L1311.8,1398.6 L1315.1,1398.2 L1319.1,1396.2 L1323.5,1395.4 L1327.9,1397.1 L1332.2,1394.4 L1336.2,1394.1 L1340.3,1395.7 L1346.2,1394.6 L1351.8,1393.7 L1360,1395.3 L1366.5,1395.6 L1371.4,1395.6 L1375.6,1395.8 L1380.6,1395.3 L1386,1394.9 L1390.5,1394.8 L1396.7,1393.6 L1402.7,1393.5 L1407.9,1391.4 L1412.3,1392.5 L1416.4,1390.2 L1419.9,1391.6 L1422.8,1393.8 L1426.7,1393.4 L1431.4,1394.6 L1436.3,1393.2 L1440.9,1390.7 L1447.8,1391.1 L1452.7,1387 L1456.5,1386.1 L1461.2,1386.3 L1467,1387.8 L1472.1,1385.1 L1475.3,1386.3 L1479.2,1385.2 L1483.3,1386.7 L1487.9,1385 L1491.3,1387 L1495.6,1387.4 L1499.2,1389.3 L1503.8,1389.5 L1508.3,1389.5 L1511.5,1386.8 L1516.3,1386.3 L1521.8,1386 L1525,1385.9 L1528.9,1387.6 L1534.9,1385.1 L1538.8,1385.4 L1542.5,1386.1 L1549.1,1386.4 L1554.2,1387.7 L1558.1,1385.8 L1563.7,1386 L1569.4,1386.6 L1572.7,1386.3 L1576.6,1384.6 L1580.7,1384.9 L1584.5,1384.1 L1590,1385 L1595.4,1382.1 L1601.7,1383.9 L1606.5,1383.1 L1609.7,1385.1 L1613.8,1382.9 L1616.7,1381.8 L1619,1384.5 L1623.7,1385.2 L1629.7,1384.3 L1634.3,1382.7 L1639.4,1384.2 L1643.9,1383.2 L1650.2,1380.7 L1654.5,1379.1 L1658.5,1379.5 L1664.2,1380.4 L1669.7,1381 L1673.6,1382.4 L1677.9,1380.1 L1681.5,1381.5 L1684.9,1383.5 L1690.9,1382.6 L1696.1,1380.4 L1700,1380 L1706.1,1381 L1710.2,1385.9 L1714,1388.8 L1717.3,1390.6 L1720,1394 L1724.6,1394.5 L1727.5,1395.4 L1730.5,1398.6 L1735.9,1401.7 L1740.5,1405.7 L1746.4,1405.6 L1749.5,1406.8 L1752.3,1409.7 L1757,1411.6 L1760.6,1413.4 L1764,1413.8 L1767.4,1417.8 L1770.8,1420.1 L1776.2,1423.2 L1781.8,1423.8 L1787.3,1427.1 L1791.6,1427.7 L1795.2,1429.1 L1800.1,1431.1 L1802.9,1434.9 L1809.6,1435.2 L1813.6,1438.4 L1818.2,1440.8 L1824.4,1443.6 L1828,1446.6 L1831.2,1449 L1837.2,1450.2 L1840.7,1453.5 L1844.5,1454.4 L1846.7,1457.7 L1850.7,1458.7 L1853.7,1459 L1857.5,1461.6 L1860.5,1465.5 L1864.7,1468.2 L1867.3,1471.1 L1870.8,1473.9 L1875.5,1473.2 L1878.8,1475.9 L1884.2,1475.8 L1889.3,1479 L1891.5,1483.4 L1895.2,1484.7 L1900.4,1485.8 L1903.8,1489.4 L1908.8,1491.1 L1912.9,1493.5 L1914.1,1497.1 L1920,1500 L1920.6,1505.5 L1922,1509.5 L1922.3,1513.7 L1920.2,1516.6 L1922.1,1521.2 L1921.8,1524.9 L1921.8,1529.2 L1919.1,1532.6 L1918.8,1536.3 L1921.4,1539.4 L1919.1,1545.4 L1916.9,1551.9 L1918.6,1555.3 L1918.8,1559.3 L1918.3,1566.2 L1919.6,1571.3 L1917,1576.3 L1917.5,1582.2 L1917.9,1586.8 L1916.8,1590.4 L1914.7,1594.9 L1916.1,1601.1 L1915.9,1606.6 L1916.1,1610.4 L1914.7,1614.4 L1914.8,1617.5 L1916.7,1622.7 L1918.6,1627.1 L1919.1,1630.5 L1918.3,1634.5 L1919.9,1637.5 L1920.1,1641.6 L1921.3,1646.8 L1918.8,1650.6 L1917,1657.2 L1915.5,1661.1 L1916.7,1665 L1916.4,1670.8 L1917,1675.1 L1920,1678.5 L1920.1,1684.9 L1920.2,1689.4 L1921.8,1693.7 L1920.4,1697 L1920.4,1702 L1920.1,1706.3 L1919.7,1709.7 L1920.4,1714.5 L1917.3,1719.2 L1918.5,1725.4 L1918.4,1731.7 L1918.4,1735.5 L1917.4,1739.1 L1917.7,1743.4 L1916.6,1748.5 L1916.2,1752.7 L1915.6,1755.6 L1917.7,1758.6 L1919.3,1762.2 L1918.9,1766.2 L1918.6,1769.9 L1918.4,1775.1 L1920.1,1779.1 L1918.3,1782.4 L1917.8,1786.3 L1920.2,1791.4 L1920.6,1796.3 L1920,1800 L1914.6,1801.3 L1911.8,1805.4 L1909.5,1809.3 L1906.8,1811.1 L1902.3,1813.7 L1901.1,1817.6 L1895.9,1818.9 L1892.3,1820.5 L1890.9,1823.8 L1887.2,1825.3 L1882.6,1827.3 L1879.2,1827.3 L1875.6,1830 L1871,1833.8 L1866.8,1833.6 L1862.4,1836 L1859.9,1839.9 L1856.3,1840.7 L1852.5,1844.5 L1847.9,1847.4 L1844.6,1848.2 L1841.5,1851.9 L1838.4,1853.1 L1834.7,1855.7 L1831.5,1859.2 L1825.6,1862.6 L1820.1,1862.7 L1814.6,1865.7 L1810.5,1869.1 L1806.8,1870 L1802.2,1872.4 L1796.6,1875.4 L1793.4,1877.3 L1788.5,1879.8 L1785.2,1882.8 L1781.6,1883.4 L1778.4,1886 L1774.8,1889.1 L1772,1892.3 L1767.2,1892.5 L1762.9,1892.1 L1759.7,1895 L1754.5,1896.1 L1754.3,1899.5 L1750.9,1902.5 L1744.8,1905.1 L1742.4,1907.1 L1738.7,1909 L1736.2,1913.1 L1731.8,1917.9 L1726.4,1920.3 L1722,1921.1 L1717.9,1925.3 L1714,1927.1 L1709.8,1928.4 L1706.2,1930.2 L1701.8,1931.9 L1700.2,1934.8 L1697.3,1940.8 L1693.6,1943.7 L1690.3,1946.4 L1689.4,1950.2 L1691.2,1956.4 L1689.4,1960.9 L1684.5,1962.9 L1678.6,1964 L1673.2,1963.8 L1670.5,1965.6 L1667.9,1968.6 L1665.2,1965.3 L1660.2,1964 L1653.8,1965.3 L1647.8,1962.5 L1644.1,1963.8 L1639.4,1963.5 L1632.5,1964 L1630.2,1967.1 L1626.7,1968.1 L1620.1,1970.2 L1616.6,1971.4 L1612.9,1971.1 L1607.8,1974.8 L1605.2,1976.2 L1602.7,1979.7 L1598.4,1980 L1595.5,1981 L1595.5,1985.6 L1590.1,1988.1 L1583.2,1988.7 L1579.1,1988.6 L1574,1990.2 L1567.6,1988.5 L1563.1,1988.6 L1559.1,1986.5 L1554.2,1982.3 L1550.3,1981 L1546.3,1981 L1543.9,1975.9 L1541,1970.9 L1537.2,1969.8 L1534.4,1966.7 L1530.9,1963.7 L1530.5,1959.3 L1530.9,1955.5 L1529.2,1951.6 L1526.9,1947.5 L1523.2,1944.4 L1520.5,1939 L1515.5,1934.8 L1514,1931.4 L1510.5,1928.2 L1506.1,1925.7 L1501.7,1922.2 L1496.2,1919.9 L1493.3,1916.8 L1488.3,1916.8 L1484.7,1913.2 L1479.4,1913.1 L1475.4,1913.6 L1473.1,1910.8 L1468.5,1909.5 L1464.9,1905.5 L1458,1904.6 L1454.7,1902.3 L1449.9,1900.9 L1446,1900.2 L1441.6,1899.2 L1438.2,1894.8 L1433.3,1891.7 L1428.5,1892.1 L1423.1,1888.6 L1416.9,1886.6 L1412.9,1884.8 L1409.4,1882.2 L1406.7,1879.2 L1403.8,1875.3 L1400.4,1875 L1397.1,1872.9 L1390.5,1870.7 L1387.5,1867.4 L1385.2,1863.8 L1380.8,1863 L1377,1857.8 L1374.5,1853.9 L1373,1851.2 L1367.2,1847.7 L1362.5,1845.2 L1360.2,1842.3 L1358.4,1839.2 L1356.2,1836.2 L1352.3,1833.2 L1350.1,1830.2 L1346.5,1827.8 L1342.1,1823 L1337.9,1822.9 L1333.7,1818.8 L1328.8,1817.8 L1325.6,1817.9 L1321.8,1815.5 L1318,1818.2 L1312,1819.6 L1308.5,1818.4 L1303.6,1819.6 L1298.1,1822.2 L1295.4,1825.7 L1291.1,1826.1 L1285.1,1828.4 L1279.9,1830.1 L1275.7,1833.9 L1271.9,1833.1 L1267.1,1834.1 L1261.8,1835.6 L1257.6,1837.8 L1251.4,1836.9 L1244.9,1837 L1238.1,1837.8 L1233.1,1836.8 L1230.2,1833.8 L1226.2,1834.5 L1220.7,1836.1 L1214.1,1833.9 L1210.4,1836.3 L1204.6,1837 L1199.1,1838.9 L1195,1837.2 L1190.5,1841.2 L1187.5,1843.1 L1183.3,1843.2 L1179,1847.3 L1175.4,1847.5 L1171,1849.5 L1167.5,1853.3 L1162.6,1855.5 L1159.8,1858.1 L1158.7,1861.7 L1155.2,1861.4 L1151,1863.9 L1147.1,1866.6 L1144.9,1871.4 L1139.3,1871.4 L1137.5,1874.8 L1134.1,1877 L1130.9,1877.1 L1127.2,1874.4 L1121.7,1872.4 L1117.3,1871.5 L1112.5,1867.8 L1106.4,1864.7 L1100.5,1866 L1097.1,1870.9 L1095.3,1875.3 L1091,1878.6 L1089.6,1882.1 L1087.4,1884.7 L1084.9,1887.9 L1081.7,1889.4 L1077.9,1889.1 L1075.2,1886.4 L1069.4,1887.8 L1062.5,1888.1 L1058.1,1888.3 L1054,1892.4 L1051.1,1895.9 L1044.8,1897.1 L1040.8,1892.4 L1036.5,1891 L1032.5,1889.4 L1032.4,1886.4 L1031.5,1882 L1030.9,1877 L1028,1874.6 L1024.8,1870.9 L1028.4,1867.6 L1029.4,1861.7 L1025.7,1859.2 L1022.3,1856.4 L1017.5,1855.2 L1014,1852.4 L1012.8,1849.4 L1009.2,1846.9 L1004.8,1843.2 L1004.7,1839.1 L1001.8,1836.5 L997.9,1834.5 L995.5,1830.9 L995.1,1826.9 L995.4,1823.2 L995.3,1818.9 L994.9,1815.5 L999.3,1811.8 L1004.8,1809.3 L1007.2,1805.3 L1010.7,1804.4 L1017.1,1804.7 L1022.7,1802.4 L1027.9,1800.1 L1031.3,1799.6 L1035.1,1801.9 L1038.1,1803.3 L1041.7,1804.7 L1047.8,1803.2 L1054,1801.6 L1059.9,1801.1 L1063.3,1797 L1063.1,1793.6 L1064.3,1789.3 L1069.4,1784.7 L1071.3,1779.5 L1070.5,1773.9 L1072.7,1770.3 L1072.5,1766.2 L1073.3,1761.5 L1071.5,1757.7 L1072.1,1754 L1074,1750.8 L1073.5,1744.8 L1074.4,1740.4 L1077.1,1738.5 L1083,1736.5 L1087.9,1732.4 L1089.7,1729.6 L1092,1726.2 L1094,1720.1 L1093.6,1716.6 L1094,1712.3 L1094.3,1708.3 L1094,1704.7 L1095.4,1698.8 L1099,1695.5 L1100.2,1692.3 L1101.1,1688.9 L1100.5,1685.2 L1098.7,1680 L1102.8,1675.7 L1106.4,1670.8 L1109.4,1672.5 L1113.6,1671.2 L1117.3,1667.9 L1121.7,1666.2 L1127.2,1666.1 L1131.6,1663.8 L1134.7,1662 L1137.1,1658.5 L1141.3,1655.8 L1146.5,1655.3 L1151.7,1657.3 L1155.6,1656.9 L1159.9,1656.9 L1163.7,1658.8 L1167.9,1663.1 L1173.5,1661.9 L1177.2,1658.5 L1173.9,1655.2 L1173.1,1651.7 L1171,1646.2 L1173,1640.9 L1171,1636.9 L1176.4,1633.5 L1183.3,1633.9 L1186.1,1632.1 L1190.1,1630.4 L1195,1630.5 L1198.7,1630.8 L1201.4,1628.4 L1206.2,1628 L1210.4,1626.9 L1214.1,1623.1 L1213,1619 L1211,1613.9 L1206.2,1611 L1202.5,1610.2 L1198.7,1609.2 L1194,1607.1 L1187.9,1604.6 L1189.5,1600 L1192.3,1598.6 L1198.1,1599.5 L1201.6,1601 L1204.8,1604.1 L1208.1,1606.4 L1213.9,1606.3 L1217.1,1604.5 L1221.2,1602.4 L1225,1603.4 L1229.3,1603.2 L1230.7,1607.2 L1235.4,1609.4 L1240.6,1611.5 L1245.3,1611.7 L1247.8,1614 L1253.7,1617.7 L1258.8,1620.9 L1263.7,1620.6 L1269.3,1623.2 L1269.6,1618.6 L1272.4,1614 L1271.4,1610.4 L1271.9,1606.3 L1273.2,1602.1 L1272.4,1598.6 L1268.2,1597.3 L1266,1594 L1264.4,1591.1 L1261.6,1587.8 L1265.6,1582.9 L1266.2,1577 L1262.9,1573.5 L1262.3,1569.7 L1259.1,1566.5 L1253.9,1564.7 L1253,1560.7 L1252.4,1555.5 L1250.3,1552.4 L1249.5,1548.2 L1247.8,1543.2 L1249.7,1539.2 L1251.5,1535.3 L1250.8,1529.3 L1248.3,1534.4 L1249.4,1538.4 L1248.6,1542.2 L1248.2,1546.2 L1246.5,1539.6 L1242.1,1535.1 L1240,1531.3 L1236.5,1529.6 L1236.1,1525.9 L1232.1,1523 L1231.6,1519 L1229.9,1516.3 L1228.3,1513.3 L1227.1,1508.5 L1227.7,1501.9 L1225.8,1497.4 L1225.5,1494.1 L1227.1,1490.7 L1227.1,1486.4 L1226.6,1479.7 L1228.6,1476.3 L1228.2,1470.9 L1229.7,1464.2 L1228.8,1457.6 L1228,1454.1 L1224.4,1452 L1223.6,1448.4 L1223.8,1444.3 L1224.9,1438.8 L1226.6,1433.2 L1225.4,1428.8 L1226.6,1424.3 L1232.1,1421 L1233.3,1417.2 L1236.5,1415.5 L1240.3,1412.7 L1242.1,1407.7 L1246.7,1406.4 L1249.5,1403.2 L1254.8,1400.5Z" fill="#8ab82b" />
<path d="M1026.3,1923.2 L1031.3,1921.1 L1033.2,1918.3 L1034,1914 L1037.8,1911.2 L1038.6,1904.7 L1043.2,1909.4 L1046.1,1912.9 L1049.2,1913.7 L1055.6,1914 L1051.2,1918 L1044.8,1920.1 L1039.6,1920.5 L1034,1923.2 L1030.6,1924Z" fill="#8ab82b" />
<path d="M1512.5,1497 L1518.6,1500.1 L1524.8,1503.2 L1527.8,1505 L1530.6,1507.2 L1533.5,1509.8 L1535.6,1512.4 L1542.1,1510 L1545.5,1510.7 L1549.5,1512.8 L1554.9,1515.3 L1561.7,1515.5 L1565.7,1515.2 L1570.2,1513.7 L1574.5,1514.2 L1578.6,1516.9 L1582.4,1515.3 L1586.7,1514.6 L1593.4,1515.1 L1599,1514.8 L1603,1517.6 L1606.8,1517 L1611.6,1518.2 L1616.3,1517 L1620.2,1514.4 L1624.2,1515 L1627.6,1515.8 L1632.6,1515 L1637.5,1518 L1643.2,1517 L1648.8,1517.7 L1654.1,1515.5 L1654,1509.2 L1652.2,1502.7 L1651,1496.4 L1651.6,1490.1 L1651.5,1486.3 L1653.8,1481.7 L1654.1,1474.9 L1651.1,1470.1 L1649.9,1466 L1651.9,1462.7 L1653.5,1459.6 L1654.5,1455.5 L1653.2,1451.4 L1654.8,1445.4 L1653.7,1442.2 L1655.2,1438.2 L1655.2,1433.1 L1654.8,1429.4 L1654.6,1424 L1653,1420.7 L1654.4,1416.5 L1654.9,1410.6 L1654.1,1406.5 L1655.5,1402.4 L1653.4,1398.3 L1654.7,1392.4 L1654.8,1387.4 L1653.7,1383.7 L1656.4,1379.2 L1655.8,1372.7 L1654.4,1369 L1654.3,1364.4 L1651.8,1359.5 L1653.9,1356.3 L1652.9,1352.1 L1653,1348.2 L1653.1,1344.3 L1651.9,1340.4 L1653.5,1337 L1653.4,1333 L1654.6,1329.1 L1654,1322.4 L1652.5,1319.1 L1651.5,1315.2 L1652.5,1308.7 L1653.3,1304.6 L1652.6,1300.9 L1653.1,1296.9 L1655.7,1293.4 L1657.4,1289.3 L1655.7,1283.4 L1655.6,1277.2 L1656.4,1272.6 L1654.1,1269.2 L1649.3,1267.3 L1644.2,1268.1 L1639.5,1268.7 L1635.2,1267.1 L1630.8,1267 L1627.9,1268.3 L1621.6,1267.8 L1614.8,1266.8 L1609.8,1270 L1606.5,1266.6 L1600.3,1266.4 L1596.5,1268.5 L1592.5,1268.2 L1587.9,1268.2 L1583.7,1265.8 L1579.5,1268.2 L1572.8,1267.9 L1567.6,1271.3 L1562.2,1271.2 L1557.3,1270.5 L1553.4,1269.4 L1549.5,1271.3 L1546.2,1270.6 L1541.8,1272.2 L1536.6,1269.6 L1530.7,1272.5 L1526.1,1271.2 L1519.3,1270.7 L1515.4,1270.3 L1511.9,1271.3 L1508.3,1272.7 L1504.9,1273.1 L1500.5,1270.5 L1496.6,1271 L1493.5,1273.6 L1490.3,1271.4 L1485.4,1272.1 L1481.9,1269.1 L1476.3,1268.8 L1469.7,1269.1 L1463.8,1270.2 L1459.3,1267.2 L1455.5,1265.9 L1451.7,1267.2 L1447.7,1268.4 L1443.9,1268.2 L1438.6,1269.2 L1438.5,1275.4 L1439.9,1279.6 L1439.6,1286.4 L1440.9,1291 L1440.6,1294.3 L1440.4,1297.9 L1442.8,1301.4 L1440.7,1306.9 L1441.3,1312.5 L1440.2,1317.4 L1438.7,1323.5 L1441.2,1329.7 L1438.2,1332.3 L1436.7,1336.9 L1434.9,1341.3 L1436.7,1345.8 L1440.1,1349.9 L1439.9,1355.6 L1436.9,1358.5 L1436.5,1362.9 L1438.1,1368.4 L1438.3,1372.7 L1437.8,1377.6 L1435.3,1382.3 L1435.1,1389.3 L1437.8,1392.7 L1437,1398.5 L1438.2,1401.9 L1435.7,1406.3 L1438.1,1412 L1438.3,1416 L1438.5,1420.4 L1440.4,1425.6 L1439.5,1429.2 L1437,1432.2 L1437.2,1439.1 L1438.8,1442.4 L1438.7,1447.1 L1439.8,1453.2 L1439.8,1457.6 L1437.4,1463.8 L1436.8,1469.1 L1435.8,1472.7 L1435.6,1478 L1438.1,1481.6 L1438.6,1484.7 L1444.3,1485.6 L1449.7,1488.2 L1454.8,1488.7 L1459.4,1487.3 L1462.3,1489 L1466.8,1490.3 L1471.4,1490.9 L1475.9,1493.2 L1480.9,1493.9 L1487,1492.1 L1490.4,1493.9 L1494.1,1492.7 L1499.4,1492.1 L1505,1493.3 L1508.8,1495.7Z" fill="#0072a8" />
<path d="M1112.5,1874 L1116,1870.6 L1118.7,1867.8 L1124.4,1866.1 L1127.9,1860.1 L1130.5,1858.3 L1133.2,1855.1 L1135.6,1849.3 L1136.7,1846.2 L1136.4,1842.3 L1138.9,1839.9 L1141.8,1837 L1144.2,1832.8 L1146.2,1830.4 L1146.4,1824.7 L1149.8,1823.7 L1152.5,1820 L1158.7,1820.1 L1165.4,1818.7 L1171,1815.5 L1176.6,1813.9 L1178.8,1810.5 L1180.2,1807.8 L1180.7,1804.2 L1180.2,1800.1 L1184.8,1795.7 L1189.5,1795.5 L1195.1,1799.1 L1198.7,1801.6 L1203.6,1799.3 L1207.9,1800.1 L1212.9,1803.2 L1217.2,1803.2 L1218.5,1798.3 L1223.3,1795.5 L1218.1,1791.6 L1217.2,1786.2 L1222,1784.3 L1226.2,1783.7 L1232.6,1783.2 L1237.5,1784.1 L1241,1784.4 L1245.8,1783.2 L1251,1781.6 L1256.8,1778.5 L1262.9,1778.7 L1267.8,1778.8 L1272.6,1778.5 L1278.4,1778.9 L1283.8,1775 L1289.8,1774.5 L1294.1,1775.5 L1299,1772 L1304,1773.1 L1309.5,1770.5 L1315.7,1769.3 L1321.2,1768.8 L1326.8,1765.7 L1332.8,1763.2 L1337.2,1764.7 L1342.4,1765.1 L1346.8,1764.9 L1351.1,1764.7 L1353.9,1761.8 L1360,1760.1 L1361.6,1756.2 L1364.8,1754.5 L1369.6,1754.3 L1374,1752 L1380,1753.2 L1385.3,1753 L1388.6,1750.9 L1392.1,1749.6 L1395.4,1745.5 L1395.3,1749.3 L1398.5,1753.2 L1394.8,1757.9 L1393.9,1762.4 L1396.4,1765.8 L1400,1768.6 L1399.8,1773.3 L1395.4,1777.8 L1389.5,1781.4 L1386.5,1783.8 L1383.1,1787 L1379.9,1788.7 L1377.5,1791.4 L1373.5,1792.7 L1369.3,1793.2 L1368.3,1797.8 L1367.7,1802.4 L1371.6,1807.8 L1373.9,1811.7 L1377.7,1814.1 L1383.1,1814.7 L1380.9,1817.9 L1377,1820.9 L1370.8,1822.2 L1366.1,1821.3 L1361.6,1822.4 L1357.1,1823.8 L1352.7,1823.7 L1346.2,1824 L1344.6,1830.1 L1347.7,1831.9 L1351.4,1833.1 L1355.6,1833.9 L1358.5,1831.7 L1360.6,1835.1 L1361.6,1839.4 L1366.8,1842.9 L1372.3,1845.5 L1372.9,1850.9 L1373.9,1857.8 L1375.6,1860.9 L1378.6,1863.1 L1383.1,1867.1 L1389.4,1869.9 L1395.4,1873.2 L1400,1874.9 L1404.7,1876.3 L1409.5,1875.7 L1413.9,1879.4 L1418.9,1880.2 L1422.9,1881 L1425.4,1878.7 L1429.3,1877.8 L1434.3,1877.1 L1438.5,1876.3 L1444.1,1876.6 L1447.8,1880.9 L1453.7,1884.6 L1460.1,1884 L1465,1887.2 L1469.5,1887.6 L1472.4,1885.5 L1478,1885.9 L1481.6,1890.1 L1484.7,1895.8 L1487.9,1899.1 L1490.9,1900.9 L1494.3,1906.5 L1500.1,1910.2 L1506.4,1913.2 L1509.3,1919.4 L1515.2,1922.9 L1518.6,1928.6 L1524.1,1929.7 L1529.3,1933.2 L1525.7,1936.6 L1523.2,1939.4 L1520.8,1942.8 L1521.6,1947.1 L1525.6,1946.1 L1529,1946.3 L1533.9,1950.2 L1538.5,1953.1 L1542.1,1954 L1546.3,1953.3 L1549.9,1957.1 L1552.4,1962.5 L1556.5,1964.7 L1561.7,1967.1 L1563.1,1972 L1564.7,1977.9 L1568.5,1979.6 L1570.9,1984 L1571.6,1988.5 L1574,1993.3 L1570.9,1999.4 L1567,2002.1 L1561.7,2002.5 L1556.5,2005.5 L1552.4,2005.6 L1549.2,2006.8 L1546.3,2010.2 L1542.5,2010.9 L1538.6,2010.2 L1535,2006.4 L1530.9,2002.5 L1528.6,1999.4 L1528.5,1995.7 L1526.3,1990.2 L1523.4,1986.4 L1522.2,1982.9 L1523.2,1978 L1521.6,1974.8 L1520.3,1968.4 L1520.1,1962.5 L1516.7,1959.8 L1515.5,1956.3 L1511.7,1952.2 L1506.2,1950.2 L1500.6,1947.5 L1497,1944 L1493.7,1941.8 L1490.9,1937.8 L1484.7,1934.8 L1478.6,1932.5 L1474.8,1931.6 L1472.4,1927.1 L1470.2,1924.3 L1466.4,1923.4 L1462.1,1922 L1460.1,1919.4 L1456.5,1918.9 L1452.5,1920.1 L1449,1916.4 L1444.7,1916.3 L1442.5,1912.9 L1438.7,1911.7 L1435.4,1907.1 L1429.1,1909.6 L1424.1,1907.7 L1420.1,1908.6 L1418.1,1904.8 L1413.7,1902 L1409.7,1900.4 L1407.7,1897.8 L1404.4,1896.6 L1400.8,1893.2 L1395.8,1892.7 L1392.3,1891.7 L1385.9,1890.2 L1381.9,1889 L1380,1885.5 L1376.6,1882.1 L1373.1,1878.4 L1371.2,1874.8 L1370.8,1870.1 L1370.1,1865.9 L1367,1861.6 L1361.6,1857.8 L1359.1,1854 L1356,1852.9 L1353.2,1849.4 L1352.3,1845.5 L1349.2,1843.2 L1346.5,1840.1 L1342.4,1836.9 L1338.8,1836.4 L1336.5,1833.7 L1334.1,1830.9 L1329.1,1828.2 L1325.4,1825.9 L1321.8,1826.3 L1317.8,1828.4 L1314.8,1829.9 L1311,1829.6 L1306.4,1830.9 L1301.6,1831.3 L1297.8,1834.4 L1294.1,1840.1 L1289.8,1840.1 L1286.7,1843.2 L1282.6,1842.9 L1278.7,1846.3 L1275.7,1852 L1269.5,1854 L1266.1,1856.1 L1261,1854.8 L1256.8,1854.1 L1251,1852.4 L1244.2,1851 L1238.7,1847.8 L1232.6,1846.8 L1229.6,1845.5 L1226.4,1843.2 L1219.5,1843.7 L1214.1,1844.7 L1208.2,1847.9 L1201.8,1846.3 L1198.2,1847.2 L1194.5,1849.7 L1189.5,1852.4 L1183.8,1855.5 L1180.2,1858.6 L1175,1862.5 L1174.1,1867.8 L1174.6,1874.1 L1171,1880.1 L1171.8,1885.8 L1172.5,1892.4 L1175.8,1895.6 L1180.2,1897.1 L1185.8,1899.6 L1189.6,1899.7 L1194.1,1897.1 L1195.6,1900.1 L1190.3,1902 L1186.8,1903.8 L1183.3,1904.7 L1177.2,1905.1 L1174.9,1907.8 L1171,1910.9 L1166.4,1906.5 L1161.6,1905.7 L1158.7,1903.2 L1154.3,1907.7 L1149.4,1907.8 L1146.3,1906.8 L1143.9,1903.1 L1141.8,1898.6 L1141,1894.4 L1140.2,1889.4 L1134.8,1886.5 L1131.9,1886.3 L1127.9,1884.7 L1124,1882.7 L1121.7,1877 L1116.4,1875.4Z" fill="#0e6567" />
<path d="M927.8,1923.8 L931.2,1922.3 L935.9,1921.8 L939.6,1922.5 L943.2,1923.2 L949.3,1924.6 L955.5,1926.3 L958.8,1927.3 L962.8,1927.2 L967,1929.9 L970.9,1930.9 L975.2,1931.9 L979.4,1935.4 L986.3,1935.5 L991.5,1934.5 L995.9,1935.9 L1001.3,1936.3 L1004.8,1934 L1011,1934.7 L1015.5,1935.7 L1017.1,1938.6 L1023.4,1939 L1027.9,1941.7 L1030.1,1947.4 L1032.5,1952.5 L1037.1,1957.1 L1032.7,1960.5 L1029.4,1963.2 L1026.1,1965.3 L1022.2,1964.9 L1018.1,1964.7 L1014,1967.9 L1009.3,1966.3 L1004.8,1966.3 L998.6,1966.3 L996.1,1963.4 L995.5,1958.6 L989.9,1954.8 L986.5,1953.9 L983.2,1952.5 L978.7,1951.9 L974.3,1951.9 L970.3,1950.1 L967.8,1947.8 L964.4,1951.1 L963.2,1955.5 L957.1,1954 L956.7,1949.5 L960.1,1944.8 L954.7,1943.8 L952.4,1940.8 L949.4,1938.6 L945.1,1936.4 L941.4,1935.4 L937,1930.9 L933.1,1925.8Z" fill="#0e6567" />
<path d="M1417,1747 L1418.7,1740.3 L1418.5,1734.7 L1420.9,1731.6 L1423.1,1728.5 L1425.8,1726.1 L1430.2,1724.3 L1435.4,1722.4 L1436.4,1716.4 L1437.6,1713.3 L1440.1,1710.1 L1440.5,1706.5 L1442,1703.3 L1443.7,1700.3 L1447.8,1697.8 L1449.3,1693.7 L1451.2,1690.6 L1454.7,1688.8 L1457,1685.4 L1461.2,1684.5 L1465,1681.7 L1468.4,1682.5 L1472.4,1682.4 L1476.3,1682.7 L1479.5,1684.6 L1484.7,1683.6 L1490.2,1683 L1493.9,1680.8 L1497,1687 L1500.4,1686.6 L1504.8,1685.1 L1509.2,1685.6 L1515.5,1683.9 L1521.5,1681.8 L1527.7,1683.7 L1533.6,1683.8 L1540.1,1683.9 L1544.7,1679.3 L1542.6,1683.2 L1543.6,1688.3 L1546.3,1694.7 L1547.3,1699.3 L1545.6,1702.9 L1544,1706.6 L1540.1,1710.1 L1534.5,1712.6 L1527.8,1713.1 L1521.2,1715.1 L1518.5,1717.8 L1515.5,1719.3 L1511,1721.8 L1508.2,1724.9 L1504,1727.7 L1500.3,1727.3 L1497,1727 L1494.9,1730.1 L1490.6,1733 L1486.7,1735.1 L1481.6,1734.7 L1475.9,1738.1 L1471,1740.2 L1467.8,1742.4 L1462.4,1739.6 L1458,1738.1 L1453.9,1737.8 L1448.4,1737.8 L1444.7,1738.8 L1440.7,1735 L1435.4,1734.7 L1432.1,1737.3 L1427.9,1738 L1423.1,1740.9 L1420.9,1745.5Z" fill="#0e6567" />
<path d="M1577,1739.3 L1581.4,1738.4 L1585.3,1739.2 L1590.9,1736.8 L1594.1,1736.4 L1598.1,1735.3 L1601.7,1731 L1607.3,1727.9 L1610.7,1729.7 L1614.5,1728.7 L1618.4,1727.2 L1623.2,1727.9 L1627.8,1730.9 L1634,1730.1 L1635.8,1735.2 L1640,1738.8 L1644,1742.1 L1644.8,1747 L1649.3,1748.7 L1651.8,1751.9 L1655.7,1757.1 L1657.1,1762.4 L1660.1,1768.6 L1662.1,1773.6 L1660.2,1777.8 L1662.3,1780.1 L1663.5,1784.5 L1666.6,1787.5 L1670.9,1790.1 L1674,1792.7 L1674.9,1796.3 L1673.3,1801.4 L1672.5,1807 L1670.6,1809.9 L1668.9,1813.2 L1663.2,1816.3 L1657.7,1819.2 L1655.2,1824 L1650.7,1823.9 L1647.8,1827 L1643.2,1826.3 L1638.6,1826.5 L1635.6,1824.9 L1631.2,1825.3 L1626.3,1824 L1619.4,1824.6 L1615.1,1826.6 L1610.9,1830.1 L1607.3,1832.2 L1603.7,1831.3 L1597.9,1832.6 L1594.3,1835.8 L1589.4,1836.3 L1585.4,1836.5 L1580.6,1839.1 L1575.5,1841.1 L1571.9,1840.4 L1567.8,1840.9 L1564.8,1836.2 L1564.6,1832.2 L1566.3,1828.6 L1563.2,1824 L1564.4,1818.8 L1568,1817.5 L1570.9,1815.3 L1574.2,1820.2 L1574,1827 L1575.6,1824 L1578.3,1820.7 L1581.3,1817.7 L1586.3,1816.3 L1591.3,1812.2 L1597.1,1810.1 L1599.9,1811.4 L1604,1813.7 L1610.9,1813.2 L1615.1,1810.8 L1618.6,1809.5 L1622.2,1810.8 L1626.3,1809.2 L1632.1,1809.7 L1638.6,1811.7 L1644.2,1809.9 L1647.6,1806.7 L1650.9,1805.5 L1653.5,1801.9 L1656,1799.6 L1660.2,1796.3 L1655,1796.5 L1651.8,1796.2 L1647.8,1796.3 L1644.9,1791.4 L1642.7,1788.1 L1638.5,1785.4 L1635.5,1783.9 L1632.3,1780.5 L1631,1777.1 L1625.1,1774.3 L1623.2,1770.1 L1620.5,1766.2 L1616.8,1762.7 L1616.5,1758.5 L1615.5,1754.7 L1609.4,1751.6 L1603.3,1754.4 L1599.5,1756.9 L1595.5,1756.2 L1592.5,1750.4 L1590.1,1747.8 L1586.3,1747 L1580.3,1743.7Z" fill="#0e6567" />
<path d="M1558.6,1777.8 L1564,1778.1 L1567.8,1780.9 L1574,1780.8 L1580.1,1779.3 L1582.1,1783.1 L1585.7,1785.4 L1587.8,1791.6 L1587.1,1796.4 L1586.3,1802.4 L1579.8,1803.4 L1577.6,1801.5 L1574,1799.3 L1571,1797 L1566.3,1796.3 L1563.9,1792.9 L1563.2,1787 L1562.7,1781Z" fill="#0e6567" />
<path d="M1574.9,1894.2 L1576.6,1899.9 L1581.4,1901 L1583.2,1904 L1589.3,1905.9 L1591.8,1909 L1595.5,1911.7 L1601.5,1912.3 L1605.2,1911.8 L1607.8,1908.6 L1611.1,1913.4 L1614,1916.3 L1616.7,1917.7 L1621.1,1918.2 L1626.3,1917.9 L1633.2,1918.2 L1638.6,1914.8 L1645.3,1913.8 L1649.7,1915.7 L1654,1914.8 L1658.5,1916.9 L1663,1915.3 L1666.7,1914 L1669.4,1911.7 L1673,1909.2 L1676.3,1908.3 L1681.7,1908 L1676,1911.5 L1670.8,1911.2 L1667,1913.5 L1663.2,1917.9 L1659.7,1921.6 L1655.9,1921.7 L1651.8,1921.3 L1647.8,1920.9 L1643,1922.1 L1638.6,1922.5 L1637.1,1927.1 L1632,1925.5 L1626.3,1928 L1628.4,1924.9 L1630.9,1922.5 L1627.4,1922.7 L1623.7,1923.2 L1617.1,1921.9 L1611,1919.8 L1604.7,1919.4 L1600.7,1919.6 L1596.6,1918.6 L1592.4,1914.8 L1590.1,1910.9 L1585.8,1909.7 L1581.7,1905.5 L1578.4,1901 L1578.1,1897.5Z" fill="#0e6567" />
<path d="M1603.2,1942.5 L1606.5,1944.5 L1611.6,1943.8 L1617.1,1940.9 L1620.2,1942.2 L1624.4,1943.6 L1628.6,1943.5 L1632.5,1945.6 L1635.3,1943.4 L1640,1944.1 L1643.6,1945.6 L1647.8,1945.6 L1653.7,1948.2 L1658.6,1950.2 L1658.5,1953.5 L1657.1,1957.9 L1663.2,1959.4 L1660.2,1965.6 L1654.1,1962.6 L1647.8,1962.5 L1644,1960.8 L1639.7,1962.5 L1636.1,1962.4 L1632.5,1964 L1629.9,1965.8 L1625.7,1967 L1620.1,1970.2 L1618.2,1967.2 L1615.8,1964.4 L1612.4,1959.4 L1611,1955.1 L1607.8,1950.2 L1604.6,1947.3Z" fill="#0e6567" />
<path d="M1330.8,1957.9 L1333.8,1961.1 L1336.9,1962.5 L1343.1,1964 L1346.2,1967.1 L1344.6,1971.7 L1339.1,1970.5 L1335.4,1967.1 L1331.4,1964.6 L1330.2,1960.9Z" fill="#0e6567" />
<path d="M1340,1987.1 L1343,1985.6 L1345,1982.1 L1349.3,1979.4 L1353.8,1979 L1356.9,1976.3 L1358.5,1980.8 L1356.9,1984 L1355.4,1987.4 L1352.3,1990.2 L1350.8,1996.4 L1346.2,1993.3 L1342.8,1990.3Z" fill="#0e6567" />
<path d="M1813.9,1991.7 L1819.9,1990.1 L1822.6,1986.9 L1826.2,1985.5 L1830,1984.1 L1833.9,1980 L1837.8,1980.3 L1841.6,1979.4 L1844.3,1976.5 L1844.1,1972.3 L1844.7,1967.1 L1848.3,1969 L1853.6,1967.1 L1857.1,1967 L1860.1,1964 L1863.1,1960.4 L1863.4,1957.1 L1866.5,1954.6 L1869.3,1953.2 L1868,1946.5 L1870.8,1942.4 L1872.8,1939.6 L1877.4,1938.3 L1880.8,1935.7 L1884.7,1936.3 L1886.7,1931.1 L1887.8,1927 L1891.6,1927.7 L1895.9,1925.7 L1900,1924.8 L1903.2,1920.9 L1910.1,1920 L1912.6,1917.2 L1915.5,1914.7 L1919.4,1909.6 L1924,1908.3 L1927.8,1907 L1932.3,1904.4 L1936.3,1903.2 L1940.3,1905.7 L1946.3,1904 L1949,1902.1 L1952.4,1899.3 L1957.1,1904.1 L1961.7,1905.5 L1964.1,1910 L1967.8,1913.2 L1969.9,1911 L1973.8,1909.6 L1979.4,1908.4 L1983.2,1910.1 L1987.1,1912 L1990.6,1912 L1995.5,1914.7 L1996.6,1919.7 L2000.1,1922.4 L2002.5,1920.3 L2006.6,1917.9 L2009.7,1914.8 L2014,1914.7 L2015.9,1910.2 L2017.1,1907 L2021.7,1905.9 L2026,1905 L2029,1904.9 L2032.5,1902.4 L2036.3,1899.7 L2041,1898.4 L2045.5,1896.9 L2050.9,1899.3 L2051.7,1895.6 L2056.1,1892.8 L2059.7,1892.1 L2063.2,1890.1 L2064,1885.2 L2064.6,1881.7 L2069.4,1877.8 L2072.7,1875.7 L2077.6,1873.8 L2082.2,1872.7 L2084.8,1868.6 L2087.9,1862.7 L2091.8,1859.1 L2094,1856.2 L2099.5,1855.1 L2104.2,1852.3 L2108.9,1851.7 L2112.5,1850.1 L2116,1844.2 L2114.3,1840 L2115.6,1834.7 L2115.6,1828.3 L2117.5,1825.6 L2120.2,1822.4 L2122.6,1816.8 L2126.1,1813 L2126.3,1808.5 L2131.9,1808.7 L2137.1,1813.1 L2143.4,1815.7 L2147.1,1816.9 L2152.5,1816.2 L2156.3,1819.9 L2160.2,1822.4 L2160.9,1827.6 L2161.7,1831.6 L2164,1835 L2163.4,1839.2 L2167.9,1842.4 L2170.1,1840 L2174.2,1838.8 L2180.2,1839.3 L2183.6,1836.9 L2189.4,1837.8 L2193.5,1838.7 L2196.6,1839.3 L2200,1842.2 L2204.8,1843.9 L2201.2,1848.2 L2197.1,1850.1 L2197.2,1855.1 L2195.6,1859.3 L2191.1,1861.2 L2189.4,1865.5 L2192.1,1869.2 L2195.6,1874.7 L2199.1,1875.3 L2201.9,1879.3 L2204.8,1883.9 L2207.2,1888.5 L2211,1893.2 L2212.6,1898.9 L2214.8,1901.5 L2215.6,1905.5 L2215.6,1910.6 L2217.2,1914.7 L2220.8,1914.3 L2223.9,1912.2 L2229.5,1914.7 L2234.2,1917.1 L2234,1920.6 L2237.2,1924 L2240.2,1930.1 L2238.4,1934.3 L2232.5,1936.3 L2229.5,1942.4 L2227.9,1937.8 L2225.4,1935.4 L2220.2,1933.2 L2215.5,1934.5 L2211,1939.4 L2207.2,1941 L2204.8,1943.2 L2198.7,1945.5 L2193,1947.9 L2189.3,1951.3 L2186.4,1953.2 L2183.2,1956.2 L2180.2,1960.9 L2174.8,1961.2 L2171,1960.9 L2167.7,1964.5 L2161.7,1967.1 L2157.5,1970.2 L2152.6,1972.4 L2150,1976.8 L2146.4,1979.4 L2141.7,1980.2 L2138.9,1983.5 L2135.7,1984.9 L2131,1985.5 L2127.2,1988.1 L2121.7,1991.7 L2118.6,1994.2 L2114.6,1996.8 L2111.4,1999.8 L2109.4,2004 L2104.2,2008.3 L2102.1,2011.6 L2097.1,2013.2 L2093.3,2014.7 L2089.2,2017.9 L2086.1,2020.1 L2081.7,2019.4 L2075.8,2020.6 L2073.2,2022.1 L2069.4,2024 L2065.3,2025.3 L2062.4,2025.9 L2057.1,2030.2 L2051.5,2033.7 L2047.2,2035.6 L2044.8,2037.9 L2039.3,2038.3 L2035.5,2039.4 L2038.6,2034.6 L2041.7,2028.6 L2044.8,2025.2 L2047.8,2019.4 L2050.2,2016.8 L2054.2,2016.6 L2056.2,2013.1 L2057.1,2010.2 L2061.7,2006.9 L2063.2,2000.9 L2059.1,1997.8 L2054,1997.8 L2050.9,1991.7 L2054.9,1990.7 L2058.1,1988.5 L2063.2,1985.5 L2067.8,1980.4 L2071.6,1980.7 L2075.5,1979.4 L2077.6,1975.2 L2080.1,1972.2 L2086.3,1970.1 L2086.6,1966.4 L2086.3,1962.7 L2088.6,1958.9 L2087.9,1954.7 L2083.3,1956.9 L2078.6,1957.8 L2076.5,1961.2 L2072.6,1962 L2069.4,1967.1 L2063.8,1968.5 L2060.2,1973.2 L2056.2,1974.6 L2050.9,1973.2 L2047.8,1975 L2045.6,1978.3 L2041.7,1982.5 L2036.8,1986.8 L2033.1,1986.6 L2029.4,1987.1 L2022.6,1987.6 L2018.9,1987.6 L2014,1987.1 L2010.4,1983.9 L2004.7,1980.9 L1998.6,1984 L2000.9,1989.2 L2000.1,1993.2 L1995.5,1991.7 L1994.8,1998.6 L1992.6,2000.9 L1989.4,2004 L1986.3,2007 L1984.6,2011.5 L1980.1,2016.3 L1977.5,2018.5 L1976.4,2022.2 L1972.4,2025.4 L1970.9,2028.6 L1967.2,2030.7 L1965.1,2034.4 L1961.5,2034.8 L1958.6,2037.9 L1952.9,2041.7 L1949.4,2044.6 L1946.3,2045.6 L1946.3,2049.8 L1943.2,2053.3 L1946.3,2059.4 L1940.8,2060.2 L1937,2065.6 L1940.1,2070.2 L1933.7,2071.2 L1929.3,2073.3 L1927.8,2067.1 L1921.9,2066.4 L1919.5,2064.3 L1915.5,2062.5 L1911,2059.1 L1906.8,2059.3 L1900.1,2057.9 L1896.3,2059.7 L1895,2063.1 L1890.9,2067.1 L1885.8,2066.8 L1880.5,2066.6 L1875.5,2066.3 L1872.4,2064 L1869.3,2059.1 L1866,2057.5 L1863.1,2053.3 L1859.9,2049 L1857,2045.6 L1855.7,2050.6 L1852.4,2056.3 L1846.9,2058.4 L1841.6,2059.4 L1840.3,2063.2 L1835.4,2065.6 L1834.1,2068.4 L1832.8,2072.6 L1832.4,2077.9 L1830.2,2084.1 L1828.9,2087.5 L1827.7,2091.7 L1825.3,2088.1 L1823.8,2083.9 L1823.1,2077.9 L1827.8,2072.8 L1827.2,2069.5 L1827.7,2065.6 L1830.6,2062.5 L1830.6,2058.4 L1835.4,2054.8 L1830.1,2054.8 L1827.1,2056.9 L1823.1,2056.3 L1821.6,2062.5 L1817,2065.6 L1818.7,2060.4 L1818.5,2056.3 L1822,2052.8 L1826.2,2050.2 L1828,2046 L1832.4,2044 L1829.3,2037.9 L1834.4,2035.1 L1835.9,2031.9 L1837,2028.6 L1839.4,2022.2 L1841.3,2017.9 L1844.7,2016.3 L1844.8,2012.9 L1841.9,2009 L1837,2005.5 L1832.5,2006.4 L1827.7,2004 L1826.2,1997.8 L1819.8,2000.5 L1813.9,1999.4 L1814.2,1995.8Z" fill="#0e6567" />
</g>
<path d="M1731.2,1965.6 L1735,1964.7 L1738,1963.1 L1742.9,1963.7 L1744.2,1960.6 L1749.1,1958.5 L1754,1957.9 L1760.2,1959.4 L1765.7,1958.2 L1771.3,1955.7 L1776.2,1957.6 L1781.1,1959.4 L1783.6,1961.9 L1788.5,1959.4 L1794.7,1958.8 L1791.2,1959.2 L1788.5,1962.5 L1782.3,1964.3 L1776.2,1967.4 L1771.3,1971.1 L1769.4,1973.6 L1772.5,1974.8 L1776.2,1974.2 L1779.9,1974.5 L1777.4,1977.9 L1774.3,1978.8 L1769.4,1978.5 L1765.7,1980.6 L1760.8,1981.6 L1754.6,1983.4 L1749.1,1984.6 L1745.4,1986.2 L1742.3,1989 L1738,1989.6 L1734.9,1990.8 L1730.6,1989 L1729.4,1987.1 L1724.5,1988.3 L1720.8,1990.8 L1714.6,1992 L1712.8,1995.1 L1710.9,1998.2 L1707.2,2001.9 L1706,2006.2 L1702.9,2009.9 L1701.1,2008.7 L1702.3,2005 L1703.2,2000.7 L1700.5,1998.8 L1704.2,1995.7 L1707.9,1992.6 L1712.2,1989.6 L1715.9,1987.1 L1719.6,1984.6 L1723.9,1980.9 L1726.9,1977.9 L1728.2,1974.2 L1730.6,1969.9Z" fill="#fff" />
<path d="M1734,1977.6 L1739.9,1977.3 L1736.8,1980.3 L1734.3,1980Z" fill="#bfe4f9" />
<path d="M1739.9,1982.2 L1743.6,1980 L1749.1,1980.6 L1746.6,1984 L1742.9,1985.6Z" fill="#bfe4f9" />
<path d="M1570.9,2108.6 L1572.9,2104.7 L1576.7,2103.5 L1578.8,2099.8 L1583.2,2097.2 L1587,2097 L1589.5,2094.1 L1595.5,2092.3 L1599.6,2092 L1604.9,2094.1 L1610.9,2091.1 L1615.4,2092.8 L1618.7,2093.4 L1623.2,2097.8 L1621.7,2100.9 L1619.1,2098.6 L1615.2,2095.7 L1611,2097.1 L1607.8,2095.4 L1600.9,2095 L1595.5,2096.3 L1589.6,2098.8 L1584.7,2101.5 L1582.6,2104.9 L1578.9,2106.4 L1575.5,2110.8Z" fill="#fff" />
<path d="M955.5,1340.9 L961.3,1339.7 L965,1341.6 L967.8,1343.9 L973.2,1342.7 L977.4,1343.4 L980.1,1345.5 L986.3,1344.6 L990.9,1347 L988.4,1350 L986.3,1354.7 L981.6,1358.3 L977,1362.4 L975.8,1365.3 L971.8,1367.4 L967.8,1370.1 L962.3,1373.1 L960.1,1379.3 L965.1,1377.9 L970.9,1379.3 L974.9,1378.1 L980,1379.2 L986.3,1380.3 L990.2,1383.1 L994,1382.6 L997.5,1382.7 L1001.7,1383.9 L1004.1,1387.5 L1006.9,1388.6 L1007.3,1393.3 L1004.7,1396.3 L999.2,1400 L997.1,1405.5 L995.4,1408.6 L994.9,1413 L990.9,1417.8 L987.6,1421.5 L984.7,1427 L982.4,1431.5 L977,1433.2 L972.9,1436.1 L967.8,1437.8 L966.3,1440.9 L972.3,1442.4 L977,1442.4 L981.9,1446.1 L986.3,1445.5 L988,1451.1 L992.4,1453.2 L995.4,1457.5 L997.1,1464 L997.2,1470.3 L998.6,1476.3 L999.7,1481.8 L1002.7,1485.3 L1003.2,1488.6 L1005.8,1491.4 L1006.1,1495.5 L1009.4,1500.9 L1008.7,1504.8 L1011.7,1508.5 L1014.8,1511 L1017.1,1513.2 L1019.9,1518.3 L1021.7,1522.5 L1020.1,1526.3 L1018.6,1531.7 L1021.6,1533.4 L1023.3,1537.3 L1023.2,1542.5 L1025.7,1548.1 L1026.3,1553.3 L1023.3,1557.4 L1023.2,1562.5 L1021.7,1568.6 L1027.7,1566.9 L1032.5,1565.6 L1038.5,1565.2 L1044.8,1567.1 L1049.3,1571.6 L1054,1574.8 L1056.5,1578.4 L1055.5,1584 L1054.4,1588.3 L1054.8,1591.4 L1050.9,1596.4 L1045.8,1599.6 L1042.6,1602.7 L1041.7,1605.6 L1038.4,1608.7 L1032.5,1611.7 L1033.6,1615.1 L1034,1619.4 L1038,1620.8 L1041.7,1625.6 L1039.7,1629 L1036.3,1630 L1030.9,1630.2 L1026.9,1634.2 L1023.5,1634.3 L1020.1,1636.4 L1016,1639.2 L1010.9,1639.4 L1007.5,1637.3 L1003.2,1637.6 L999,1637.7 L995.5,1637.9 L991.2,1638.5 L985.5,1638.9 L980.8,1640.6 L977,1639.4 L972.9,1636.7 L968.4,1635.5 L961.7,1634.8 L958,1637.5 L953.1,1637.4 L946.3,1636.4 L940.8,1639.6 L933.9,1639.4 L928.4,1643.3 L924.7,1643.8 L921.6,1645.6 L916.1,1644.9 L912.4,1642.5 L908.7,1644.3 L905.1,1643.1 L900.1,1645.6 L893.9,1645.6 L891,1648.8 L887.8,1649.9 L884,1650.3 L880.6,1652.9 L877.2,1654.8 L872.4,1654.8 L875.1,1649.4 L878.5,1645.6 L880.3,1641.8 L885,1640 L890.9,1636.4 L897.3,1633.9 L903.2,1630.2 L906.2,1628.7 L910.4,1628.4 L915.5,1627.1 L921,1623.3 L927.8,1624.1 L928.8,1620.7 L933.2,1618.7 L936.8,1616.2 L940.1,1614.8 L944.9,1610.4 L949.3,1608.7 L943.3,1609.7 L937,1611.7 L933.3,1609.2 L927.8,1608.7 L925.7,1606 L923,1603 L918.6,1599.4 L915,1599.8 L911.3,1598.1 L908.4,1595.2 L906.2,1593.3 L900.4,1589.4 L893.9,1587.1 L898,1584.5 L900.1,1579.4 L903.8,1578.6 L908.2,1577.2 L912.3,1576.4 L915.5,1576.3 L918.4,1572.9 L921.7,1572.6 L927.8,1571.7 L925.7,1566.9 L921.6,1562.5 L918.6,1559.3 L918.5,1554.1 L914.8,1551.8 L912.4,1550.2 L915.7,1547.5 L921.6,1547.1 L920,1541.5 L919.7,1537.3 L920.1,1533.2 L923.4,1533.7 L927.8,1534.8 L933.6,1534.6 L937,1537.9 L941.1,1538.1 L944.7,1538.3 L948.9,1540.3 L952.4,1539.4 L954.9,1534.7 L955.5,1528.6 L956.8,1523.9 L961.7,1519.4 L963.8,1515.9 L963.2,1510.2 L958.8,1508.2 L955.5,1507.1 L953.1,1501.4 L952.4,1494.8 L953.1,1490.2 L954,1487.1 L957.2,1483.1 L958.6,1479.4 L955.7,1481.5 L952.5,1483.4 L946.3,1482.5 L943.2,1479.9 L939.7,1480 L933.9,1480.9 L930.3,1477 L924.7,1476.3 L921.6,1470.1 L925.3,1465.1 L927.8,1460.9 L931.6,1458.1 L937,1454.7 L933.8,1449.2 L930.9,1445.5 L931.1,1441.1 L927.8,1436.3 L925.5,1440.7 L921.6,1445.5 L918.6,1451.4 L915.5,1454.7 L913.7,1450.6 L912.4,1445.5 L914.4,1439 L916.8,1436.6 L918.6,1433.2 L915,1431.3 L912.4,1427 L907.7,1431.6 L903.2,1433.2 L900.1,1439.4 L899.2,1433.1 L901.8,1428.7 L903.5,1423.9 L906.2,1420.9 L908.5,1415.6 L909.4,1411 L912.4,1408.6 L911.1,1402.4 L909.3,1396.3 L910.3,1393.4 L911.9,1389.3 L915.5,1383.9 L914.6,1378.1 L912.4,1371.6 L918,1369.9 L921.6,1365.5 L927.2,1365.6 L931,1364.5 L933.9,1362.4 L937.6,1359.4 L940.7,1356.4 L943.2,1350.1 L946.7,1348 L949.3,1343.9Z" fill="#8bd0f5" />
<path d="M844.7,1460.9 L847.4,1456.6 L850.3,1454.3 L855.6,1452 L860.1,1450.1 L864.3,1449.4 L867.4,1446.6 L872,1448.4 L875.5,1447.1 L879.4,1447.8 L884.7,1450.1 L889.5,1453.3 L893.9,1452.4 L897,1454.7 L900.4,1459.4 L904.7,1460.9 L903,1466.6 L905.6,1468.8 L906.2,1473.2 L906.2,1478.1 L910.9,1482.5 L911.6,1486.5 L909.3,1491.7 L906.8,1496 L900.1,1497.8 L896.5,1501.1 L890.9,1504 L891.8,1509.3 L890.1,1513.2 L887.8,1519.4 L886.4,1523.6 L885.7,1527.2 L885.7,1530.6 L886.2,1534.8 L885,1540.6 L883.2,1544.6 L881.6,1547.1 L879.4,1551.1 L875.5,1556.3 L873.8,1560.7 L872.4,1564 L868.2,1565.6 L862.4,1563.5 L859,1562.5 L853.9,1562.5 L851,1565.2 L845.4,1566.4 L840,1569.9 L835.4,1568.6 L828.8,1569.7 L824.3,1570.4 L820,1570.8 L817,1573.3 L811.1,1574.7 L804.6,1573.2 L799.2,1572.1 L795.5,1571.6 L792.3,1573.3 L790.3,1570.2 L786.6,1566.8 L781.6,1562.5 L779.9,1556.4 L778.4,1550.8 L780.7,1547.1 L786.1,1543.8 L789.3,1540.9 L793.8,1540.4 L795.9,1537.8 L798.1,1535.2 L801.6,1531.7 L803.2,1528.9 L806.3,1525.7 L811.4,1522.7 L813.9,1519.4 L818.4,1515.7 L823.1,1514.8 L820.3,1511.5 L815.6,1510.6 L812.9,1508 L807.7,1507.1 L808,1500.9 L803.8,1498.4 L803.1,1494.8 L808.1,1490.6 L810.8,1485.5 L810.4,1480.8 L807.7,1476.3 L810.2,1472.1 L815.4,1470.1 L819.7,1471.2 L823.2,1474.3 L829.3,1473.2 L833.7,1472.5 L836.5,1474.8 L841.6,1476.3 L845.4,1470.7 L850.8,1467.1 L847.2,1465.5Z" fill="#8bd0f5" />
<path d="M909.3,1350.1 L914.7,1348.7 L919.2,1343.9 L924.6,1341 L927.8,1337.8 L929.3,1342.4 L924.2,1345.9 L922.4,1349.5 L921.6,1353.2 L917,1356.8 L913.9,1359.3 L909.3,1356.2Z" fill="#8bd0f5" />
<path d="M900.1,1365.5 L897.2,1368.6 L896.8,1371.8 L893.9,1377.8 L889.9,1382.1 L889.3,1388.6 L892.4,1387 L894.3,1383.8 L898.2,1380.6 L899.1,1376.7 L900.1,1371.6Z" fill="#8bd0f5" />
<path d="M986.3,1328.5 L992.6,1327.3 L996.5,1324.5 L1001,1321.5 L1004.7,1320.8 L1002.8,1324.9 L1001.7,1328.5 L999.1,1330.8 L995.4,1332 L992.4,1336.2 L986.3,1337.8 L987.2,1333Z" fill="#8bd0f5" />
<path d="M1029.4,1282.4 L1035.8,1280.5 L1038.1,1276.1 L1042.3,1275.2 L1044.8,1273.1 L1046.5,1276.6 L1046.5,1279.9 L1043.2,1285.4 L1041.2,1288.7 L1039.6,1291.9 L1036.3,1294.8 L1035.5,1297.8 L1033.3,1301.5 L1030.9,1303.9 L1031.4,1297.5 L1027.8,1291.6 L1027.1,1286.7Z" fill="#8bd0f5" />
<path d="M941.6,1199.3 L945.8,1199.5 L948.9,1198.9 L954.2,1199 L958.6,1196.2 L960.1,1202.3 L954.6,1204.6 L949.3,1208.5 L947.9,1212.3 L946.3,1217.7 L946.2,1223.4 L947.8,1228.5 L944.7,1223.9 L943.6,1218 L944.7,1211.6 L944.4,1205.3Z" fill="#8bd0f5" />
<path d="M1204.9,1966.3 L1209.7,1963.9 L1214.1,1960.2 L1219.3,1957.2 L1222.5,1954.7 L1224.9,1950.9 L1226.4,1956.4 L1228.3,1959.3 L1229.5,1963.2 L1229.6,1968.2 L1229.5,1971.7 L1228.5,1974.7 L1227.9,1978.6 L1228.4,1982.7 L1226.6,1986.3 L1228.1,1990 L1226.4,1994 L1223.7,1996.9 L1223.8,2000.5 L1221.8,2006.3 L1217.7,2007.2 L1214.1,2004.8 L1212.8,2001.7 L1208.8,1999.6 L1206.4,1994 L1207.1,1988.2 L1204.9,1981.7 L1203.9,1978.3 L1203.3,1974.1 L1203.2,1970.2Z" fill="#bfe4f9" />
<path d="M1192.5,2024.8 L1197.7,2020.5 L1200.9,2018.6 L1204.9,2018.6 L1207.7,2016.5 L1211.6,2015.7 L1217.2,2012.5 L1221.8,2012.9 L1224.9,2014.4 L1229.5,2018.6 L1233.9,2022.6 L1235,2026.6 L1235.6,2031 L1234.9,2035.1 L1234.3,2039.8 L1235.6,2046.4 L1235.3,2050.8 L1233,2055.3 L1234.9,2060.5 L1232.6,2064.8 L1233.5,2068.5 L1235,2071.5 L1233.3,2076 L1232.6,2080.2 L1229.2,2083.7 L1229.2,2089 L1229.5,2095.6 L1229.5,2090 L1223,2091.5 L1219.1,2091.8 L1214.1,2091.6 L1208.9,2095.5 L1207.9,2100.8 L1202.1,2097.7 L1198.7,2093.1 L1199.6,2088.7 L1198.4,2085.2 L1196.6,2079 L1195.6,2074.6 L1195.6,2070.4 L1194.1,2066.9 L1193.4,2060.7 L1197.2,2056.2 L1195.6,2049.4 L1193.1,2043.3 L1190.1,2040.4 L1189.5,2037.1 L1193,2031.3Z" fill="#bfe4f9" />
<path d="M1023.2,2061.7 L1026.1,2057.4 L1032,2056.2 L1036.3,2055.6 L1038.6,2052.5 L1045.2,2053.7 L1047.2,2057.1 L1050.9,2058.7 L1054,2064.8 L1053.3,2069.1 L1050.4,2071.9 L1044.8,2074.1 L1040.1,2074.3 L1035.5,2075.6 L1033.8,2070.7 L1027.9,2067.9 L1026.2,2065.1Z" fill="#bfe4f9" />
<path d="M1064.8,2051 L1069.7,2051.1 L1075.6,2052.5 L1078.6,2058.7 L1073,2059.1 L1069.4,2057.1 L1067.1,2053.7Z" fill="#bfe4f9" />
<path d="M986.3,2083.3 L991,2082.1 L993.4,2080 L997.1,2078.7 L998.6,2084.8 L993.8,2087.3 L990.9,2091 L990.3,2087Z" fill="#bfe4f9" />
<path d="M1313.9,2131.7 L1318.7,2127 L1324.6,2127.1 L1330.2,2123.8 L1336.9,2124 L1340.2,2126 L1343.4,2128.3 L1349.3,2130.2 L1355,2126.9 L1361.6,2128.6 L1366.4,2127.4 L1370.3,2126.2 L1377,2125.5 L1383.6,2123.2 L1388.8,2123.2 L1392.3,2120.9 L1397.3,2119 L1401,2118.5 L1404.7,2117.9 L1401.8,2123.1 L1401.6,2128.6 L1399.2,2133.4 L1397,2137.9 L1395.6,2141.9 L1392.3,2147.1 L1395.9,2151.9 L1395.4,2156.3 L1396.6,2159.8 L1400,2162.5 L1396.1,2166.4 L1395.4,2171.7 L1392.7,2175.4 L1389.3,2176.3 L1383.9,2175.1 L1380,2174.8 L1376.7,2170.9 L1373.6,2168.4 L1370.8,2167.1 L1367.6,2162.6 L1361.6,2160.9 L1357.5,2160.4 L1355,2158.3 L1349.3,2156.3 L1344.9,2152.5 L1341.2,2151.1 L1336.9,2150.2 L1330.1,2150.2 L1324.6,2147.1 L1321.2,2142 L1315.4,2140.9 L1313.1,2136.6Z" fill="#bfe4f9" />
<path d="M1906.4,2150.2 L1909.2,2146 L1912.6,2142.5 L1919,2140.7 L1920.6,2137.6 L1924.9,2134.8 L1926.8,2131.5 L1930.2,2129.9 L1936.2,2130.6 L1940.3,2127.1 L1944.1,2125 L1947.3,2121.4 L1951.1,2116.9 L1955.7,2116.3 L1960.6,2112.9 L1961.9,2109.4 L1966.4,2107.1 L1961.2,2111 L1959.3,2115.9 L1958.8,2119.4 L1957.7,2125.1 L1952.6,2128.6 L1956.3,2132.2 L1958.8,2134.8 L1955.7,2140.1 L1953.6,2142.4 L1949.5,2144 L1947.3,2146 L1943.7,2148.6 L1940.3,2153.3 L1934.5,2156.6 L1931,2160.9 L1927.4,2159.4 L1923.9,2160.1 L1919.7,2160.2 L1915.7,2160.9 L1912.1,2159.4 L1909.5,2156.3Z" fill="#bfe4f9" />
<path d="M1623.2,2054.7 L1628.1,2055.3 L1632.5,2057.8 L1636.2,2058.1 L1639.8,2062 L1642.7,2065 L1644.8,2070.1 L1650.3,2072.7 L1652.3,2077.9 L1656.2,2081.4 L1657.1,2085.5 L1654,2088.6 L1649.3,2083.5 L1645.8,2080.1 L1641.7,2079.4 L1638.1,2076.7 L1634.9,2075.8 L1632.1,2073.1 L1630.9,2068.6 L1627.9,2066.7 L1626.5,2062.1 L1621.7,2059.4Z" fill="#bfe4f9" />
<path d="M1651.2,1992 L1654.4,1989.6 L1658,1992 L1657.3,1996.5 L1653.6,1997.6 L1650.9,1995.2Z" fill="#bfe4f9" />
<path d="M1679.3,1997.1 L1682.5,1995.5 L1685.2,1997.6 L1683.3,2000 L1680.1,1999.7Z" fill="#bfe4f9" />
<path d="M1686.5,2006.4 L1690.5,2003.5 L1694.1,2004.8 L1693.7,2008.8 L1689.7,2009.9 L1687.3,2008.8Z" fill="#bfe4f9" />
<path d="M1670.5,2016 L1675.3,2014.4 L1680.4,2015.2 L1679.3,2021.6 L1675.3,2023.2 L1671.3,2020.8Z" fill="#bfe4f9" />
<path d="M1620.8,2018.4 L1623.7,2016.9 L1627.2,2015.2 L1630.8,2015.3 L1635.2,2014.4 L1638.2,2019.6 L1640,2023.2 L1635.2,2024 L1630.4,2020.8 L1625.6,2024 L1622.4,2022.3Z" fill="#bfe4f9" />
<path d="M1697.7,2040 L1700.4,2036.9 L1704.1,2035.2 L1708.3,2032.7 L1712.1,2032.8 L1716.7,2033.9 L1720.1,2036.8 L1723.3,2039.8 L1728.1,2040 L1722.4,2041.8 L1720.1,2046.4 L1713.7,2045.6 L1710.5,2040 L1706.5,2043.2 L1700.9,2043.2Z" fill="#bfe4f9" />
<path d="M1702.5,2064 L1708.9,2062.4 L1712.1,2067.3 L1710.1,2070.4 L1711.3,2075.3 L1706.5,2077.7 L1704.9,2072.1 L1704.5,2067.8Z" fill="#bfe4f9" />
<path d="M1693.7,2064 L1696.1,2064.8 L1695.7,2067.3 L1693.8,2066.9Z" fill="#bfe4f9" />
<path d="M1729.7,2087.3 L1733.4,2088.1 L1737.7,2085.7 L1741.7,2086.3 L1745.7,2086.5 L1740.9,2089.7 L1737,2088.2 L1732.9,2090Z" fill="#bfe4f9" />
<path d="M1713.7,2096.9 L1717.8,2093.6 L1721.7,2093.7 L1722.5,2095.3 L1719.3,2099 L1715.3,2100.1Z" fill="#bfe4f9" />
<path d="M1672.9,2092.1 L1676.9,2093.7 L1680.3,2099.7 L1686.5,2101.7 L1691.3,2104.9 L1688.1,2105.7 L1684.8,2104.2 L1681.7,2102.5 L1678.4,2098.9 L1675.3,2097.7Z" fill="#bfe4f9" />
<path d="M1692.9,2108.1 L1697.7,2106.5 L1698.5,2108.9 L1693.7,2110.5Z" fill="#bfe4f9" />
<path d="M1662.4,2104.9 L1666.5,2104.9 L1666.9,2110.5 L1663.2,2110.5Z" fill="#bfe4f9" />
<path d="M1678.5,2109.7 L1681.7,2108.9 L1682.5,2112.9 L1679.3,2113.7Z" fill="#bfe4f9" />
<path d="M1697.7,2117.7 L1702.5,2115.3 L1705.7,2120.1 L1704.1,2125.7 L1699.3,2126.5 L1697.3,2122.5Z" fill="#bfe4f9" />
<path d="M1688.1,2121.7 L1693.7,2119.3 L1695.3,2123.3 L1690.5,2127.3Z" fill="#bfe4f9" />
<path d="M1670.5,2138.5 L1676.1,2136.9 L1677.7,2140.1 L1672.1,2142.5Z" fill="#bfe4f9" />
<path d="M1697.7,2132.1 L1702.5,2130.5 L1703.3,2134.5 L1698.5,2135.3Z" fill="#bfe4f9" />
<path d="M1712.1,2126.5 L1716.3,2123.9 L1720.1,2121.7 L1720.9,2123.3 L1716.9,2126.9 L1713.7,2128.9Z" fill="#bfe4f9" />
<path d="M1746.5,2119.3 L1751.1,2116.7 L1756.9,2114.5 L1758.5,2116.9 L1753,2118.2 L1748.9,2122.5Z" fill="#bfe4f9" />
<path d="M1739.3,2109.7 L1744.1,2108.1 L1744.9,2112.1 L1740.1,2112.9Z" fill="#bfe4f9" />
<path d="M1773.7,2136.1 L1775.3,2130.6 L1779.3,2128.1 L1783.5,2129 L1787.3,2126.5 L1786.5,2132.9 L1781.7,2137.3 L1780.9,2144.1 L1776.9,2148.6 L1774.5,2144.1 L1774.5,2139.4Z" fill="#bfe4f9" />
<path d="M1759.3,2154.5 L1762,2153.7 L1761.2,2158.2 L1762,2161.4 L1764.1,2166.5 L1760.9,2169.7 L1758.5,2163.3 L1757.4,2158.6Z" fill="#bfe4f9" />
<path d="M1630.4,2161.4 L1635.2,2160.1 L1637.2,2164.9 L1634,2168.1 L1630.8,2165.7Z" fill="#bfe4f9" />
<path d="M1654.4,2196.9 L1656.6,2192.3 L1655.2,2186.5 L1658.4,2180.9 L1662.4,2185.7 L1665.8,2183.8 L1670.5,2181.7 L1671.7,2186.2 L1676.9,2188.9 L1682.9,2188.5 L1688.1,2186.5 L1694.5,2186.4 L1700.9,2184.1 L1707,2183.1 L1713.7,2183.3 L1718.2,2183.7 L1721.7,2187.3 L1725.7,2183.8 L1729.7,2182.5 L1733,2181.6 L1737.7,2180.9 L1738.5,2187.3 L1736.9,2190.7 L1732.9,2192.1 L1727.1,2191 L1723.3,2193.5 L1720.1,2195.3 L1715.7,2196.3 L1713.4,2199 L1707.3,2198.5 L1703.9,2201.7 L1700.4,2202.7 L1694.5,2202.5 L1692.9,2200.1 L1687.7,2197 L1681.7,2196.9 L1678.5,2195.5 L1674.5,2196 L1668.9,2197.7 L1664,2195.3 L1659.2,2196.9Z" fill="#bfe4f9" />
<path d="M1237.7,1486.4 L1241,1483.1 L1247.6,1480.8 L1251.3,1481.5 L1254.3,1483.1 L1257.6,1487.5 L1259.8,1493 L1257.6,1498.6 L1253.2,1501.9 L1246.5,1500.8 L1242.1,1497.5 L1238.8,1491.9Z" fill="#8ab82b" />
<path d="M1262,1477.5 L1265.4,1474.3 L1269.8,1474.2 L1273.3,1472 L1274.2,1467.5 L1278.5,1466.6 L1283.1,1465.3 L1286.4,1462.6 L1293.1,1462 L1296.4,1467.5 L1295.3,1474.2 L1294.2,1479.7 L1289.7,1483.1 L1293.1,1488.6 L1294.2,1493 L1288.6,1496.4 L1285.3,1499.7 L1278.7,1497.5 L1273.1,1495.3 L1267.6,1491.9 L1266.5,1485.3 L1264.9,1480.6Z" fill="#8ab82b" />
<path d="M1263.1,1510.8 L1266.5,1506.3 L1270.2,1505 L1274.2,1505.2 L1278.1,1504.9 L1282,1504.1 L1285.9,1503.8 L1289.7,1503 L1295.3,1501.9 L1292.8,1504.8 L1289.7,1508.5 L1286.4,1513 L1283.1,1518.5 L1279.7,1518.7 L1276.4,1516.3 L1269.8,1514.1 L1267.5,1511.9Z" fill="#8ab82b" />
<path d="M1256.5,1513 L1257.2,1509.7 L1260.5,1506.9 L1260.1,1502.7 L1260.9,1499.7 L1262,1500.8 L1258.1,1506.1 L1258.3,1509.7 L1258.2,1513.5Z" fill="#8ab82b" />
<path d="M1309.7,1517.4 L1314.1,1514.1 L1317.5,1516.1 L1320.8,1518.5 L1323.4,1521.8 L1323,1525.2 L1317.4,1524.1 L1311.9,1523Z" fill="#8ab82b" />
<path d="M1342.4,1490.8 L1345.1,1490.3 L1349.3,1492.9 L1351.8,1495.3 L1351.2,1499.7 L1345.1,1498 L1342,1495.3Z" fill="#8ab82b" />
<path d="M1259.3,1419.3 L1265.4,1417.1 L1265.9,1418.8 L1260.9,1421Z" fill="#8ab82b" />
<path d="M1273.1,1439.8 L1275.9,1439.3 L1275.3,1440.9Z" fill="#8ab82b" />
<path d="M1420.1,1380.7 L1423.2,1383.1 L1424.1,1387.4 L1422.1,1392.4 L1419.2,1395.9 L1417.1,1401.6 L1414,1405.8 L1414.8,1411 L1413.6,1416.9 L1410.3,1422.5 L1407.8,1420.1 L1409.2,1415.8 L1408,1411.1 L1405.1,1405.9 L1404.7,1401.6 L1404.8,1396.5 L1406.1,1392.5 L1410.9,1387.7 L1414.6,1384.6Z" fill="#0072a8" />
<path d="M1383.8,1409.3 L1385.7,1410.8 L1384.9,1414.9 L1383.2,1418.7 L1383.2,1424.4 L1381.5,1431.1 L1378.6,1437 L1376.1,1435.4 L1377.1,1430.7 L1381.9,1427.4 L1383.5,1423.8 L1382.4,1420.3 L1381.4,1414.3Z" fill="#0072a8" />
<path d="M1474,1338.5 L1478.5,1334.7 L1483.2,1330.8 L1488.3,1332.6 L1494,1333.9 L1492.2,1337 L1492.5,1341.6 L1487.4,1343.5 L1483.2,1344.6 L1478.1,1340.6Z" fill="#0072a8" />
<path d="M1474,1355.4 L1478.5,1350.8 L1484.8,1349.3 L1490.3,1349 L1494,1346.5 L1500.2,1344.6 L1499.6,1347.9 L1500.2,1352.3 L1497,1353.2 L1492.9,1355.1 L1490.6,1359.2 L1487.9,1361.6 L1485.4,1364.8 L1480.2,1366.2 L1475.5,1361.6Z" fill="#0072a8" />
<path d="M1417.8,1297.1 L1423,1293.6 L1427,1291 L1433.8,1289.6 L1438.2,1289.7 L1440.9,1292.5 L1444.1,1295.4 L1445.5,1300.2 L1440.9,1301.5 L1436.3,1306.4 L1429.7,1307.5 L1426.4,1305.1 L1422.4,1304.8 L1420.2,1300.1Z" fill="#0072a8" />
<path d="M1002.0,1044.4 a30.8,30.8 0 0 0 42.9,0 a30.8,30.8 0 0 0 42.9,0 a30.8,30.8 0 0 0 42.9,0" fill="none" stroke="#0070a8" stroke-width="5" stroke-linejoin="miter"/>
<path d="M1002.0,1080.4 a30.8,30.8 0 0 0 42.9,0 a30.8,30.8 0 0 0 42.9,0 a30.8,30.8 0 0 0 42.9,0" fill="none" stroke="#0070a8" stroke-width="5" stroke-linejoin="miter"/>
<path d="M651.2,1685.4 a30.8,30.8 0 0 0 42.9,0 a30.8,30.8 0 0 0 42.9,0 a30.8,30.8 0 0 0 42.9,0" fill="none" stroke="#0070a8" stroke-width="5" stroke-linejoin="miter"/>
<path d="M651.2,1721.4 a30.8,30.8 0 0 0 42.9,0 a30.8,30.8 0 0 0 42.9,0 a30.8,30.8 0 0 0 42.9,0" fill="none" stroke="#0070a8" stroke-width="5" stroke-linejoin="miter"/>
<path d="M1418.9,2217.3 a30.8,30.8 0 0 0 42.9,0 a30.8,30.8 0 0 0 42.9,0 a30.8,30.8 0 0 0 42.9,0" fill="none" stroke="#0070a8" stroke-width="5" stroke-linejoin="miter"/>
<path d="M1418.9,2253.3 a30.8,30.8 0 0 0 42.9,0 a30.8,30.8 0 0 0 42.9,0 a30.8,30.8 0 0 0 42.9,0" fill="none" stroke="#0070a8" stroke-width="5" stroke-linejoin="miter"/>
<path d="M1719.3,2217.3 a30.8,30.8 0 0 0 42.9,0 a30.8,30.8 0 0 0 42.9,0 a30.8,30.8 0 0 0 42.9,0" fill="none" stroke="#0070a8" stroke-width="5" stroke-linejoin="miter"/>
<path d="M1719.3,2253.3 a30.8,30.8 0 0 0 42.9,0 a30.8,30.8 0 0 0 42.9,0 a30.8,30.8 0 0 0 42.9,0" fill="none" stroke="#0070a8" stroke-width="5" stroke-linejoin="miter"/>
<path d="M0,190.5 H1798 a44.5,44.5 0 0 1 0,89 H0 Z" fill="#2998d8"/>
<text x="215.1" y="253.8" font-size="67" font-weight="bold" fill="#fff" stroke="#fff" stroke-width="1.8" stroke-linejoin="round" textLength="238.2" lengthAdjust="spacingAndGlyphs">Climate</text>
<text x="465.6" y="253.8" font-size="67" font-weight="bold" fill="#fff" stroke="#fff" stroke-width="1.8" stroke-linejoin="round" textLength="224.0" lengthAdjust="spacingAndGlyphs">change</text>
<text x="702.9" y="253.8" font-size="67" font-weight="bold" fill="#fff" stroke="#fff" stroke-width="1.8" stroke-linejoin="round" textLength="245.7" lengthAdjust="spacingAndGlyphs">impacts</text>
<text x="959.8" y="253.8" font-size="67" font-weight="bold" fill="#fff" stroke="#fff" stroke-width="1.8" stroke-linejoin="round" textLength="63.1" lengthAdjust="spacingAndGlyphs">in</text>
<text x="1035.3" y="253.8" font-size="67" font-weight="bold" fill="#fff" stroke="#fff" stroke-width="1.8" stroke-linejoin="round" textLength="254.6" lengthAdjust="spacingAndGlyphs">Europe’s</text>
<text x="1307.9" y="253.8" font-size="67" font-weight="bold" fill="#fff" stroke="#fff" stroke-width="1.8" stroke-linejoin="round" textLength="229.3" lengthAdjust="spacingAndGlyphs">regions</text>
<text x="212.2" y="354.5" font-size="38" font-weight="normal" font-style="normal" fill="#000" textLength="1583.5" lengthAdjust="spacingAndGlyphs">Climate change is projected to impact the availability of water in Europe, putting additional</text>
<text x="212.2" y="400.0" font-size="38" font-weight="normal" font-style="normal" fill="#000" textLength="1637.5" lengthAdjust="spacingAndGlyphs">pressure on southern regions already facing water stress. Other parts of Europe are expected</text>
<text x="212.2" y="445.5" font-size="38" font-weight="normal" font-style="normal" fill="#000" textLength="1597.5" lengthAdjust="spacingAndGlyphs">to face more frequent flooding events, while low-lying regions are at risk from storm surges</text>
<text x="212.2" y="491.0" font-size="38" font-weight="normal" font-style="normal" fill="#000" textLength="311.5" lengthAdjust="spacingAndGlyphs">and sea level rise.</text>
<rect x="2717" y="242.8" width="1081" height="31.0" fill="#bfe4f9"/>
<text x="2725.8999999999996" y="269.3" font-size="26.4" font-weight="bold" font-style="normal" fill="#000" textLength="276.1" lengthAdjust="spacingAndGlyphs">Mediterranean region</text>
<text x="2725.4" y="307.3" font-size="26.4" font-weight="normal" font-style="normal" fill="#000" textLength="374.4" lengthAdjust="spacingAndGlyphs">Large increase in heat extremes</text>
<text x="2725.4" y="336.4" font-size="26.4" font-weight="normal" font-style="normal" fill="#000" textLength="460.2" lengthAdjust="spacingAndGlyphs">Decrease in precipitation and river flow</text>
<text x="2725.4" y="365.6" font-size="26.4" font-weight="normal" font-style="normal" fill="#000" textLength="312.5" lengthAdjust="spacingAndGlyphs">Increasing risk of droughts</text>
<text x="2725.4" y="394.7" font-size="26.4" font-weight="normal" font-style="normal" fill="#000" textLength="393.2" lengthAdjust="spacingAndGlyphs">Increasing risk of biodiversity loss</text>
<text x="2725.4" y="423.8" font-size="26.4" font-weight="normal" font-style="normal" fill="#000" textLength="332.8" lengthAdjust="spacingAndGlyphs">Increasing risk of forest fires</text>
<text x="2725.4" y="453.0" font-size="26.4" font-weight="normal" font-style="normal" fill="#000" textLength="620.6" lengthAdjust="spacingAndGlyphs">Increased competition between different water users</text>
<text x="2725.4" y="482.1" font-size="26.4" font-weight="normal" font-style="normal" fill="#000" textLength="471.4" lengthAdjust="spacingAndGlyphs">Increasing water demand for agriculture</text>
<text x="2725.4" y="511.2" font-size="26.4" font-weight="normal" font-style="normal" fill="#000" textLength="270.8" lengthAdjust="spacingAndGlyphs">Decrease in crop yields</text>
<text x="2725.4" y="540.3" font-size="26.4" font-weight="normal" font-style="normal" fill="#000" textLength="464.3" lengthAdjust="spacingAndGlyphs">Increasing risks for livestock production</text>
<text x="2725.4" y="569.5" font-size="26.4" font-weight="normal" font-style="normal" fill="#000" textLength="441.4" lengthAdjust="spacingAndGlyphs">Increase in mortality from heat waves</text>
<text x="2725.4" y="598.6" font-size="26.4" font-weight="normal" font-style="normal" fill="#000" textLength="591.2" lengthAdjust="spacingAndGlyphs">Expansion of habitats for southern disease vectors</text>
<text x="2725.4" y="627.7" font-size="26.4" font-weight="normal" font-style="normal" fill="#000" textLength="504.9" lengthAdjust="spacingAndGlyphs">Decreasing potential for energy production</text>
<text x="2725.4" y="656.9" font-size="26.4" font-weight="normal" font-style="normal" fill="#000" textLength="450.0" lengthAdjust="spacingAndGlyphs">Increase in energy demand for cooling</text>
<text x="2725.4" y="686.0" font-size="26.4" font-weight="normal" font-style="normal" fill="#000" textLength="805.4" lengthAdjust="spacingAndGlyphs">Decrease in summer tourism and potential increase in other seasons</text>
<text x="2725.4" y="715.1" font-size="26.4" font-weight="normal" font-style="normal" fill="#000" textLength="425.2" lengthAdjust="spacingAndGlyphs">Increase in multiple climatic hazards</text>
<text x="2725.4" y="744.2" font-size="26.4" font-weight="normal" font-style="normal" fill="#000" textLength="495.7" lengthAdjust="spacingAndGlyphs">Most economic sectors negatively affected</text>
<text x="2725.4" y="773.4" font-size="26.4" font-weight="normal" font-style="normal" fill="#000" textLength="884.6" lengthAdjust="spacingAndGlyphs">High vulnerability to spillover effects of climate change from outside Europe</text>
<rect x="2717" y="824.9" width="1081" height="31.399999999999977" fill="#0072a8"/>
<text x="2723.3999999999996" y="848.7" font-size="26.4" font-weight="bold" font-style="normal" fill="#fff" textLength="169.0" lengthAdjust="spacingAndGlyphs">Boreal region</text>
<text x="2722.9" y="885.3" font-size="26.4" font-weight="normal" font-style="normal" fill="#000" textLength="441.4" lengthAdjust="spacingAndGlyphs">Increase in heavy precipitation events</text>
<text x="2722.9" y="914.5" font-size="26.4" font-weight="normal" font-style="normal" fill="#000" textLength="487.6" lengthAdjust="spacingAndGlyphs">Decrease in snow, lake and river ice cover</text>
<text x="2722.9" y="943.8" font-size="26.4" font-weight="normal" font-style="normal" fill="#000" textLength="462.2" lengthAdjust="spacingAndGlyphs">Increase in precipitation and river flows</text>
<text x="2722.9" y="973.0" font-size="26.4" font-weight="normal" font-style="normal" fill="#000" textLength="835.4" lengthAdjust="spacingAndGlyphs">Increasing potential for forest growth and increasing risk of forest pests</text>
<text x="2722.9" y="1002.3" font-size="26.4" font-weight="normal" font-style="normal" fill="#000" textLength="502.8" lengthAdjust="spacingAndGlyphs">Increasing damage risk from winter storms</text>
<text x="2722.9" y="1031.5" font-size="26.4" font-weight="normal" font-style="normal" fill="#000" textLength="261.2" lengthAdjust="spacingAndGlyphs">Increase in crop yields</text>
<text x="2722.9" y="1060.8" font-size="26.4" font-weight="normal" font-style="normal" fill="#000" textLength="463.7" lengthAdjust="spacingAndGlyphs">Decrease in energy demand for heating</text>
<text x="2722.9" y="1090.0" font-size="26.4" font-weight="normal" font-style="normal" fill="#000" textLength="388.6" lengthAdjust="spacingAndGlyphs">Increase in hydropower potential</text>
<text x="2722.9" y="1119.3" font-size="26.4" font-weight="normal" font-style="normal" fill="#000" textLength="331.2" lengthAdjust="spacingAndGlyphs">Increase in summer tourism</text>
<rect x="2717" y="1175.1" width="1081" height="31.0" fill="#8ab82b"/>
<text x="2723.3999999999996" y="1200.0" font-size="26.4" font-weight="bold" font-style="normal" fill="#000" textLength="235.0" lengthAdjust="spacingAndGlyphs">Continental region</text>
<text x="2722.9" y="1237.1" font-size="26.4" font-weight="normal" font-style="normal" fill="#000" textLength="303.3" lengthAdjust="spacingAndGlyphs">Increase in heat extremes</text>
<text x="2722.9" y="1266.4" font-size="26.4" font-weight="normal" font-style="normal" fill="#000" textLength="397.7" lengthAdjust="spacingAndGlyphs">Decrease in summer precipitation</text>
<text x="2722.9" y="1295.7" font-size="26.4" font-weight="normal" font-style="normal" fill="#000" textLength="338.9" lengthAdjust="spacingAndGlyphs">Increasing risk of river floods</text>
<text x="2722.9" y="1325.0" font-size="26.4" font-weight="normal" font-style="normal" fill="#000" textLength="332.8" lengthAdjust="spacingAndGlyphs">Increasing risk of forest fires</text>
<text x="2722.9" y="1354.3" font-size="26.4" font-weight="normal" font-style="normal" fill="#000" textLength="443.9" lengthAdjust="spacingAndGlyphs">Decrease in economic value of forests</text>
<text x="2722.9" y="1383.6" font-size="26.4" font-weight="normal" font-style="normal" fill="#000" textLength="450.0" lengthAdjust="spacingAndGlyphs">Increase in energy demand for cooling</text>
<rect x="2717" y="1435.0" width="1081" height="31.0" fill="#8bd0f5"/>
<text x="2725.8999999999996" y="1458.4" font-size="26.4" font-weight="bold" font-style="normal" fill="#000" textLength="186.3" lengthAdjust="spacingAndGlyphs">Atlantic region</text>
<text x="2725.4" y="1496.5" font-size="26.4" font-weight="normal" font-style="normal" fill="#000" textLength="441.4" lengthAdjust="spacingAndGlyphs">Increase in heavy precipitation events</text>
<text x="2725.4" y="1525.5" font-size="26.4" font-weight="normal" font-style="normal" fill="#000" textLength="244.4" lengthAdjust="spacingAndGlyphs">Increase in river flow</text>
<text x="2725.4" y="1554.5" font-size="26.4" font-weight="normal" font-style="normal" fill="#000" textLength="502.3" lengthAdjust="spacingAndGlyphs">Increasing risk of river and coastal flooding</text>
<text x="2725.4" y="1583.5" font-size="26.4" font-weight="normal" font-style="normal" fill="#000" textLength="502.8" lengthAdjust="spacingAndGlyphs">Increasing damage risk from winter storms</text>
<text x="2725.4" y="1612.5" font-size="26.4" font-weight="normal" font-style="normal" fill="#000" textLength="463.2" lengthAdjust="spacingAndGlyphs">Decrease in energy demand for heating</text>
<text x="2725.4" y="1641.5" font-size="26.4" font-weight="normal" font-style="normal" fill="#000" textLength="425.2" lengthAdjust="spacingAndGlyphs">Increase in multiple climatic hazards</text>
<rect x="2718.5" y="1693.4" width="1078" height="31.5" fill="#fff" stroke="#e3e3e3" stroke-width="3"/>
<text x="2725.8999999999996" y="1718.3" font-size="26.4" font-weight="bold" font-style="normal" fill="#000" textLength="395.9" lengthAdjust="spacingAndGlyphs">Coastal zones and regional seas</text>
<text x="2725.4" y="1755.4" font-size="26.4" font-weight="normal" font-style="normal" fill="#000" textLength="152.5" lengthAdjust="spacingAndGlyphs">Sea level rise</text>
<text x="2725.4" y="1784.6" font-size="26.4" font-weight="normal" font-style="normal" fill="#000" textLength="433.8" lengthAdjust="spacingAndGlyphs">Increase in sea surface temperatures</text>
<text x="2725.4" y="1813.8" font-size="26.4" font-weight="normal" font-style="normal" fill="#000" textLength="287.6" lengthAdjust="spacingAndGlyphs">Increase in ocean acidity</text>
<text x="2725.4" y="1843.0" font-size="26.4" font-weight="normal" font-style="normal" fill="#000" textLength="460.7" lengthAdjust="spacingAndGlyphs">Northward migration of marine species</text>
<text x="2725.4" y="1872.2" font-size="26.4" font-weight="normal" font-style="normal" fill="#000" textLength="492.7" lengthAdjust="spacingAndGlyphs">Risks and some opportunities for fisheries</text>
<text x="2725.4" y="1901.4" font-size="26.4" font-weight="normal" font-style="normal" fill="#000" textLength="465.8" lengthAdjust="spacingAndGlyphs">Changes in phytoplankton communities</text>
<text x="2725.4" y="1930.6" font-size="26.4" font-weight="normal" font-style="normal" fill="#000" textLength="481.5" lengthAdjust="spacingAndGlyphs">Increasing number of marine dead zones</text>
<text x="2725.4" y="1959.8" font-size="26.4" font-weight="normal" font-style="normal" fill="#000" textLength="457.1" lengthAdjust="spacingAndGlyphs">Increasing risk of water-borne diseases</text>
<rect x="2717" y="2011.5" width="1081" height="31.40000000000009" fill="#909090"/>
<text x="2725.8999999999996" y="2036.9" font-size="26.4" font-weight="bold" font-style="normal" fill="#fff" textLength="160.4" lengthAdjust="spacingAndGlyphs">Arctic region</text>
<text x="2725.4" y="2074.4" font-size="26.4" font-weight="normal" font-style="normal" fill="#000" textLength="587.6" lengthAdjust="spacingAndGlyphs">Temperature rise much larger than global average</text>
<text x="2725.4" y="2103.5" font-size="26.4" font-weight="normal" font-style="normal" fill="#000" textLength="407.4" lengthAdjust="spacingAndGlyphs">Decrease in Arctic sea ice coverage</text>
<text x="2725.4" y="2132.6" font-size="26.4" font-weight="normal" font-style="normal" fill="#000" textLength="377.4" lengthAdjust="spacingAndGlyphs">Decrease in Greenland ice sheet</text>
<text x="2725.4" y="2161.7" font-size="26.4" font-weight="normal" font-style="normal" fill="#000" textLength="347.5" lengthAdjust="spacingAndGlyphs">Decrease in permafrost areas</text>
<text x="2725.4" y="2190.8" font-size="26.4" font-weight="normal" font-style="normal" fill="#000" textLength="393.2" lengthAdjust="spacingAndGlyphs">Increasing risk of biodiversity loss</text>
<text x="2725.4" y="2219.9" font-size="26.4" font-weight="normal" font-style="normal" fill="#000" textLength="1072.9" lengthAdjust="spacingAndGlyphs">Some new opportunities for the exploitation of natural resources and for sea transportation</text>
<text x="2725.4" y="2249.0" font-size="26.4" font-weight="normal" font-style="normal" fill="#000" textLength="531.3" lengthAdjust="spacingAndGlyphs">Risks to the livelihoods of indigenous peoples</text>
<rect x="2717" y="2301.4" width="1081" height="30.90000000000009" fill="#0e6567"/>
<text x="2723.3999999999996" y="2327.2" font-size="26.4" font-weight="bold" font-style="normal" fill="#fff" textLength="222.8" lengthAdjust="spacingAndGlyphs">Mountain regions</text>
<text x="2722.9" y="2364.3" font-size="26.4" font-weight="normal" font-style="normal" fill="#000" textLength="557.7" lengthAdjust="spacingAndGlyphs">Temperature rise larger than European average</text>
<text x="2722.9" y="2393.5" font-size="26.4" font-weight="normal" font-style="normal" fill="#000" textLength="446.5" lengthAdjust="spacingAndGlyphs">Decrease in glacier extent and volume</text>
<text x="2722.9" y="2422.7" font-size="26.4" font-weight="normal" font-style="normal" fill="#000" textLength="477.5" lengthAdjust="spacingAndGlyphs">Upward shift of plant and animal species</text>
<text x="2722.9" y="2451.9" font-size="26.4" font-weight="normal" font-style="normal" fill="#000" textLength="360.2" lengthAdjust="spacingAndGlyphs">High risk of species extinctions</text>
<text x="2722.9" y="2481.1" font-size="26.4" font-weight="normal" font-style="normal" fill="#000" textLength="343.9" lengthAdjust="spacingAndGlyphs">Increasing risk of forest pests</text>
<text x="2722.9" y="2510.3" font-size="26.4" font-weight="normal" font-style="normal" fill="#000" textLength="518.6" lengthAdjust="spacingAndGlyphs">Increasing risk from rock falls and landslides</text>
<text x="2722.9" y="2539.5" font-size="26.4" font-weight="normal" font-style="normal" fill="#000" textLength="390.1" lengthAdjust="spacingAndGlyphs">Changes in hydropower potential</text>
<text x="2722.9" y="2568.7" font-size="26.4" font-weight="normal" font-style="normal" fill="#000" textLength="273.9" lengthAdjust="spacingAndGlyphs">Decrease in ski tourism</text>
<rect x="0" y="2698.3" width="4040" height="172.7" fill="#2998d8"/>
<rect x="0" y="2871" width="4041" height="1" fill="#a9cdee"/><rect x="4040" y="2698.3" width="1" height="173.7" fill="#a9cdee"/>
<rect x="0" y="0" width="4041" height="1" fill="#f2f2f2"/>
<g transform="translate(553.6,1056.6)">
<circle r="80.5" fill="#bfe4f9"/>
<clipPath id="ic0"><circle r="80.5"/></clipPath>
<g clip-path="url(#ic0)" fill="none" stroke="#000" stroke-width="4" stroke-linecap="round" stroke-linejoin="round">
<g transform="translate(0,0)"><path d="M-11,25.5 V-47.7 a7.85,7.85 0 0 1 15.7,0 V25.5 A16.2,16.2 0 1 1 -11,25.5Z" stroke-width="4.5"/><path d="M-3.1,-24 V36" stroke-width="4.3"/><circle cx="-3.1" cy="36.3" r="6.7" fill="#000" stroke="none"/></g>
</g>
<g transform="translate(44.8,-38.6)"><circle r="16" fill="#fff" stroke="#000" stroke-width="4.3"/><g transform="rotate(0)" fill="none" stroke="#000" stroke-width="3.4" stroke-linecap="butt" stroke-linejoin="miter"><path d="M-8.5,7.8 L6.6,-7.3"/><path d="M-9.6,-7.3 L8.1,-8.3 L6.9,9.4"/></g></g>
</g>
<g transform="translate(671.9,926.4)">
<circle r="80.5" fill="#bfe4f9"/>
<clipPath id="ic1"><circle r="80.5"/></clipPath>
<g clip-path="url(#ic1)" fill="none" stroke="#000" stroke-width="4" stroke-linecap="round" stroke-linejoin="round">
<g stroke-width="2.8" stroke-linecap="round" stroke-linejoin="miter"><path d="M-40,-60.1 L-19.8,-39.4 L-19.8,-27.1 L-9.2,-16.4"/><path d="M35.1,-60.1 L14.3,-39.4 L14.3,-26.5 L3.7,-15.9"/><path d="M-60.5,-26.3 L-37.8,-26.3 L-25.4,-14 L-9.2,-14"/><path d="M55.3,-26.3 L32.3,-26.3 L20.5,-14 L3.7,-14"/><path d="M-36.3,54.5 L-18.2,36.3 L-18.2,20 L-9.2,11"/><path d="M31.2,54.5 L13.2,36.3 L13.2,20 L3.7,11"/><path d="M-2.9,-33.8 V-42.8"/><path d="M-11.2,-25.4 A8.3,8.4 0 0 1 5.4,-25.4 Z"/></g><path d="M-8.1,-11.4 L-40.6,4.9 A9.4,9.4 0 0 0 -29.9,20 L-8.1,-0.7" stroke-width="4.7"/><path d="M2.3,-11.4 L34.8,4.9 A9.4,9.4 0 0 1 24.1,20 L2.3,-0.7" stroke-width="4.7"/><path d="M-2.9,-19.5 V19" stroke-width="12.6"/><path d="M-2.9,-18.5 V18.5" stroke="#bfe4f9" stroke-width="4.4"/><path d="M-6.5,-25 H0.7 V-20 H-6.5Z" fill="#000" stroke-width="1"/>
</g>
</g>
<g transform="translate(807.6,816.1)">
<circle r="80.5" fill="#bfe4f9"/>
<clipPath id="ic2"><circle r="80.5"/></clipPath>
<g clip-path="url(#ic2)" fill="none" stroke="#000" stroke-width="4" stroke-linecap="round" stroke-linejoin="round">
<path d="M-10.98,-55.03 C-8.07,-52.97 -4.29,-51.20 -2.24,-48.86 C-0.19,-46.52 1.12,-44.01 1.34,-41.02 C1.56,-38.03 -0.30,-34.11 -0.9,-30.93 C-1.50,-27.75 -2.58,-24.96 -2.24,-21.97 C-1.90,-18.98 -0.75,-15.28 1.12,-13 C2.99,-10.72 6.54,-8.51 8.97,-8.29 C11.40,-8.07 14.10,-9.76 15.69,-11.66 C17.28,-13.56 18.08,-16.54 18.49,-19.72 C18.90,-22.89 18.27,-27.05 18.16,-30.71 C20.70,-26.67 23.58,-23.05 25.78,-18.6 C27.98,-14.15 30.26,-8.70 31.38,-4.03 C32.50,0.64 33.06,4.18 32.5,9.41 C31.94,14.64 30.45,21.93 28.02,27.35 C25.59,32.77 22.04,37.99 17.93,41.91 C13.82,45.83 8.03,48.92 3.36,50.88 C-1.31,52.84 -5.61,53.68 -10.09,53.68 C-14.57,53.68 -19.05,52.84 -23.53,50.88 C-28.01,48.92 -33.24,45.46 -36.98,41.91 C-40.72,38.36 -43.71,34.07 -45.95,29.59 C-48.19,25.11 -49.78,19.69 -50.43,15.02 C-51.08,10.35 -50.62,5.68 -49.87,1.57 C-49.12,-2.54 -47.35,-6.61 -45.95,-9.64 C-44.55,-12.67 -42.96,-14.27 -41.47,-16.59 C-41.84,-13.15 -42.82,-9.31 -42.59,-6.28 C-42.37,-3.25 -41.43,-0.34 -40.12,1.57 C-38.81,3.48 -36.57,5.16 -34.74,5.16 C-32.91,5.16 -30.35,3.48 -29.14,1.57 C-27.93,-0.34 -27.65,-3.10 -27.46,-6.28 C-27.27,-9.46 -28.49,-13.75 -28.02,-17.48 C-27.55,-21.21 -26.34,-25.70 -24.66,-28.69 C-22.98,-31.68 -20.36,-33.35 -17.93,-35.41 C-15.50,-37.46 -11.96,-38.97 -10.09,-41.02 C-8.22,-43.08 -6.57,-45.41 -6.72,-47.74 C-6.87,-50.08 -9.56,-52.60 -10.98,-55.03Z" stroke-width="4.4" stroke-linejoin="miter"/><path d="M-10.65,-24.54 C-12.33,-22.93 -14.48,-21.64 -15.69,-19.72 C-16.90,-17.80 -17.74,-15.80 -17.93,-13 C-18.12,-10.20 -17.74,-6.64 -16.81,-2.91 C-15.88,0.82 -13.45,5.86 -12.33,9.41 C-11.21,12.96 -10.09,15.76 -10.09,18.38 C-10.09,20.99 -10.84,23.61 -12.33,25.1 C-13.82,26.60 -16.81,27.35 -19.05,27.35 C-21.29,27.35 -23.82,26.60 -25.78,25.1 C-27.74,23.61 -29.79,20.58 -30.82,18.38 C-31.85,16.18 -31.57,14.05 -31.94,11.88 C-32.87,14.79 -34.46,17.48 -34.74,20.62 C-35.02,23.76 -34.93,27.54 -33.62,30.71 C-32.31,33.88 -29.51,37.34 -26.9,39.67 C-24.29,42.01 -20.92,43.60 -17.93,44.72 C-14.94,45.84 -12.15,46.40 -8.97,46.4 C-5.79,46.40 -2.06,46.03 1.12,44.72 C4.30,43.41 7.66,41.07 10.09,38.55 C12.52,36.03 14.66,32.39 15.69,29.59 C16.72,26.79 16.81,24.35 16.25,21.74 C15.69,19.12 14.29,16.70 12.33,13.9 C10.37,11.10 7.10,7.92 4.48,4.93 C1.87,1.94 -1.12,-1.04 -3.36,-4.03 C-5.60,-7.02 -7.76,-9.58 -8.97,-13 C-10.19,-16.42 -10.09,-20.69 -10.65,-24.54Z" stroke-width="4.4" stroke-linejoin="miter"/>
</g>
<g transform="translate(44.8,-38.6)"><circle r="16" fill="#fff" stroke="#000" stroke-width="4.3"/><g transform="rotate(0)" fill="none" stroke="#000" stroke-width="3.4" stroke-linecap="butt" stroke-linejoin="miter"><path d="M-8.5,7.8 L6.6,-7.3"/><path d="M-9.6,-7.3 L8.1,-8.3 L6.9,9.4"/></g></g>
</g>
<g transform="translate(965.3,737.0)">
<circle r="80.5" fill="#bfe4f9"/>
<clipPath id="ic3"><circle r="80.5"/></clipPath>
<g clip-path="url(#ic3)" fill="none" stroke="#000" stroke-width="4" stroke-linecap="round" stroke-linejoin="round">
<path d="M-49.5,-7.4 A15.8,15.8 0 0 1 -46.7,-38.8 A11.3,11.3 0 0 1 -26,-47 A18.3,18.3 0 1 1 9.9,-39.4 A16.2,16.2 0 0 1 11.5,-7.4 Z" stroke-width="5" stroke-linejoin="miter"/><path d="M-36.6,0.1 L-29.650000000000002,0.1 L14.3,44.05 L14.3,51.00Z" fill="#000" stroke="none"/><path d="M-25.4,0.1 L-18.45,0.1 L11.5,30.05 L11.5,37.00Z" fill="#000" stroke="none"/><path d="M-14.2,0.1 L-7.249999999999999,0.1 L9.3,16.65 L9.3,23.60Z" fill="#000" stroke="none"/><path d="M-3.0,0.1 L3.95,0.1 L7.1,3.25 L7.1,10.20Z" fill="#000" stroke="none"/>
</g>
<g transform="translate(44.8,-38.6)"><circle r="16" fill="#fff" stroke="#000" stroke-width="4.3"/><g transform="rotate(90)" fill="none" stroke="#000" stroke-width="3.4" stroke-linecap="butt" stroke-linejoin="miter"><path d="M-8.5,7.8 L6.6,-7.3"/><path d="M-9.6,-7.3 L8.1,-8.3 L6.9,9.4"/></g></g>
</g>
<g transform="translate(1306.7,656.5)">
<circle r="80.5" fill="#0072a8"/>
<clipPath id="ic4"><circle r="80.5"/></clipPath>
<g clip-path="url(#ic4)" fill="none" stroke="#fff" stroke-width="4" stroke-linecap="round" stroke-linejoin="round">
<g stroke-width="5"><path d="M-67.1,-8.4 L10.2,-20.7 A39.1,39.1 0 0 0 -67.1,-8.4Z"/><path d="M-35.2,-54.4 L-35.5,-60"/><path d="M-27.6,-11.8 L-19.2,49.3"/><path d="M-39.1,23 H45.5"/><path d="M21.4,35.3 H55"/><path d="M-49.8,49.9 H45.5"/></g>
</g>
<g transform="translate(44.8,-38.6)"><circle r="16" fill="#fff" stroke="#000" stroke-width="4.3"/><g transform="rotate(0)" fill="none" stroke="#000" stroke-width="3.4" stroke-linecap="butt" stroke-linejoin="miter"><path d="M-8.5,7.8 L6.6,-7.3"/><path d="M-9.6,-7.3 L8.1,-8.3 L6.9,9.4"/></g></g>
</g>
<g transform="translate(1482.1,662.1)">
<circle r="80.5" fill="#0072a8"/>
<clipPath id="ic5"><circle r="80.5"/></clipPath>
<g clip-path="url(#ic5)" fill="none" stroke="#fff" stroke-width="4" stroke-linecap="round" stroke-linejoin="round">
<g transform="translate(-6.1,3.8)" stroke-width="5"><g transform="rotate(0)"><path d="M0,0 V-41.5"/><path d="M-11.6,-38 L0,-26.4 L11.6,-38"/></g><g transform="rotate(60)"><path d="M0,0 V-41.5"/><path d="M-11.6,-38 L0,-26.4 L11.6,-38"/></g><g transform="rotate(120)"><path d="M0,0 V-41.5"/><path d="M-11.6,-38 L0,-26.4 L11.6,-38"/></g><g transform="rotate(180)"><path d="M0,0 V-41.5"/><path d="M-11.6,-38 L0,-26.4 L11.6,-38"/></g><g transform="rotate(240)"><path d="M0,0 V-41.5"/><path d="M-11.6,-38 L0,-26.4 L11.6,-38"/></g><g transform="rotate(300)"><path d="M0,0 V-41.5"/><path d="M-11.6,-38 L0,-26.4 L11.6,-38"/></g></g>
</g>
<g transform="translate(44.8,-38.6)"><circle r="16" fill="#fff" stroke="#000" stroke-width="4.3"/><g transform="rotate(90)" fill="none" stroke="#000" stroke-width="3.4" stroke-linecap="butt" stroke-linejoin="miter"><path d="M-8.5,7.8 L6.6,-7.3"/><path d="M-9.6,-7.3 L8.1,-8.3 L6.9,9.4"/></g></g>
</g>
<g transform="translate(1654.3,697.5)">
<circle r="80.5" fill="#0072a8"/>
<clipPath id="ic6"><circle r="80.5"/></clipPath>
<g clip-path="url(#ic6)" fill="none" stroke="#fff" stroke-width="4" stroke-linecap="round" stroke-linejoin="round">
<g stroke-width="5.3"><path d="M-5.4,-40.5 V62.6"/><path d="M-27.2,-49.4 V9.4 A21.8,21.9 0 0 0 -5.4,31.3 A21.8,21.9 0 0 0 16.4,9.4 V-49.4"/><path d="M-27.2,-24.2 A21.8,19.0 0 0 1 -5.4,-5.2"/><path d="M16.4,-24.2 A21.8,19.0 0 0 0 -5.4,-5.2"/><path d="M-27.2,-2.9 A21.8,17.9 0 0 1 -5.4,15"/><path d="M16.4,-2.9 A21.8,17.9 0 0 0 -5.4,15"/></g>
</g>
<g transform="translate(44.8,-38.6)"><circle r="16" fill="#fff" stroke="#000" stroke-width="4.3"/><g transform="rotate(0)" fill="none" stroke="#000" stroke-width="3.4" stroke-linecap="butt" stroke-linejoin="miter"><path d="M-8.5,7.8 L6.6,-7.3"/><path d="M-9.6,-7.3 L8.1,-8.3 L6.9,9.4"/></g></g>
</g>
<g transform="translate(1817.6,762.2)">
<circle r="80.5" fill="#0072a8"/>
<clipPath id="ic7"><circle r="80.5"/></clipPath>
<g clip-path="url(#ic7)" fill="none" stroke="#fff" stroke-width="4" stroke-linecap="round" stroke-linejoin="round">
<path d="M-49.5,-7.4 A15.8,15.8 0 0 1 -46.7,-38.8 A11.3,11.3 0 0 1 -26,-47 A18.3,18.3 0 1 1 9.9,-39.4 A16.2,16.2 0 0 1 11.5,-7.4 Z" stroke-width="5" stroke-linejoin="miter"/><path d="M-36.6,0.1 L-29.650000000000002,0.1 L14.3,44.05 L14.3,51.00Z" fill="#fff" stroke="none"/><path d="M-25.4,0.1 L-18.45,0.1 L11.5,30.05 L11.5,37.00Z" fill="#fff" stroke="none"/><path d="M-14.2,0.1 L-7.249999999999999,0.1 L9.3,16.65 L9.3,23.60Z" fill="#fff" stroke="none"/><path d="M-3.0,0.1 L3.95,0.1 L7.1,3.25 L7.1,10.20Z" fill="#fff" stroke="none"/>
</g>
<g transform="translate(44.8,-38.6)"><circle r="16" fill="#fff" stroke="#000" stroke-width="4.3"/><g transform="rotate(0)" fill="none" stroke="#000" stroke-width="3.4" stroke-linecap="butt" stroke-linejoin="miter"><path d="M-8.5,7.8 L6.6,-7.3"/><path d="M-9.6,-7.3 L8.1,-8.3 L6.9,9.4"/></g></g>
</g>
<g transform="translate(2162.2,1037.3)">
<circle r="80.5" fill="#8ab82b"/>
<clipPath id="ic8"><circle r="80.5"/></clipPath>
<g clip-path="url(#ic8)" fill="none" stroke="#000" stroke-width="4" stroke-linecap="round" stroke-linejoin="round">
<path d="M-35.4,4.6 A22.3,22.3 0 0 1 -33.2,-39.8 A18.6,18.6 0 1 1 3.6,-39.8 A22.3,22.3 0 0 1 7.2,4.6 Z" stroke-width="4.5"/><path d="M-14.9,-35 V39" stroke-width="4.5"/><path d="M-34.3,-19.8 L-14.9,-3 L4.4,-19.8" stroke-width="4.5" stroke-linecap="butt" stroke-linejoin="miter"/><path d="M-134.73,40.10 c7.0,0 8.83,-12.80 12.83,-12.80 c3.6,0 4.17,12.80 11.37,12.80 c7.0,0 8.83,-12.80 12.83,-12.80 c3.6,0 4.17,12.80 11.37,12.80 c7.0,0 8.83,-12.80 12.83,-12.80 c3.6,0 4.17,12.80 11.37,12.80 c7.0,0 8.83,-12.80 12.83,-12.80 c3.6,0 4.17,12.80 11.37,12.80 c7.0,0 8.83,-12.80 12.83,-12.80 c3.6,0 4.17,12.80 11.37,12.80 c7.0,0 8.83,-12.80 12.83,-12.80 c3.6,0 4.17,12.80 11.37,12.80 c7.0,0 8.83,-12.80 12.83,-12.80 c3.6,0 4.17,12.80 11.37,12.80 c7.0,0 8.83,-12.80 12.83,-12.80 c3.6,0 4.17,12.80 11.37,12.80 c7.0,0 8.83,-12.80 12.83,-12.80 c3.6,0 4.17,12.80 11.37,12.80 c7.0,0 8.83,-12.80 12.83,-12.80 c3.6,0 4.17,12.80 11.37,12.80" stroke-width="4.5"/><path d="M-133.63,63.50 c7.0,0 8.83,-12.80 12.83,-12.80 c3.6,0 4.17,12.80 11.37,12.80 c7.0,0 8.83,-12.80 12.83,-12.80 c3.6,0 4.17,12.80 11.37,12.80 c7.0,0 8.83,-12.80 12.83,-12.80 c3.6,0 4.17,12.80 11.37,12.80 c7.0,0 8.83,-12.80 12.83,-12.80 c3.6,0 4.17,12.80 11.37,12.80 c7.0,0 8.83,-12.80 12.83,-12.80 c3.6,0 4.17,12.80 11.37,12.80 c7.0,0 8.83,-12.80 12.83,-12.80 c3.6,0 4.17,12.80 11.37,12.80 c7.0,0 8.83,-12.80 12.83,-12.80 c3.6,0 4.17,12.80 11.37,12.80 c7.0,0 8.83,-12.80 12.83,-12.80 c3.6,0 4.17,12.80 11.37,12.80 c7.0,0 8.83,-12.80 12.83,-12.80 c3.6,0 4.17,12.80 11.37,12.80 c7.0,0 8.83,-12.80 12.83,-12.80 c3.6,0 4.17,12.80 11.37,12.80" stroke-width="4.5"/>
</g>
<g transform="translate(44.8,-38.6)"><circle r="16" fill="#fff" stroke="#000" stroke-width="4.3"/><g transform="rotate(0)" fill="none" stroke="#000" stroke-width="3.4" stroke-linecap="butt" stroke-linejoin="miter"><path d="M-8.5,7.8 L6.6,-7.3"/><path d="M-9.6,-7.3 L8.1,-8.3 L6.9,9.4"/></g></g>
</g>
<g transform="translate(2257.7,1189.1)">
<circle r="80.5" fill="#8ab82b"/>
<clipPath id="ic9"><circle r="80.5"/></clipPath>
<g clip-path="url(#ic9)" fill="none" stroke="#000" stroke-width="4" stroke-linecap="round" stroke-linejoin="round">
<g transform="translate(0,0)"><path d="M-11,25.5 V-47.7 a7.85,7.85 0 0 1 15.7,0 V25.5 A16.2,16.2 0 1 1 -11,25.5Z" stroke-width="4.5"/><path d="M-3.1,-24 V36" stroke-width="4.3"/><circle cx="-3.1" cy="36.3" r="6.7" fill="#000" stroke="none"/></g>
</g>
<g transform="translate(44.8,-38.6)"><circle r="16" fill="#fff" stroke="#000" stroke-width="4.3"/><g transform="rotate(0)" fill="none" stroke="#000" stroke-width="3.4" stroke-linecap="butt" stroke-linejoin="miter"><path d="M-8.5,7.8 L6.6,-7.3"/><path d="M-9.6,-7.3 L8.1,-8.3 L6.9,9.4"/></g></g>
</g>
<g transform="translate(2324.7,1353.8)">
<circle r="80.5" fill="#8ab82b"/>
<clipPath id="ic10"><circle r="80.5"/></clipPath>
<g clip-path="url(#ic10)" fill="none" stroke="#000" stroke-width="4" stroke-linecap="round" stroke-linejoin="round">
<path d="M-10.98,-55.03 C-8.07,-52.97 -4.29,-51.20 -2.24,-48.86 C-0.19,-46.52 1.12,-44.01 1.34,-41.02 C1.56,-38.03 -0.30,-34.11 -0.9,-30.93 C-1.50,-27.75 -2.58,-24.96 -2.24,-21.97 C-1.90,-18.98 -0.75,-15.28 1.12,-13 C2.99,-10.72 6.54,-8.51 8.97,-8.29 C11.40,-8.07 14.10,-9.76 15.69,-11.66 C17.28,-13.56 18.08,-16.54 18.49,-19.72 C18.90,-22.89 18.27,-27.05 18.16,-30.71 C20.70,-26.67 23.58,-23.05 25.78,-18.6 C27.98,-14.15 30.26,-8.70 31.38,-4.03 C32.50,0.64 33.06,4.18 32.5,9.41 C31.94,14.64 30.45,21.93 28.02,27.35 C25.59,32.77 22.04,37.99 17.93,41.91 C13.82,45.83 8.03,48.92 3.36,50.88 C-1.31,52.84 -5.61,53.68 -10.09,53.68 C-14.57,53.68 -19.05,52.84 -23.53,50.88 C-28.01,48.92 -33.24,45.46 -36.98,41.91 C-40.72,38.36 -43.71,34.07 -45.95,29.59 C-48.19,25.11 -49.78,19.69 -50.43,15.02 C-51.08,10.35 -50.62,5.68 -49.87,1.57 C-49.12,-2.54 -47.35,-6.61 -45.95,-9.64 C-44.55,-12.67 -42.96,-14.27 -41.47,-16.59 C-41.84,-13.15 -42.82,-9.31 -42.59,-6.28 C-42.37,-3.25 -41.43,-0.34 -40.12,1.57 C-38.81,3.48 -36.57,5.16 -34.74,5.16 C-32.91,5.16 -30.35,3.48 -29.14,1.57 C-27.93,-0.34 -27.65,-3.10 -27.46,-6.28 C-27.27,-9.46 -28.49,-13.75 -28.02,-17.48 C-27.55,-21.21 -26.34,-25.70 -24.66,-28.69 C-22.98,-31.68 -20.36,-33.35 -17.93,-35.41 C-15.50,-37.46 -11.96,-38.97 -10.09,-41.02 C-8.22,-43.08 -6.57,-45.41 -6.72,-47.74 C-6.87,-50.08 -9.56,-52.60 -10.98,-55.03Z" stroke-width="4.4" stroke-linejoin="miter"/><path d="M-10.65,-24.54 C-12.33,-22.93 -14.48,-21.64 -15.69,-19.72 C-16.90,-17.80 -17.74,-15.80 -17.93,-13 C-18.12,-10.20 -17.74,-6.64 -16.81,-2.91 C-15.88,0.82 -13.45,5.86 -12.33,9.41 C-11.21,12.96 -10.09,15.76 -10.09,18.38 C-10.09,20.99 -10.84,23.61 -12.33,25.1 C-13.82,26.60 -16.81,27.35 -19.05,27.35 C-21.29,27.35 -23.82,26.60 -25.78,25.1 C-27.74,23.61 -29.79,20.58 -30.82,18.38 C-31.85,16.18 -31.57,14.05 -31.94,11.88 C-32.87,14.79 -34.46,17.48 -34.74,20.62 C-35.02,23.76 -34.93,27.54 -33.62,30.71 C-32.31,33.88 -29.51,37.34 -26.9,39.67 C-24.29,42.01 -20.92,43.60 -17.93,44.72 C-14.94,45.84 -12.15,46.40 -8.97,46.4 C-5.79,46.40 -2.06,46.03 1.12,44.72 C4.30,43.41 7.66,41.07 10.09,38.55 C12.52,36.03 14.66,32.39 15.69,29.59 C16.72,26.79 16.81,24.35 16.25,21.74 C15.69,19.12 14.29,16.70 12.33,13.9 C10.37,11.10 7.10,7.92 4.48,4.93 C1.87,1.94 -1.12,-1.04 -3.36,-4.03 C-5.60,-7.02 -7.76,-9.58 -8.97,-13 C-10.19,-16.42 -10.09,-20.69 -10.65,-24.54Z" stroke-width="4.4" stroke-linejoin="miter"/>
</g>
<g transform="translate(44.8,-38.6)"><circle r="16" fill="#fff" stroke="#000" stroke-width="4.3"/><g transform="rotate(0)" fill="none" stroke="#000" stroke-width="3.4" stroke-linecap="butt" stroke-linejoin="miter"><path d="M-8.5,7.8 L6.6,-7.3"/><path d="M-9.6,-7.3 L8.1,-8.3 L6.9,9.4"/></g></g>
</g>
<g transform="translate(2366.6,1527.9)">
<circle r="80.5" fill="#8ab82b"/>
<clipPath id="ic11"><circle r="80.5"/></clipPath>
<g clip-path="url(#ic11)" fill="none" stroke="#000" stroke-width="4" stroke-linecap="round" stroke-linejoin="round">
<path d="M-49.5,-7.4 A15.8,15.8 0 0 1 -46.7,-38.8 A11.3,11.3 0 0 1 -26,-47 A18.3,18.3 0 1 1 9.9,-39.4 A16.2,16.2 0 0 1 11.5,-7.4 Z" stroke-width="5" stroke-linejoin="miter"/><path d="M-36.6,0.1 L-29.650000000000002,0.1 L14.3,44.05 L14.3,51.00Z" fill="#000" stroke="none"/><path d="M-25.4,0.1 L-18.45,0.1 L11.5,30.05 L11.5,37.00Z" fill="#000" stroke="none"/><path d="M-14.2,0.1 L-7.249999999999999,0.1 L9.3,16.65 L9.3,23.60Z" fill="#000" stroke="none"/><path d="M-3.0,0.1 L3.95,0.1 L7.1,3.25 L7.1,10.20Z" fill="#000" stroke="none"/>
</g>
<g transform="translate(44.8,-38.6)"><circle r="16" fill="#fff" stroke="#000" stroke-width="4.3"/><g transform="rotate(90)" fill="none" stroke="#000" stroke-width="3.4" stroke-linecap="butt" stroke-linejoin="miter"><path d="M-8.5,7.8 L6.6,-7.3"/><path d="M-9.6,-7.3 L8.1,-8.3 L6.9,9.4"/></g></g>
</g>
<g transform="translate(2370.4,1820.3)">
<circle r="80.5" fill="#8bd0f5"/>
<clipPath id="ic12"><circle r="80.5"/></clipPath>
<g clip-path="url(#ic12)" fill="none" stroke="#000" stroke-width="4" stroke-linecap="round" stroke-linejoin="round">
<path d="M-49.5,-7.4 A15.8,15.8 0 0 1 -46.7,-38.8 A11.3,11.3 0 0 1 -26,-47 A18.3,18.3 0 1 1 9.9,-39.4 A16.2,16.2 0 0 1 11.5,-7.4 Z" stroke-width="5" stroke-linejoin="miter"/><path d="M-25.4,-5.2 L-44.5,16.7 L-27.7,16.7 L-52.9,58.2 L-3,7.7 L-21.5,7.7 L-8.6,-5.2" stroke-width="4.7" stroke-linejoin="round"/>
</g>
<g transform="translate(44.8,-38.6)"><circle r="16" fill="#fff" stroke="#000" stroke-width="4.3"/><g transform="rotate(0)" fill="none" stroke="#000" stroke-width="3.4" stroke-linecap="butt" stroke-linejoin="miter"><path d="M-8.5,7.8 L6.6,-7.3"/><path d="M-9.6,-7.3 L8.1,-8.3 L6.9,9.4"/></g></g>
</g>
<g transform="translate(2331.4,1992.7)">
<circle r="80.5" fill="#8bd0f5"/>
<clipPath id="ic13"><circle r="80.5"/></clipPath>
<g clip-path="url(#ic13)" fill="none" stroke="#000" stroke-width="4" stroke-linecap="round" stroke-linejoin="round">
<path d="M-35.4,4.6 A22.3,22.3 0 0 1 -33.2,-39.8 A18.6,18.6 0 1 1 3.6,-39.8 A22.3,22.3 0 0 1 7.2,4.6 Z" stroke-width="4.5"/><path d="M-14.9,-35 V39" stroke-width="4.5"/><path d="M-34.3,-19.8 L-14.9,-3 L4.4,-19.8" stroke-width="4.5" stroke-linecap="butt" stroke-linejoin="miter"/><path d="M-134.73,40.10 c7.0,0 8.83,-12.80 12.83,-12.80 c3.6,0 4.17,12.80 11.37,12.80 c7.0,0 8.83,-12.80 12.83,-12.80 c3.6,0 4.17,12.80 11.37,12.80 c7.0,0 8.83,-12.80 12.83,-12.80 c3.6,0 4.17,12.80 11.37,12.80 c7.0,0 8.83,-12.80 12.83,-12.80 c3.6,0 4.17,12.80 11.37,12.80 c7.0,0 8.83,-12.80 12.83,-12.80 c3.6,0 4.17,12.80 11.37,12.80 c7.0,0 8.83,-12.80 12.83,-12.80 c3.6,0 4.17,12.80 11.37,12.80 c7.0,0 8.83,-12.80 12.83,-12.80 c3.6,0 4.17,12.80 11.37,12.80 c7.0,0 8.83,-12.80 12.83,-12.80 c3.6,0 4.17,12.80 11.37,12.80 c7.0,0 8.83,-12.80 12.83,-12.80 c3.6,0 4.17,12.80 11.37,12.80 c7.0,0 8.83,-12.80 12.83,-12.80 c3.6,0 4.17,12.80 11.37,12.80" stroke-width="4.5"/><path d="M-133.63,63.50 c7.0,0 8.83,-12.80 12.83,-12.80 c3.6,0 4.17,12.80 11.37,12.80 c7.0,0 8.83,-12.80 12.83,-12.80 c3.6,0 4.17,12.80 11.37,12.80 c7.0,0 8.83,-12.80 12.83,-12.80 c3.6,0 4.17,12.80 11.37,12.80 c7.0,0 8.83,-12.80 12.83,-12.80 c3.6,0 4.17,12.80 11.37,12.80 c7.0,0 8.83,-12.80 12.83,-12.80 c3.6,0 4.17,12.80 11.37,12.80 c7.0,0 8.83,-12.80 12.83,-12.80 c3.6,0 4.17,12.80 11.37,12.80 c7.0,0 8.83,-12.80 12.83,-12.80 c3.6,0 4.17,12.80 11.37,12.80 c7.0,0 8.83,-12.80 12.83,-12.80 c3.6,0 4.17,12.80 11.37,12.80 c7.0,0 8.83,-12.80 12.83,-12.80 c3.6,0 4.17,12.80 11.37,12.80 c7.0,0 8.83,-12.80 12.83,-12.80 c3.6,0 4.17,12.80 11.37,12.80" stroke-width="4.5"/>
</g>
<g transform="translate(44.8,-38.6)"><circle r="16" fill="#fff" stroke="#000" stroke-width="4.3"/><g transform="rotate(0)" fill="none" stroke="#000" stroke-width="3.4" stroke-linecap="butt" stroke-linejoin="miter"><path d="M-8.5,7.8 L6.6,-7.3"/><path d="M-9.6,-7.3 L8.1,-8.3 L6.9,9.4"/></g></g>
</g>
<g transform="translate(2260.1,2156.5)">
<circle r="80.5" fill="#8bd0f5"/>
<clipPath id="ic14"><circle r="80.5"/></clipPath>
<g clip-path="url(#ic14)" fill="none" stroke="#000" stroke-width="4" stroke-linecap="round" stroke-linejoin="round">
<g stroke-width="5" stroke-linecap="butt" stroke-linejoin="miter"><path d="M-62,-0.6 L-14.2,-48.4 L37,2.6"/><path d="M1.7,-34.4 V-47.3 H12 V-23.2"/></g><path d="M-46.5,4.3 V35" stroke-width="5"/><path d="M21.6,4.3 V35" stroke-width="5"/><path d="M-134.73,40.10 c7.0,0 8.83,-12.80 12.83,-12.80 c3.6,0 4.17,12.80 11.37,12.80 c7.0,0 8.83,-12.80 12.83,-12.80 c3.6,0 4.17,12.80 11.37,12.80 c7.0,0 8.83,-12.80 12.83,-12.80 c3.6,0 4.17,12.80 11.37,12.80 c7.0,0 8.83,-12.80 12.83,-12.80 c3.6,0 4.17,12.80 11.37,12.80 c7.0,0 8.83,-12.80 12.83,-12.80 c3.6,0 4.17,12.80 11.37,12.80 c7.0,0 8.83,-12.80 12.83,-12.80 c3.6,0 4.17,12.80 11.37,12.80 c7.0,0 8.83,-12.80 12.83,-12.80 c3.6,0 4.17,12.80 11.37,12.80 c7.0,0 8.83,-12.80 12.83,-12.80 c3.6,0 4.17,12.80 11.37,12.80 c7.0,0 8.83,-12.80 12.83,-12.80 c3.6,0 4.17,12.80 11.37,12.80 c7.0,0 8.83,-12.80 12.83,-12.80 c3.6,0 4.17,12.80 11.37,12.80" stroke-width="4.5"/><path d="M-133.63,63.50 c7.0,0 8.83,-12.80 12.83,-12.80 c3.6,0 4.17,12.80 11.37,12.80 c7.0,0 8.83,-12.80 12.83,-12.80 c3.6,0 4.17,12.80 11.37,12.80 c7.0,0 8.83,-12.80 12.83,-12.80 c3.6,0 4.17,12.80 11.37,12.80 c7.0,0 8.83,-12.80 12.83,-12.80 c3.6,0 4.17,12.80 11.37,12.80 c7.0,0 8.83,-12.80 12.83,-12.80 c3.6,0 4.17,12.80 11.37,12.80 c7.0,0 8.83,-12.80 12.83,-12.80 c3.6,0 4.17,12.80 11.37,12.80 c7.0,0 8.83,-12.80 12.83,-12.80 c3.6,0 4.17,12.80 11.37,12.80 c7.0,0 8.83,-12.80 12.83,-12.80 c3.6,0 4.17,12.80 11.37,12.80 c7.0,0 8.83,-12.80 12.83,-12.80 c3.6,0 4.17,12.80 11.37,12.80 c7.0,0 8.83,-12.80 12.83,-12.80 c3.6,0 4.17,12.80 11.37,12.80" stroke-width="4.5"/>
</g>
<g transform="translate(44.8,-38.6)"><circle r="16" fill="#fff" stroke="#000" stroke-width="4.3"/><g transform="rotate(0)" fill="none" stroke="#000" stroke-width="3.4" stroke-linecap="butt" stroke-linejoin="miter"><path d="M-8.5,7.8 L6.6,-7.3"/><path d="M-9.6,-7.3 L8.1,-8.3 L6.9,9.4"/></g></g>
</g>
<g transform="translate(2161.1,2305.7)">
<circle r="80.5" fill="#8bd0f5"/>
<clipPath id="ic15"><circle r="80.5"/></clipPath>
<g clip-path="url(#ic15)" fill="none" stroke="#000" stroke-width="4" stroke-linecap="round" stroke-linejoin="round">
<g stroke-width="5" stroke-linecap="butt" stroke-linejoin="miter"><path d="M-58.3,0.7 L-10.4,-47.1 L40.9,3.8"/><path d="M5.3,-32.3 V-46.3 H15.4 V-21.7"/></g><path d="M-42.6,5.8 V53.1 H25.2 V5.8" stroke-width="5" stroke-linejoin="round"/><g stroke-width="4.3" stroke-linejoin="round"><path d="M-9,-16.1 L-26.2,17 A19,19 0 1 0 8.2,17 Z"/><path d="M-9,3.3 L-20.3,25 A12.6,12.6 0 1 0 2.3,25 Z"/><path d="M-9,21.5 L-14.5,33 A6.2,6.2 0 1 0 -3.5,33 Z"/></g>
</g>
<g transform="translate(44.8,-38.6)"><circle r="16" fill="#fff" stroke="#000" stroke-width="4.3"/><g transform="rotate(90)" fill="none" stroke="#000" stroke-width="3.4" stroke-linecap="butt" stroke-linejoin="miter"><path d="M-8.5,7.8 L6.6,-7.3"/><path d="M-9.6,-7.3 L8.1,-8.3 L6.9,9.4"/></g></g>
</g>
<g transform="translate(373.4,1427.6)">
<circle r="80.5" fill="#0e6567"/>
<clipPath id="ic16"><circle r="80.5"/></clipPath>
<g clip-path="url(#ic16)" fill="none" stroke="#fff" stroke-width="4" stroke-linecap="round" stroke-linejoin="round">
<g transform="translate(0,0)"><path d="M-11,25.5 V-47.7 a7.85,7.85 0 0 1 15.7,0 V25.5 A16.2,16.2 0 1 1 -11,25.5Z" stroke-width="4.5"/><path d="M-3.1,-24 V36" stroke-width="4.3"/><circle cx="-3.1" cy="36.3" r="6.7" fill="#fff" stroke="none"/></g>
</g>
<g transform="translate(44.8,-38.6)"><circle r="16" fill="#fff" stroke="#000" stroke-width="4.3"/><g transform="rotate(0)" fill="none" stroke="#000" stroke-width="3.4" stroke-linecap="butt" stroke-linejoin="miter"><path d="M-8.5,7.8 L6.6,-7.3"/><path d="M-9.6,-7.3 L8.1,-8.3 L6.9,9.4"/></g></g>
</g>
<g transform="translate(329.9,1599.9)">
<circle r="80.5" fill="#0e6567"/>
<clipPath id="ic17"><circle r="80.5"/></clipPath>
<g clip-path="url(#ic17)" fill="none" stroke="#fff" stroke-width="4" stroke-linecap="round" stroke-linejoin="round">
<g stroke-width="4.5" stroke-linejoin="miter"><path d="M-51,62.8 L-1.7,-44.3 L48.2,63.9"/><path d="M-25.2,9.5 L-21,19.1 L-13.4,2.2 L3.4,39.8 L19.1,6.2" stroke-linejoin="round"/></g><path d="M-63.3,7.8 L-46.5,4.5" stroke-width="5"/><path d="M-62.4,-23 L-46.5,-18.5" stroke-width="5"/><path d="M-45.6,-49.9 L-34.4,-37.8" stroke-width="5"/><path d="M-17.9,-65.6 L-13.8,-49.6" stroke-width="5"/><path d="M14,-64.4 L9,-48.8" stroke-width="5"/>
</g>
<g transform="translate(44.8,-38.6)"><circle r="16" fill="#fff" stroke="#000" stroke-width="4.3"/><g transform="rotate(90)" fill="none" stroke="#000" stroke-width="3.4" stroke-linecap="butt" stroke-linejoin="miter"><path d="M-8.5,7.8 L6.6,-7.3"/><path d="M-9.6,-7.3 L8.1,-8.3 L6.9,9.4"/></g></g>
</g>
<g transform="translate(333.3,1776.5)">
<circle r="80.5" fill="#0e6567"/>
<clipPath id="ic18"><circle r="80.5"/></clipPath>
<g clip-path="url(#ic18)" fill="none" stroke="#fff" stroke-width="4" stroke-linecap="round" stroke-linejoin="round">
<path d="M-56.15,-50.99 C-56.90,-46.51 -58.17,-40.83 -58.39,-37.54 C-58.61,-34.25 -58.20,-29.03 -57.83,-26.34 C-57.46,-23.65 -56.34,-20.36 -55.59,-17.37 C-59.14,-12.89 -62.68,-8.40 -66.23,-3.92 C-64.62,-3.17 -63.02,-2.43 -61.41,-1.68 C-62.83,1.49 -64.25,4.67 -65.67,7.84 C-63.35,8.03 -61.04,8.22 -58.72,8.41 C-59.17,11.96 -59.62,15.50 -60.07,19.05 C-55.59,19.05 -51.10,19.05 -46.62,19.05 C-43.63,21.48 -39.30,22.38 -37.66,26.34 C-36.02,30.30 -35.49,44.87 -34.29,48.75 C-33.09,52.63 -30.93,54.27 -28.69,55.47 C-26.45,56.67 -20.47,57.72 -17.48,57.72 C-14.49,57.72 -8.52,56.67 -6.28,55.47 C-4.04,54.27 -2.02,52.63 -0.67,48.75 C0.68,44.87 2.02,30.30 3.81,26.34 C5.60,22.38 9.79,21.48 12.78,19.05 C17.26,19.05 21.74,19.05 26.22,19.05 C25.85,15.50 25.47,11.96 25.1,8.41 C27.53,8.22 29.96,8.03 32.39,7.84 C30.78,4.67 29.18,1.49 27.57,-1.68 C28.99,-2.61 30.41,-3.55 31.83,-4.48 C28.47,-8.78 25.10,-13.07 21.74,-17.37 C22.67,-20.36 24.09,-23.65 24.54,-26.34 C24.99,-29.03 25.32,-34.25 25.1,-37.54 C24.88,-40.83 23.61,-46.51 22.86,-50.99 C15.76,-46.51 8.67,-42.02 1.57,-37.54 C-4.78,-38.48 -12.55,-40.35 -17.48,-40.35 C-22.41,-40.35 -29.43,-38.48 -35.41,-37.54 C-42.32,-42.02 -49.24,-46.51 -56.15,-50.99Z" stroke-width="4.5" stroke-linejoin="miter" stroke-miterlimit="2.6"/><path d="M-56.71,15.13 C-55.03,12.52 -50.17,2.99 -46.62,-0.56 C-43.07,-4.11 -38.77,-5.79 -35.41,-6.16 C-32.05,-6.53 -29.06,-4.85 -26.45,-2.8 C-23.84,-0.75 -21.25,3.54 -19.72,6.16 C-18.19,8.78 -18.08,10.65 -17.26,12.89 C-16.21,10.65 -15.76,8.78 -14.12,6.16 C-12.48,3.54 -10.02,-0.75 -7.4,-2.8 C-4.79,-4.85 -1.79,-6.53 1.57,-6.16 C4.93,-5.79 9.23,-4.11 12.78,-0.56 C16.33,2.99 21.18,12.52 22.86,15.13" stroke-width="4.5"/><path d="M-53.91,-42.59 L-43.26,-26.9 L-53.91,-19.61" stroke-width="3.6"/><path d="M20.62,-42.59 L9.97,-26.9 L20.62,-19.61" stroke-width="3.6"/><path d="M-34.29,9.53 L-25.33,13.45 L-27.01,21.29Z" fill="#fff" stroke="none"/><path d="M1.01,8.97 L-7.96,13.45 L-6.84,21.29Z" fill="#fff" stroke="none"/><path d="M-27.01,44.83 C-25.98,43.43 -20.84,42.03 -17.48,42.03 C-14.12,42.03 -7.96,43.43 -6.84,44.83 C-5.72,46.23 -8.99,49.22 -10.76,50.43 C-12.53,51.64 -15.33,52.11 -17.48,52.11 C-19.63,52.11 -22.06,51.64 -23.65,50.43 C-25.24,49.22 -28.04,46.23 -27.01,44.83Z" fill="#fff" stroke="none"/>
</g>
<g transform="translate(44.8,-38.6)"><circle r="16" fill="#fff" stroke="#000" stroke-width="4.3"/><g transform="rotate(90)" fill="none" stroke="#000" stroke-width="3.4" stroke-linecap="butt" stroke-linejoin="miter"><path d="M-8.5,7.8 L6.6,-7.3"/><path d="M-9.6,-7.3 L8.1,-8.3 L6.9,9.4"/></g></g>
</g>
<g transform="translate(384.2,1949.0)">
<circle r="80.5" fill="#0e6567"/>
<clipPath id="ic19"><circle r="80.5"/></clipPath>
<g clip-path="url(#ic19)" fill="none" stroke="#fff" stroke-width="4" stroke-linecap="round" stroke-linejoin="round">
<path d="M-80.02,34.91 L-41.91,-45.78 L8.52,61.81 L46.06,61.81" stroke-width="4.7" stroke-linejoin="miter"/><path d="M-65.45,9.13 L-60.41,17.54 L-53.12,1.29 L-36.31,37.71 L-21.18,4.65" stroke-width="4.7"/><circle cx="-25.33" cy="-35.47" r="4.7" fill="#fff" stroke="none"/><path d="M-33.85,-49.14 L-30.15,-41.3" stroke-width="2"/><path d="M-30.71,-51.16 L-26.78,-42.98" stroke-width="2"/><path d="M-2.69,-35.13 L4.59,-19.44" stroke-width="2"/><path d="M2.91,-35.69 L10.76,-20" stroke-width="2"/><path d="M-20.62,-22.81 L-16.7,-27.29 L-8.85,-29.53 L-7.17,-25.05 L-8.85,-17.76 L-17.26,-19.44Z" fill="#fff" stroke="#fff" stroke-width="1.5"/><path d="M-14.46,-23.7 L-11.43,-25.27 L-12.1,-22.58Z" fill="#0e6567" stroke="none"/><path d="M2.35,-14.4 L20.28,-18.88 L29.25,-11.04 L28.69,16.42 L2.35,13.06 L-1.57,-4.31Z" stroke-width="4.7"/><path d="M19.16,-13.28 L12.44,-12.16 L11.32,-5.44 L5.16,-2.07" stroke-width="3"/><path d="M19.72,1.29 L17.48,6.89 L20.85,11.94" stroke-width="3"/>
</g>
</g>
<g transform="translate(535.3,2263.5)">
<circle r="80.5" fill="#909090"/>
<clipPath id="ic20"><circle r="80.5"/></clipPath>
<g clip-path="url(#ic20)" fill="none" stroke="#000" stroke-width="4" stroke-linecap="round" stroke-linejoin="round">
<g stroke-width="4.7" stroke-linecap="butt" stroke-linejoin="miter"><path d="M-2.13,-37.77 L-2.13,83.27"/><path d="M-14.12,-28.24 L-27.01,81.59"/><path d="M9.97,-28.24 L22.86,81.59"/><path d="M-14.12,-28.24 L-14.12,-36.2 L9.97,-36.2 L9.97,-28.24"/><path d="M-22.19,-28.24 L18.38,-28.24" stroke-width="5.2"/><path d="M-16.16,-10.87 L-2.13,-22.64 L12.02,-10.87"/><path d="M-16.16,-10.87 L15.12,15.47"/><path d="M12.02,-10.87 L-19.26,15.47"/><path d="M-19.26,15.47 L18.48,44.04"/><path d="M15.12,15.47 L-22.62,44.04"/><path d="M-22.62,44.04 L21.77,72.06"/><path d="M18.48,44.04 L-25.92,72.06"/><path d="M-29.8,-1.9 V-43.4 A13.15,13.15 0 0 1 -3.5,-43.4"/><path d="M27.9,-1.9 V-43.4 A13.45,13.45 0 0 0 1,-43.4"/></g>
</g>
</g>
<g transform="translate(649.5,2397.8)">
<circle r="80.5" fill="#909090"/>
<clipPath id="ic21"><circle r="80.5"/></clipPath>
<g clip-path="url(#ic21)" fill="none" stroke="#000" stroke-width="4" stroke-linecap="round" stroke-linejoin="round">
<path d="M-82,16.16 L-80.5,16.71 L-79,17.36 L-77.5,18.07 L-76,18.77 L-74.5,19.41 L-73,19.94 L-71.5,20.3 L-70,20.48 L-68.5,20.46 L-67,20.24 L-65.5,19.84 L-64,19.29 L-62.5,18.64 L-61,17.93 L-59.5,17.23 L-58,16.59 L-56.5,16.06 L-55,15.7 L-53.5,15.52 L-52,15.54 L-50.5,15.76 L-49,16.16 L-47.5,16.71 L-46,17.36 L-44.5,18.07 L-43,18.77 L-41.5,19.41 L-40,19.94 L-38.5,20.3 L-37,20.48 L-35.5,20.46 L-34,20.24 L-32.5,19.84 L-31,19.29 L-29.5,18.64 L-28,17.93 L-26.5,17.23 L-25,16.59 L-23.5,16.06 L-22,15.7 L-20.5,15.52" stroke-width="4.3" stroke-linecap="butt"/><path d="M10.4,15.82 L11.9,15.56 L13.4,15.5 L14.9,15.65 L16.4,15.98 L17.9,16.47 L19.4,17.09 L20.9,17.79 L22.4,18.5 L23.9,19.17 L25.4,19.74 L26.9,20.18 L28.4,20.44 L29.9,20.5 L31.4,20.35 L32.9,20.02 L34.4,19.53 L35.9,18.91 L37.4,18.21 L38.9,17.5 L40.4,16.83 L41.9,16.26 L43.4,15.82 L44.9,15.56 L46.4,15.5 L47.9,15.65 L49.4,15.98 L50.9,16.47 L52.4,17.09 L53.9,17.79 L55.4,18.5 L56.9,19.17 L58.4,19.74 L59.9,20.18 L61.4,20.44 L62.9,20.5 L64.4,20.35 L65.9,20.02 L67.4,19.53 L68.9,18.91 L70.4,18.21 L71.9,17.5 L73.4,16.83 L74.9,16.26 L76.4,15.82 L77.9,15.56 L79.4,15.5 L80.9,15.65" stroke-width="4.3" stroke-linecap="butt"/><path d="M-82,29.86 L-80.5,30.41 L-79,31.06 L-77.5,31.77 L-76,32.47 L-74.5,33.11 L-73,33.64 L-71.5,34 L-70,34.18 L-68.5,34.16 L-67,33.94 L-65.5,33.54 L-64,32.99 L-62.5,32.34 L-61,31.63 L-59.5,30.93 L-58,30.29 L-56.5,29.76 L-55,29.4 L-53.5,29.22 L-52,29.24 L-50.5,29.46 L-49,29.86 L-47.5,30.41 L-46,31.06 L-44.5,31.77 L-43,32.47 L-41.5,33.11 L-40,33.64 L-38.5,34 L-37,34.18 L-35.5,34.16 L-34,33.94 L-32.5,33.54 L-31,32.99 L-29.5,32.34 L-28,31.63" stroke-width="4.3" stroke-linecap="butt"/><path d="M16.6,29.73 L18.1,30.25 L19.6,30.88 L21.1,31.58 L22.6,32.29 L24.1,32.95 L25.6,33.51 L27.1,33.92 L28.6,34.15 L30.1,34.19 L31.6,34.02 L33.1,33.67 L34.6,33.15 L36.1,32.52 L37.6,31.82 L39.1,31.11 L40.6,30.45 L42.1,29.89 L43.6,29.48 L45.1,29.25 L46.6,29.21 L48.1,29.38 L49.6,29.73 L51.1,30.25 L52.6,30.88 L54.1,31.58 L55.6,32.29 L57.1,32.95 L58.6,33.51 L60.1,33.92 L61.6,34.15 L63.1,34.19 L64.6,34.02 L66.1,33.67 L67.6,33.15 L69.1,32.52 L70.6,31.82 L72.1,31.11 L73.6,30.45 L75.1,29.89 L76.6,29.48 L78.1,29.25 L79.6,29.21 L81.1,29.38" stroke-width="4.3" stroke-linecap="butt"/><path d="M-82,42.76 L-80.5,43.31 L-79,43.96 L-77.5,44.67 L-76,45.37 L-74.5,46.01 L-73,46.54 L-71.5,46.9 L-70,47.08 L-68.5,47.06 L-67,46.84 L-65.5,46.44 L-64,45.89 L-62.5,45.24 L-61,44.53 L-59.5,43.83 L-58,43.19 L-56.5,42.66 L-55,42.3 L-53.5,42.12 L-52,42.14 L-50.5,42.36 L-49,42.76 L-47.5,43.31 L-46,43.96 L-44.5,44.67 L-43,45.37 L-41.5,46.01 L-40,46.54 L-38.5,46.9 L-37,47.08 L-35.5,47.06 L-34,46.84 L-32.5,46.44 L-31,45.89 L-29.5,45.24 L-28,44.53 L-26.5,43.83" stroke-width="4.3" stroke-linecap="butt"/><path d="M17.1,42.79 L18.6,43.35 L20.1,44.01 L21.6,44.72 L23.1,45.42 L24.6,46.05 L26.1,46.57 L27.6,46.92 L29.1,47.09 L30.6,47.05 L32.1,46.82 L33.6,46.41 L35.1,45.85 L36.6,45.19 L38.1,44.48 L39.6,43.78 L41.1,43.15 L42.6,42.63 L44.1,42.28 L45.6,42.11 L47.1,42.15 L48.6,42.38 L50.1,42.79 L51.6,43.35 L53.1,44.01 L54.6,44.72 L56.1,45.42 L57.6,46.05 L59.1,46.57 L60.6,46.92 L62.1,47.09 L63.6,47.05 L65.1,46.82 L66.6,46.41 L68.1,45.85 L69.6,45.19 L71.1,44.48 L72.6,43.78 L74.1,43.15 L75.6,42.63 L77.1,42.28 L78.6,42.11 L80.1,42.15 L81.6,42.38" stroke-width="4.3" stroke-linecap="butt"/><g transform="translate(-1.6,-3.4)"><path d="M-11,25.5 V-47.7 a7.85,7.85 0 0 1 15.7,0 V25.5 A16.2,16.2 0 1 1 -11,25.5Z" stroke-width="4.5"/><path d="M-3.1,-24 V36" stroke-width="4.3"/><circle cx="-3.1" cy="36.3" r="6.7" fill="#000" stroke="none"/></g>
</g>
<g transform="translate(44.8,-38.6)"><circle r="16" fill="#fff" stroke="#000" stroke-width="4.3"/><g transform="rotate(0)" fill="none" stroke="#000" stroke-width="3.4" stroke-linecap="butt" stroke-linejoin="miter"><path d="M-8.5,7.8 L6.6,-7.3"/><path d="M-9.6,-7.3 L8.1,-8.3 L6.9,9.4"/></g></g>
</g>
<g transform="translate(785.0,2508.9)">
<circle r="80.5" fill="#909090"/>
<clipPath id="ic22"><circle r="80.5"/></clipPath>
<g clip-path="url(#ic22)" fill="none" stroke="#000" stroke-width="4" stroke-linecap="round" stroke-linejoin="round">
<g stroke-width="4.5" stroke-linejoin="round"><path d="M-59.12,34.18 L-38.38,-34.18 L-26.06,-35.3 L-20.45,-53.79 L-6.44,-62.2 L35.58,-10.65 L44.55,32.5"/><path d="M-6.44,-62.2 L12.61,-16.25 L12.61,26.9"/><path d="M-24.94,-34.74 L-29.98,-9.53"/><path d="M-32.22,0.56 L-36.48,18.49"/><path d="M-59.7,34.83 L-58.2,34.58 L-56.7,34.19 L-55.2,33.7 L-53.7,33.14 L-52.2,32.54 L-50.7,31.96 L-49.2,31.43 L-47.7,31 L-46.2,30.7 L-44.7,30.54 L-43.2,30.55 L-41.7,30.71 L-40.2,31.02 L-38.7,31.46 L-37.2,31.99 L-35.7,32.57 L-34.2,33.16 L-32.7,33.73 L-31.2,34.22 L-29.7,34.59 L-28.2,34.84 L-26.7,34.92 L-25.2,34.85 L-23.7,34.62 L-22.2,34.25 L-20.7,33.77 L-19.2,33.21 L-17.7,32.62 L-16.2,32.03 L-14.7,31.5 L-13.2,31.05 L-11.7,30.73 L-10.2,30.55 L-8.7,30.54 L-7.2,30.68 L-5.7,30.97 L-4.2,31.39 L-2.7,31.91 L-1.2,32.49 L0.3,33.09 L1.8,33.66 L3.3,34.16 L4.8,34.55 L6.3,34.81 L7.8,34.92 L9.3,34.87 L10.8,34.66 L12.3,34.31 L13.8,33.84 L15.3,33.29 L16.8,32.7 L18.3,32.11 L19.8,31.57 L21.3,31.11 L22.8,30.77 L24.3,30.57 L25.8,30.53 L27.3,30.65 L28.8,30.93 L30.3,31.33 L31.8,31.84 L33.3,32.41 L34.8,33.01 L36.3,33.58 L37.8,34.09 L39.3,34.51 L40.8,34.79 L42.3,34.92 L43.8,34.89 L45.3,34.7 L46.8,34.36 L48.3,33.91 L49.8,33.37 L51.3,32.78 L52.8,32.19 L54.3,31.63"/><path d="M55,31.40 Q57,30.72 58.6,27.32"/><path d="M-59.7,48.61 L-58.2,48.36 L-56.7,47.98 L-55.2,47.48 L-53.7,46.92 L-52.2,46.33 L-50.7,45.74 L-49.2,45.22 L-47.7,44.79 L-46.2,44.48 L-44.7,44.33 L-43.2,44.33 L-41.7,44.5 L-40.2,44.81 L-38.7,45.24 L-37.2,45.77 L-35.7,46.35 L-34.2,46.95 L-32.7,47.51 L-31.2,48 L-29.7,48.38 L-28.2,48.62 L-26.7,48.71 L-25.2,48.63 L-23.7,48.41 L-22.2,48.04 L-20.7,47.56 L-19.2,47 L-17.7,46.4 L-16.2,45.82 L-14.7,45.28 L-13.2,44.84 L-11.7,44.52 L-10.2,44.34 L-8.7,44.32 L-7.2,44.46 L-5.7,44.76 L-4.2,45.18 L-2.7,45.7 L-1.2,46.28 L0.3,46.87 L1.8,47.44 L3.3,47.94 L4.8,48.34 L6.3,48.6 L7.8,48.71 L9.3,48.65 L10.8,48.44 L12.3,48.09 L13.8,47.62 L15.3,47.08 L16.8,46.48 L18.3,45.89 L19.8,45.35 L21.3,44.89 L22.8,44.55 L24.3,44.35 L25.8,44.31 L27.3,44.44 L28.8,44.71 L30.3,45.12 L31.8,45.62 L33.3,46.2 L34.8,46.79 L36.3,47.37 L37.8,47.88 L39.3,48.29 L40.8,48.57 L42.3,48.7 L43.8,48.67 L45.3,48.48 L46.8,48.15 L48.3,47.69 L49.8,47.15 L51.3,46.56 L52.8,45.97 L54.3,45.42"/><path d="M55,45.19 Q57,44.51 58.6,41.11"/></g>
</g>
<g transform="translate(44.8,-38.6)"><circle r="16" fill="#fff" stroke="#000" stroke-width="4.3"/><g transform="rotate(90)" fill="none" stroke="#000" stroke-width="3.4" stroke-linecap="butt" stroke-linejoin="miter"><path d="M-8.5,7.8 L6.6,-7.3"/><path d="M-9.6,-7.3 L8.1,-8.3 L6.9,9.4"/></g></g>
</g>
<g transform="translate(937.3,2596.6)">
<circle r="80.5" fill="#909090"/>
<clipPath id="ic23"><circle r="80.5"/></clipPath>
<g clip-path="url(#ic23)" fill="none" stroke="#000" stroke-width="4" stroke-linecap="round" stroke-linejoin="round">
<path d="M-18.6,52.3 V40.5 L-36.5,23.7 H-58.9 Q-63.6,23.7 -63.6,19 Q-63.6,16.5 -61.5,14.5 L-32.1,-13.3 Q-28.6,-16.6 -25.3,-16.6 H26.2 A26.6,24.6 0 0 1 52.8,8 Q52.8,10.5 48.6,12.5 Q44,17 48.6,21.5 L59.8,32.1 L50,42.2 L48.1,39.4 H1.6 L-9.6,52.8" stroke-width="4.7" stroke-linejoin="round"/><path d="M-36.31,27.06 L-44.38,36.03 L-36.53,43.88 L-19.72,43.88" stroke-width="4.7" stroke-linejoin="miter"/><path d="M4.93,39.39 L4.93,52.84" stroke-width="4.7"/><path d="M22.3,41.63 L12.78,52.84" stroke-width="4.7"/><path d="M-46.06,57.88 L65.45,57.88" stroke-width="7"/><circle cx="-46.62" cy="9.47" r="2" fill="#000" stroke="none"/><circle cx="-66.35" cy="18.66" r="1.6" fill="#000" stroke="none"/><path d="M-55.81,14.74 C-55.21,15.21 -53.15,16.42 -52.22,17.54 C-51.29,18.66 -50.55,20.81 -50.21,21.46" stroke-width="1.8"/>
</g>
<g transform="translate(44.8,-38.6)"><circle r="16" fill="#fff" stroke="#000" stroke-width="4.3"/><g transform="rotate(90)" fill="none" stroke="#000" stroke-width="3.4" stroke-linecap="butt" stroke-linejoin="miter"><path d="M-8.5,7.8 L6.6,-7.3"/><path d="M-9.6,-7.3 L8.1,-8.3 L6.9,9.4"/></g></g>
</g>
<g transform="translate(1275.5,2686.2)">
<circle r="80.5" fill="#fff"/>
<clipPath id="ic24"><circle r="80.5"/></clipPath>
<g clip-path="url(#ic24)" fill="none" stroke="#000" stroke-width="4" stroke-linecap="round" stroke-linejoin="round">
<g stroke-width="5" stroke-linecap="butt"><path d="M-65.3,3 C-45,-18 -28,-22.1 -12,-22.1 C10,-22.1 28,-10 40.6,2.2 C50,14 54.5,28 54.9,44.8"/><path d="M-65.3,3 C-45,24 -28,28.5 -12,28.5 C10,28.5 28,16 40.6,2.2 C50,-10 54.5,-22 54.9,-38.2"/><path d="M-46.5,-6.6 L-31.9,8 M-31.9,-6.6 L-46.5,8" stroke-width="4.5"/></g>
</g>
<circle r="80.5" fill="none" stroke="#e2e2e2" stroke-width="4.3"/>
</g>
<g transform="translate(1449.9,2686.2)">
<circle r="80.5" fill="#fff"/>
<clipPath id="ic25"><circle r="80.5"/></clipPath>
<g clip-path="url(#ic25)" fill="none" stroke="#000" stroke-width="4" stroke-linecap="round" stroke-linejoin="round">
<text x="-1" y="-44.4" font-size="27" font-weight="bold" text-anchor="middle" fill="#000" stroke="none">N</text><path d="M-1,-41.5 L10.1,-16.9 L-1,-23 L-12,-16.9Z" fill="#000" stroke="none"/><g stroke-width="4.7" stroke-linecap="butt"><path d="M-1,-12.9 C-12,-5 -16.8,8 -16.8,19.6 C-16.8,32 -10,43 -1,50.4 C6,56 15,60.5 24.7,61"/><path d="M-1,-12.9 C10,-5 14.8,8 14.8,19.6 C14.8,32 8,43 -1,50.4 C-8,56 -17,60.5 -26.6,61"/></g><circle cx="0" cy="-0.6" r="1.5" fill="#000" stroke="none"/>
</g>
<circle r="80.5" fill="none" stroke="#e2e2e2" stroke-width="4.3"/>
</g>
<g transform="translate(1624.4,2656.1)">
<circle r="80.5" fill="#fff"/>
<clipPath id="ic26"><circle r="80.5"/></clipPath>
<g clip-path="url(#ic26)" fill="none" stroke="#000" stroke-width="4" stroke-linecap="round" stroke-linejoin="round">
<g stroke-width="4.5" stroke-linecap="butt" stroke-linejoin="miter"><path d="M-56.4,1.6 V-10"/><path d="M-62.9,-4 L-56.4,-12.6 L-49.9,-4"/><path d="M-37.2,1.6 V-10"/><path d="M-43.7,-4 L-37.2,-12.6 L-30.700000000000003,-4"/><path d="M-19.8,1.6 V-10"/><path d="M-26.3,-4 L-19.8,-12.6 L-13.3,-4"/><path d="M-2.4,1.6 V-10"/><path d="M-8.9,-4 L-2.4,-12.6 L4.1,-4"/><path d="M15,1.6 V-10"/><path d="M8.5,-4 L15,-12.6 L21.5,-4"/><path d="M32.3,1.6 V-10"/><path d="M25.799999999999997,-4 L32.3,-12.6 L38.8,-4"/><path d="M49.9,1.6 V-10"/><path d="M43.4,-4 L49.9,-12.6 L56.4,-4"/></g><path d="M-82,15.98 L-80.5,16.71 L-79,17.48 L-77.5,18.24 L-76,18.93 L-74.5,19.5 L-73,19.89 L-71.5,20.08 L-70,20.06 L-68.5,19.83 L-67,19.4 L-65.5,18.8 L-64,18.1 L-62.5,17.33 L-61,16.55 L-59.5,15.84 L-58,15.24 L-56.5,14.8 L-55,14.55 L-53.5,14.51 L-52,14.69 L-50.5,15.07 L-49,15.62 L-47.5,16.31 L-46,17.07 L-44.5,17.84 L-43,18.58 L-41.5,19.21 L-40,19.7 L-38.5,20.01 L-37,20.1 L-35.5,19.98 L-34,19.65 L-32.5,19.14 L-31,18.48 L-29.5,17.74 L-28,16.96 L-26.5,16.21 L-25,15.54 L-23.5,15.01 L-22,14.66 L-20.5,14.5 L-19,14.57 L-17.5,14.85 L-16,15.31 L-14.5,15.93 L-13,16.66 L-11.5,17.43 L-10,18.19 L-8.5,18.89 L-7,19.46 L-5.5,19.87 L-4,20.08 L-2.5,20.07 L-1,19.85 L0.5,19.43 L2,18.85 L3.5,18.15 L5,17.38 L6.5,16.6 L8,15.89 L9.5,15.27 L11,14.82 L12.5,14.56 L14,14.51 L15.5,14.67 L17,15.04 L18.5,15.58 L20,16.26 L21.5,17.01 L23,17.79 L24.5,18.53 L26,19.18 L27.5,19.68 L29,19.99 L30.5,20.1 L32,19.99 L33.5,19.68 L35,19.18 L36.5,18.53 L38,17.79 L39.5,17.01 L41,16.26 L42.5,15.58 L44,15.04 L45.5,14.67 L47,14.51 L48.5,14.56 L50,14.82 L51.5,15.27 L53,15.89 L54.5,16.6 L56,17.38 L57.5,18.15 L59,18.85 L60.5,19.43 L62,19.85 L63.5,20.07 L65,20.08 L66.5,19.87 L68,19.46 L69.5,18.89 L71,18.19 L72.5,17.43 L74,16.66 L75.5,15.93 L77,15.31 L78.5,14.85 L80,14.57 L81.5,14.5" stroke-width="4.3"/><path d="M-82,29.68 L-80.5,30.41 L-79,31.18 L-77.5,31.94 L-76,32.63 L-74.5,33.2 L-73,33.59 L-71.5,33.78 L-70,33.76 L-68.5,33.53 L-67,33.1 L-65.5,32.5 L-64,31.8 L-62.5,31.03 L-61,30.25 L-59.5,29.54 L-58,28.94 L-56.5,28.5 L-55,28.25 L-53.5,28.21 L-52,28.39 L-50.5,28.77 L-49,29.32 L-47.5,30.01 L-46,30.77 L-44.5,31.54 L-43,32.28 L-41.5,32.91 L-40,33.4 L-38.5,33.71 L-37,33.8 L-35.5,33.68 L-34,33.35 L-32.5,32.84 L-31,32.18 L-29.5,31.44 L-28,30.66 L-26.5,29.91 L-25,29.24 L-23.5,28.71 L-22,28.36 L-20.5,28.2 L-19,28.27 L-17.5,28.55 L-16,29.01 L-14.5,29.63 L-13,30.36 L-11.5,31.13 L-10,31.89 L-8.5,32.59 L-7,33.16 L-5.5,33.57 L-4,33.78 L-2.5,33.77 L-1,33.55 L0.5,33.13 L2,32.55 L3.5,31.85 L5,31.08 L6.5,30.3 L8,29.59 L9.5,28.97 L11,28.52 L12.5,28.26 L14,28.21 L15.5,28.37 L17,28.74 L18.5,29.28 L20,29.96 L21.5,30.71 L23,31.49 L24.5,32.23 L26,32.88 L27.5,33.38 L29,33.69 L30.5,33.8 L32,33.69 L33.5,33.38 L35,32.88 L36.5,32.23 L38,31.49 L39.5,30.71 L41,29.96 L42.5,29.28 L44,28.74 L45.5,28.37 L47,28.21 L48.5,28.26 L50,28.52 L51.5,28.97 L53,29.59 L54.5,30.3 L56,31.08 L57.5,31.85 L59,32.55 L60.5,33.13 L62,33.55 L63.5,33.77 L65,33.78 L66.5,33.57 L68,33.16 L69.5,32.59 L71,31.89 L72.5,31.13 L74,30.36 L75.5,29.63 L77,29.01 L78.5,28.55 L80,28.27 L81.5,28.2" stroke-width="4.3"/><path d="M-82,42.88 L-80.5,43.61 L-79,44.38 L-77.5,45.14 L-76,45.83 L-74.5,46.4 L-73,46.79 L-71.5,46.98 L-70,46.96 L-68.5,46.73 L-67,46.3 L-65.5,45.7 L-64,45 L-62.5,44.23 L-61,43.45 L-59.5,42.74 L-58,42.14 L-56.5,41.7 L-55,41.45 L-53.5,41.41 L-52,41.59 L-50.5,41.97 L-49,42.52 L-47.5,43.21 L-46,43.97 L-44.5,44.74 L-43,45.48 L-41.5,46.11 L-40,46.6 L-38.5,46.91 L-37,47 L-35.5,46.88 L-34,46.55 L-32.5,46.04 L-31,45.38 L-29.5,44.64 L-28,43.86 L-26.5,43.11 L-25,42.44 L-23.5,41.91 L-22,41.56 L-20.5,41.4 L-19,41.47 L-17.5,41.75 L-16,42.21 L-14.5,42.83 L-13,43.56 L-11.5,44.33 L-10,45.09 L-8.5,45.79 L-7,46.36 L-5.5,46.77 L-4,46.98 L-2.5,46.97 L-1,46.75 L0.5,46.33 L2,45.75 L3.5,45.05 L5,44.28 L6.5,43.5 L8,42.79 L9.5,42.17 L11,41.72 L12.5,41.46 L14,41.41 L15.5,41.57 L17,41.94 L18.5,42.48 L20,43.16 L21.5,43.91 L23,44.69 L24.5,45.43 L26,46.08 L27.5,46.58 L29,46.89 L30.5,47 L32,46.89 L33.5,46.58 L35,46.08 L36.5,45.43 L38,44.69 L39.5,43.91 L41,43.16 L42.5,42.48 L44,41.94 L45.5,41.57 L47,41.41 L48.5,41.46 L50,41.72 L51.5,42.17 L53,42.79 L54.5,43.5 L56,44.28 L57.5,45.05 L59,45.75 L60.5,46.33 L62,46.75 L63.5,46.97 L65,46.98 L66.5,46.77 L68,46.36 L69.5,45.79 L71,45.09 L72.5,44.33 L74,43.56 L75.5,42.83 L77,42.21 L78.5,41.75 L80,41.47 L81.5,41.4" stroke-width="4.3"/><path d="M-82,56.38 L-80.5,57.11 L-79,57.88 L-77.5,58.64 L-76,59.33 L-74.5,59.9 L-73,60.29 L-71.5,60.48 L-70,60.46 L-68.5,60.23 L-67,59.8 L-65.5,59.2 L-64,58.5 L-62.5,57.73 L-61,56.95 L-59.5,56.24 L-58,55.64 L-56.5,55.2 L-55,54.95 L-53.5,54.91 L-52,55.09 L-50.5,55.47 L-49,56.02 L-47.5,56.71 L-46,57.47 L-44.5,58.24 L-43,58.98 L-41.5,59.61 L-40,60.1 L-38.5,60.41 L-37,60.5 L-35.5,60.38 L-34,60.05 L-32.5,59.54 L-31,58.88 L-29.5,58.14 L-28,57.36 L-26.5,56.61 L-25,55.94 L-23.5,55.41 L-22,55.06 L-20.5,54.9 L-19,54.97 L-17.5,55.25 L-16,55.71 L-14.5,56.33 L-13,57.06 L-11.5,57.83 L-10,58.59 L-8.5,59.29 L-7,59.86 L-5.5,60.27 L-4,60.48 L-2.5,60.47 L-1,60.25 L0.5,59.83 L2,59.25 L3.5,58.55 L5,57.78 L6.5,57 L8,56.29 L9.5,55.67 L11,55.22 L12.5,54.96 L14,54.91 L15.5,55.07 L17,55.44 L18.5,55.98 L20,56.66 L21.5,57.41 L23,58.19 L24.5,58.93 L26,59.58 L27.5,60.08 L29,60.39 L30.5,60.5 L32,60.39 L33.5,60.08 L35,59.58 L36.5,58.93 L38,58.19 L39.5,57.41 L41,56.66 L42.5,55.98 L44,55.44 L45.5,55.07 L47,54.91 L48.5,54.96 L50,55.22 L51.5,55.67 L53,56.29 L54.5,57 L56,57.78 L57.5,58.55 L59,59.25 L60.5,59.83 L62,60.25 L63.5,60.47 L65,60.48 L66.5,60.27 L68,59.86 L69.5,59.29 L71,58.59 L72.5,57.83 L74,57.06 L75.5,56.33 L77,55.71 L78.5,55.25 L80,54.97 L81.5,54.9" stroke-width="4.3"/>
</g>
<circle r="80.5" fill="none" stroke="#e2e2e2" stroke-width="4.3"/>
</g>
<g transform="translate(1789.8,2596.6)">
<circle r="80.5" fill="#fff"/>
<clipPath id="ic27"><circle r="80.5"/></clipPath>
<g clip-path="url(#ic27)" fill="none" stroke="#000" stroke-width="4" stroke-linecap="round" stroke-linejoin="round">
<path d="M-82,16.16 L-80.5,16.71 L-79,17.36 L-77.5,18.07 L-76,18.77 L-74.5,19.41 L-73,19.94 L-71.5,20.3 L-70,20.48 L-68.5,20.46 L-67,20.24 L-65.5,19.84 L-64,19.29 L-62.5,18.64 L-61,17.93 L-59.5,17.23 L-58,16.59 L-56.5,16.06 L-55,15.7 L-53.5,15.52 L-52,15.54 L-50.5,15.76 L-49,16.16 L-47.5,16.71 L-46,17.36 L-44.5,18.07 L-43,18.77 L-41.5,19.41 L-40,19.94 L-38.5,20.3 L-37,20.48 L-35.5,20.46 L-34,20.24 L-32.5,19.84 L-31,19.29 L-29.5,18.64 L-28,17.93 L-26.5,17.23 L-25,16.59 L-23.5,16.06 L-22,15.7 L-20.5,15.52" stroke-width="4.3" stroke-linecap="butt"/><path d="M10.4,15.82 L11.9,15.56 L13.4,15.5 L14.9,15.65 L16.4,15.98 L17.9,16.47 L19.4,17.09 L20.9,17.79 L22.4,18.5 L23.9,19.17 L25.4,19.74 L26.9,20.18 L28.4,20.44 L29.9,20.5 L31.4,20.35 L32.9,20.02 L34.4,19.53 L35.9,18.91 L37.4,18.21 L38.9,17.5 L40.4,16.83 L41.9,16.26 L43.4,15.82 L44.9,15.56 L46.4,15.5 L47.9,15.65 L49.4,15.98 L50.9,16.47 L52.4,17.09 L53.9,17.79 L55.4,18.5 L56.9,19.17 L58.4,19.74 L59.9,20.18 L61.4,20.44 L62.9,20.5 L64.4,20.35 L65.9,20.02 L67.4,19.53 L68.9,18.91 L70.4,18.21 L71.9,17.5 L73.4,16.83 L74.9,16.26 L76.4,15.82 L77.9,15.56 L79.4,15.5 L80.9,15.65" stroke-width="4.3" stroke-linecap="butt"/><path d="M-82,29.86 L-80.5,30.41 L-79,31.06 L-77.5,31.77 L-76,32.47 L-74.5,33.11 L-73,33.64 L-71.5,34 L-70,34.18 L-68.5,34.16 L-67,33.94 L-65.5,33.54 L-64,32.99 L-62.5,32.34 L-61,31.63 L-59.5,30.93 L-58,30.29 L-56.5,29.76 L-55,29.4 L-53.5,29.22 L-52,29.24 L-50.5,29.46 L-49,29.86 L-47.5,30.41 L-46,31.06 L-44.5,31.77 L-43,32.47 L-41.5,33.11 L-40,33.64 L-38.5,34 L-37,34.18 L-35.5,34.16 L-34,33.94 L-32.5,33.54 L-31,32.99 L-29.5,32.34 L-28,31.63" stroke-width="4.3" stroke-linecap="butt"/><path d="M16.6,29.73 L18.1,30.25 L19.6,30.88 L21.1,31.58 L22.6,32.29 L24.1,32.95 L25.6,33.51 L27.1,33.92 L28.6,34.15 L30.1,34.19 L31.6,34.02 L33.1,33.67 L34.6,33.15 L36.1,32.52 L37.6,31.82 L39.1,31.11 L40.6,30.45 L42.1,29.89 L43.6,29.48 L45.1,29.25 L46.6,29.21 L48.1,29.38 L49.6,29.73 L51.1,30.25 L52.6,30.88 L54.1,31.58 L55.6,32.29 L57.1,32.95 L58.6,33.51 L60.1,33.92 L61.6,34.15 L63.1,34.19 L64.6,34.02 L66.1,33.67 L67.6,33.15 L69.1,32.52 L70.6,31.82 L72.1,31.11 L73.6,30.45 L75.1,29.89 L76.6,29.48 L78.1,29.25 L79.6,29.21 L81.1,29.38" stroke-width="4.3" stroke-linecap="butt"/><path d="M-82,42.76 L-80.5,43.31 L-79,43.96 L-77.5,44.67 L-76,45.37 L-74.5,46.01 L-73,46.54 L-71.5,46.9 L-70,47.08 L-68.5,47.06 L-67,46.84 L-65.5,46.44 L-64,45.89 L-62.5,45.24 L-61,44.53 L-59.5,43.83 L-58,43.19 L-56.5,42.66 L-55,42.3 L-53.5,42.12 L-52,42.14 L-50.5,42.36 L-49,42.76 L-47.5,43.31 L-46,43.96 L-44.5,44.67 L-43,45.37 L-41.5,46.01 L-40,46.54 L-38.5,46.9 L-37,47.08 L-35.5,47.06 L-34,46.84 L-32.5,46.44 L-31,45.89 L-29.5,45.24 L-28,44.53 L-26.5,43.83" stroke-width="4.3" stroke-linecap="butt"/><path d="M17.1,42.79 L18.6,43.35 L20.1,44.01 L21.6,44.72 L23.1,45.42 L24.6,46.05 L26.1,46.57 L27.6,46.92 L29.1,47.09 L30.6,47.05 L32.1,46.82 L33.6,46.41 L35.1,45.85 L36.6,45.19 L38.1,44.48 L39.6,43.78 L41.1,43.15 L42.6,42.63 L44.1,42.28 L45.6,42.11 L47.1,42.15 L48.6,42.38 L50.1,42.79 L51.6,43.35 L53.1,44.01 L54.6,44.72 L56.1,45.42 L57.6,46.05 L59.1,46.57 L60.6,46.92 L62.1,47.09 L63.6,47.05 L65.1,46.82 L66.6,46.41 L68.1,45.85 L69.6,45.19 L71.1,44.48 L72.6,43.78 L74.1,43.15 L75.6,42.63 L77.1,42.28 L78.6,42.11 L80.1,42.15 L81.6,42.38" stroke-width="4.3" stroke-linecap="butt"/><g transform="translate(-1.6,-3.4)"><path d="M-11,25.5 V-47.7 a7.85,7.85 0 0 1 15.7,0 V25.5 A16.2,16.2 0 1 1 -11,25.5Z" stroke-width="4.5"/><path d="M-3.1,-24 V36" stroke-width="4.3"/><circle cx="-3.1" cy="36.3" r="6.7" fill="#000" stroke="none"/></g>
</g>
<circle r="80.5" fill="none" stroke="#e2e2e2" stroke-width="4.3"/>
<g transform="translate(44.8,-38.6)"><circle r="16" fill="#fff" stroke="#000" stroke-width="4.3"/><g transform="rotate(0)" fill="none" stroke="#000" stroke-width="3.4" stroke-linecap="butt" stroke-linejoin="miter"><path d="M-8.5,7.8 L6.6,-7.3"/><path d="M-9.6,-7.3 L8.1,-8.3 L6.9,9.4"/></g></g>
</g>
<text x="2201" y="2761.3" font-size="32.5" fill="#fff" textLength="1223" lengthAdjust="spacingAndGlyphs"><tspan font-weight="bold">Source:</tspan> EEA Report No 01/2017 — <tspan font-style="italic">Climate change, impacts and vulnerability in Europe 2016</tspan>.</text>
</svg></body></html>
